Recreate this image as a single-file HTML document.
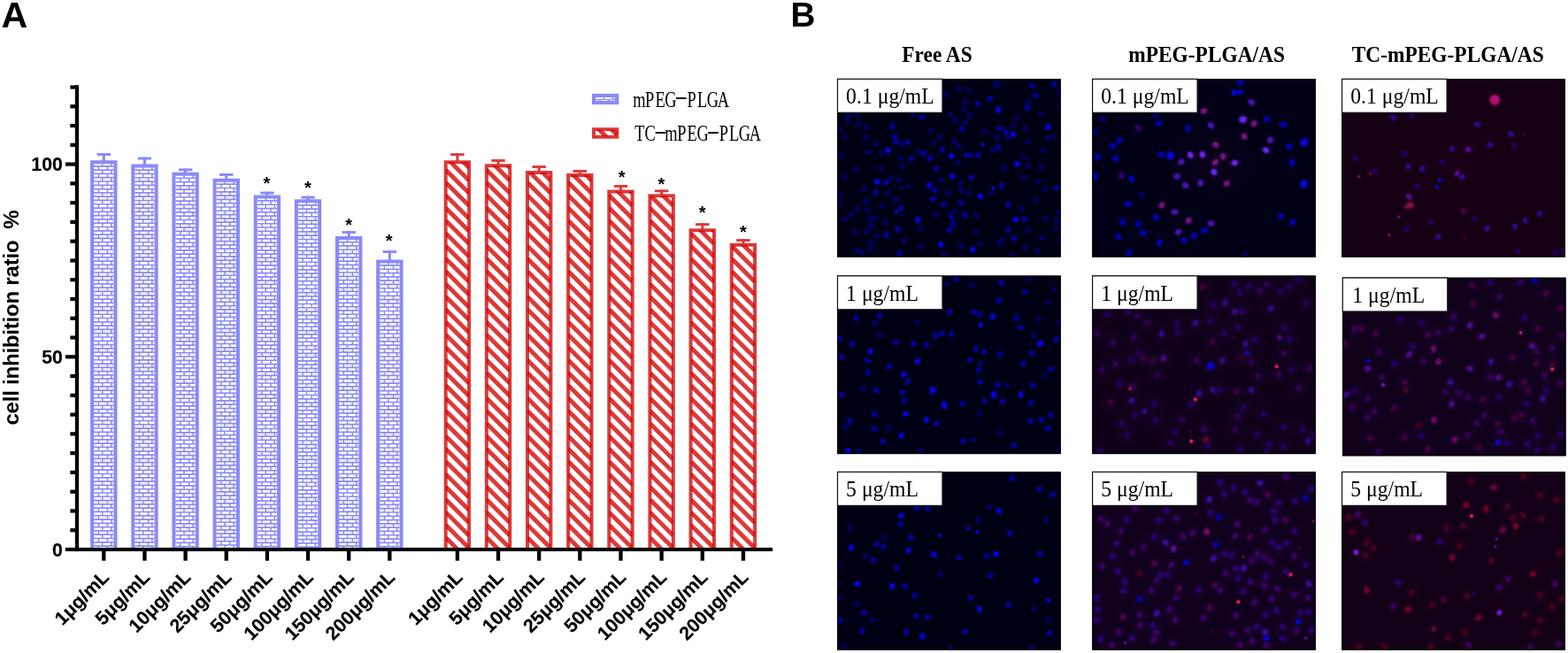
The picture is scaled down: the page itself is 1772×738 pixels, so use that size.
<!DOCTYPE html>
<html lang="en"><head><meta charset="utf-8"><title>Figure</title>
<style>
html,body{margin:0;padding:0;background:#fff;}
body{width:1772px;height:738px;overflow:hidden;position:relative;}
svg{position:absolute;left:0;top:0;display:block;}
text{font-family:"Liberation Sans",sans-serif;fill:#000;}
.b{font-weight:bold;}
.s{font-family:"Liberation Serif",serif;}
</style></head><body>
<svg width="1772" height="738" viewBox="0 0 1772 738">
<defs>
<filter id="bl" x="-50%" y="-50%" width="200%" height="200%"><feGaussianBlur stdDeviation="1.3"/></filter>
<radialGradient id="rg2"><stop offset="0" stop-color="#1c0018" stop-opacity="0.7"/><stop offset="1" stop-color="#1c0018" stop-opacity="0"/></radialGradient>
<radialGradient id="rg1"><stop offset="0" stop-color="#1a0420" stop-opacity="0.4"/><stop offset="1" stop-color="#1a0420" stop-opacity="0"/></radialGradient>
<radialGradient id="g000060"><stop offset="0" stop-color="#000060" stop-opacity="1"/><stop offset="0.34" stop-color="#000060" stop-opacity="0.95"/><stop offset="0.5" stop-color="#000060" stop-opacity="0.7"/><stop offset="0.62" stop-color="#000060" stop-opacity="0.4"/><stop offset="0.74" stop-color="#000060" stop-opacity="0.18"/><stop offset="0.87" stop-color="#000060" stop-opacity="0.07"/><stop offset="1" stop-color="#000060" stop-opacity="0"/></radialGradient><radialGradient id="g000068"><stop offset="0" stop-color="#000068" stop-opacity="1"/><stop offset="0.34" stop-color="#000068" stop-opacity="0.95"/><stop offset="0.5" stop-color="#000068" stop-opacity="0.7"/><stop offset="0.62" stop-color="#000068" stop-opacity="0.4"/><stop offset="0.74" stop-color="#000068" stop-opacity="0.18"/><stop offset="0.87" stop-color="#000068" stop-opacity="0.07"/><stop offset="1" stop-color="#000068" stop-opacity="0"/></radialGradient><radialGradient id="g00009e"><stop offset="0" stop-color="#00009e" stop-opacity="1"/><stop offset="0.34" stop-color="#00009e" stop-opacity="0.95"/><stop offset="0.5" stop-color="#00009e" stop-opacity="0.7"/><stop offset="0.62" stop-color="#00009e" stop-opacity="0.4"/><stop offset="0.74" stop-color="#00009e" stop-opacity="0.18"/><stop offset="0.87" stop-color="#00009e" stop-opacity="0.07"/><stop offset="1" stop-color="#00009e" stop-opacity="0"/></radialGradient><radialGradient id="g0000b2"><stop offset="0" stop-color="#0000b2" stop-opacity="1"/><stop offset="0.34" stop-color="#0000b2" stop-opacity="0.95"/><stop offset="0.5" stop-color="#0000b2" stop-opacity="0.7"/><stop offset="0.62" stop-color="#0000b2" stop-opacity="0.4"/><stop offset="0.74" stop-color="#0000b2" stop-opacity="0.18"/><stop offset="0.87" stop-color="#0000b2" stop-opacity="0.07"/><stop offset="1" stop-color="#0000b2" stop-opacity="0"/></radialGradient><radialGradient id="g0404de"><stop offset="0" stop-color="#0404de" stop-opacity="1"/><stop offset="0.34" stop-color="#0404de" stop-opacity="0.95"/><stop offset="0.5" stop-color="#0404de" stop-opacity="0.7"/><stop offset="0.62" stop-color="#0404de" stop-opacity="0.4"/><stop offset="0.74" stop-color="#0404de" stop-opacity="0.18"/><stop offset="0.87" stop-color="#0404de" stop-opacity="0.07"/><stop offset="1" stop-color="#0404de" stop-opacity="0"/></radialGradient><radialGradient id="g0606ec"><stop offset="0" stop-color="#0606ec" stop-opacity="1"/><stop offset="0.34" stop-color="#0606ec" stop-opacity="0.95"/><stop offset="0.5" stop-color="#0606ec" stop-opacity="0.7"/><stop offset="0.62" stop-color="#0606ec" stop-opacity="0.4"/><stop offset="0.74" stop-color="#0606ec" stop-opacity="0.18"/><stop offset="0.87" stop-color="#0606ec" stop-opacity="0.07"/><stop offset="1" stop-color="#0606ec" stop-opacity="0"/></radialGradient><radialGradient id="g2000aa"><stop offset="0" stop-color="#2000aa" stop-opacity="1"/><stop offset="0.34" stop-color="#2000aa" stop-opacity="0.95"/><stop offset="0.5" stop-color="#2000aa" stop-opacity="0.7"/><stop offset="0.62" stop-color="#2000aa" stop-opacity="0.4"/><stop offset="0.74" stop-color="#2000aa" stop-opacity="0.18"/><stop offset="0.87" stop-color="#2000aa" stop-opacity="0.07"/><stop offset="1" stop-color="#2000aa" stop-opacity="0"/></radialGradient><radialGradient id="g22005c"><stop offset="0" stop-color="#22005c" stop-opacity="1"/><stop offset="0.34" stop-color="#22005c" stop-opacity="0.95"/><stop offset="0.5" stop-color="#22005c" stop-opacity="0.7"/><stop offset="0.62" stop-color="#22005c" stop-opacity="0.4"/><stop offset="0.74" stop-color="#22005c" stop-opacity="0.18"/><stop offset="0.87" stop-color="#22005c" stop-opacity="0.07"/><stop offset="1" stop-color="#22005c" stop-opacity="0"/></radialGradient><radialGradient id="g22005e"><stop offset="0" stop-color="#22005e" stop-opacity="1"/><stop offset="0.34" stop-color="#22005e" stop-opacity="0.95"/><stop offset="0.5" stop-color="#22005e" stop-opacity="0.7"/><stop offset="0.62" stop-color="#22005e" stop-opacity="0.4"/><stop offset="0.74" stop-color="#22005e" stop-opacity="0.18"/><stop offset="0.87" stop-color="#22005e" stop-opacity="0.07"/><stop offset="1" stop-color="#22005e" stop-opacity="0"/></radialGradient><radialGradient id="g240062"><stop offset="0" stop-color="#240062" stop-opacity="1"/><stop offset="0.34" stop-color="#240062" stop-opacity="0.95"/><stop offset="0.5" stop-color="#240062" stop-opacity="0.7"/><stop offset="0.62" stop-color="#240062" stop-opacity="0.4"/><stop offset="0.74" stop-color="#240062" stop-opacity="0.18"/><stop offset="0.87" stop-color="#240062" stop-opacity="0.07"/><stop offset="1" stop-color="#240062" stop-opacity="0"/></radialGradient><radialGradient id="g2a0072"><stop offset="0" stop-color="#2a0072" stop-opacity="1"/><stop offset="0.34" stop-color="#2a0072" stop-opacity="0.95"/><stop offset="0.5" stop-color="#2a0072" stop-opacity="0.7"/><stop offset="0.62" stop-color="#2a0072" stop-opacity="0.4"/><stop offset="0.74" stop-color="#2a0072" stop-opacity="0.18"/><stop offset="0.87" stop-color="#2a0072" stop-opacity="0.07"/><stop offset="1" stop-color="#2a0072" stop-opacity="0"/></radialGradient><radialGradient id="g300050"><stop offset="0" stop-color="#300050" stop-opacity="1"/><stop offset="0.34" stop-color="#300050" stop-opacity="0.95"/><stop offset="0.5" stop-color="#300050" stop-opacity="0.7"/><stop offset="0.62" stop-color="#300050" stop-opacity="0.4"/><stop offset="0.74" stop-color="#300050" stop-opacity="0.18"/><stop offset="0.87" stop-color="#300050" stop-opacity="0.07"/><stop offset="1" stop-color="#300050" stop-opacity="0"/></radialGradient><radialGradient id="g30006c"><stop offset="0" stop-color="#30006c" stop-opacity="1"/><stop offset="0.34" stop-color="#30006c" stop-opacity="0.95"/><stop offset="0.5" stop-color="#30006c" stop-opacity="0.7"/><stop offset="0.62" stop-color="#30006c" stop-opacity="0.4"/><stop offset="0.74" stop-color="#30006c" stop-opacity="0.18"/><stop offset="0.87" stop-color="#30006c" stop-opacity="0.07"/><stop offset="1" stop-color="#30006c" stop-opacity="0"/></radialGradient><radialGradient id="g300882"><stop offset="0" stop-color="#300882" stop-opacity="1"/><stop offset="0.34" stop-color="#300882" stop-opacity="0.95"/><stop offset="0.5" stop-color="#300882" stop-opacity="0.7"/><stop offset="0.62" stop-color="#300882" stop-opacity="0.4"/><stop offset="0.74" stop-color="#300882" stop-opacity="0.18"/><stop offset="0.87" stop-color="#300882" stop-opacity="0.07"/><stop offset="1" stop-color="#300882" stop-opacity="0"/></radialGradient><radialGradient id="g30088c"><stop offset="0" stop-color="#30088c" stop-opacity="1"/><stop offset="0.34" stop-color="#30088c" stop-opacity="0.95"/><stop offset="0.5" stop-color="#30088c" stop-opacity="0.7"/><stop offset="0.62" stop-color="#30088c" stop-opacity="0.4"/><stop offset="0.74" stop-color="#30088c" stop-opacity="0.18"/><stop offset="0.87" stop-color="#30088c" stop-opacity="0.07"/><stop offset="1" stop-color="#30088c" stop-opacity="0"/></radialGradient><radialGradient id="g320054"><stop offset="0" stop-color="#320054" stop-opacity="1"/><stop offset="0.34" stop-color="#320054" stop-opacity="0.95"/><stop offset="0.5" stop-color="#320054" stop-opacity="0.7"/><stop offset="0.62" stop-color="#320054" stop-opacity="0.4"/><stop offset="0.74" stop-color="#320054" stop-opacity="0.18"/><stop offset="0.87" stop-color="#320054" stop-opacity="0.07"/><stop offset="1" stop-color="#320054" stop-opacity="0"/></radialGradient><radialGradient id="g340018"><stop offset="0" stop-color="#340018" stop-opacity="1"/><stop offset="0.34" stop-color="#340018" stop-opacity="0.95"/><stop offset="0.5" stop-color="#340018" stop-opacity="0.7"/><stop offset="0.62" stop-color="#340018" stop-opacity="0.4"/><stop offset="0.74" stop-color="#340018" stop-opacity="0.18"/><stop offset="0.87" stop-color="#340018" stop-opacity="0.07"/><stop offset="1" stop-color="#340018" stop-opacity="0"/></radialGradient><radialGradient id="g34088a"><stop offset="0" stop-color="#34088a" stop-opacity="1"/><stop offset="0.34" stop-color="#34088a" stop-opacity="0.95"/><stop offset="0.5" stop-color="#34088a" stop-opacity="0.7"/><stop offset="0.62" stop-color="#34088a" stop-opacity="0.4"/><stop offset="0.74" stop-color="#34088a" stop-opacity="0.18"/><stop offset="0.87" stop-color="#34088a" stop-opacity="0.07"/><stop offset="1" stop-color="#34088a" stop-opacity="0"/></radialGradient><radialGradient id="g380a9c"><stop offset="0" stop-color="#380a9c" stop-opacity="1"/><stop offset="0.34" stop-color="#380a9c" stop-opacity="0.95"/><stop offset="0.5" stop-color="#380a9c" stop-opacity="0.7"/><stop offset="0.62" stop-color="#380a9c" stop-opacity="0.4"/><stop offset="0.74" stop-color="#380a9c" stop-opacity="0.18"/><stop offset="0.87" stop-color="#380a9c" stop-opacity="0.07"/><stop offset="1" stop-color="#380a9c" stop-opacity="0"/></radialGradient><radialGradient id="g3a0062"><stop offset="0" stop-color="#3a0062" stop-opacity="1"/><stop offset="0.34" stop-color="#3a0062" stop-opacity="0.95"/><stop offset="0.5" stop-color="#3a0062" stop-opacity="0.7"/><stop offset="0.62" stop-color="#3a0062" stop-opacity="0.4"/><stop offset="0.74" stop-color="#3a0062" stop-opacity="0.18"/><stop offset="0.87" stop-color="#3a0062" stop-opacity="0.07"/><stop offset="1" stop-color="#3a0062" stop-opacity="0"/></radialGradient><radialGradient id="g3c0038"><stop offset="0" stop-color="#3c0038" stop-opacity="1"/><stop offset="0.34" stop-color="#3c0038" stop-opacity="0.95"/><stop offset="0.5" stop-color="#3c0038" stop-opacity="0.7"/><stop offset="0.62" stop-color="#3c0038" stop-opacity="0.4"/><stop offset="0.74" stop-color="#3c0038" stop-opacity="0.18"/><stop offset="0.87" stop-color="#3c0038" stop-opacity="0.07"/><stop offset="1" stop-color="#3c0038" stop-opacity="0"/></radialGradient><radialGradient id="g400034"><stop offset="0" stop-color="#400034" stop-opacity="1"/><stop offset="0.34" stop-color="#400034" stop-opacity="0.95"/><stop offset="0.5" stop-color="#400034" stop-opacity="0.7"/><stop offset="0.62" stop-color="#400034" stop-opacity="0.4"/><stop offset="0.74" stop-color="#400034" stop-opacity="0.18"/><stop offset="0.87" stop-color="#400034" stop-opacity="0.07"/><stop offset="1" stop-color="#400034" stop-opacity="0"/></radialGradient><radialGradient id="g40003c"><stop offset="0" stop-color="#40003c" stop-opacity="1"/><stop offset="0.34" stop-color="#40003c" stop-opacity="0.95"/><stop offset="0.5" stop-color="#40003c" stop-opacity="0.7"/><stop offset="0.62" stop-color="#40003c" stop-opacity="0.4"/><stop offset="0.74" stop-color="#40003c" stop-opacity="0.18"/><stop offset="0.87" stop-color="#40003c" stop-opacity="0.07"/><stop offset="1" stop-color="#40003c" stop-opacity="0"/></radialGradient><radialGradient id="g440022"><stop offset="0" stop-color="#440022" stop-opacity="1"/><stop offset="0.34" stop-color="#440022" stop-opacity="0.95"/><stop offset="0.5" stop-color="#440022" stop-opacity="0.7"/><stop offset="0.62" stop-color="#440022" stop-opacity="0.4"/><stop offset="0.74" stop-color="#440022" stop-opacity="0.18"/><stop offset="0.87" stop-color="#440022" stop-opacity="0.07"/><stop offset="1" stop-color="#440022" stop-opacity="0"/></radialGradient><radialGradient id="g46001c"><stop offset="0" stop-color="#46001c" stop-opacity="1"/><stop offset="0.34" stop-color="#46001c" stop-opacity="0.95"/><stop offset="0.5" stop-color="#46001c" stop-opacity="0.7"/><stop offset="0.62" stop-color="#46001c" stop-opacity="0.4"/><stop offset="0.74" stop-color="#46001c" stop-opacity="0.18"/><stop offset="0.87" stop-color="#46001c" stop-opacity="0.07"/><stop offset="1" stop-color="#46001c" stop-opacity="0"/></radialGradient><radialGradient id="g480046"><stop offset="0" stop-color="#480046" stop-opacity="1"/><stop offset="0.34" stop-color="#480046" stop-opacity="0.95"/><stop offset="0.5" stop-color="#480046" stop-opacity="0.7"/><stop offset="0.62" stop-color="#480046" stop-opacity="0.4"/><stop offset="0.74" stop-color="#480046" stop-opacity="0.18"/><stop offset="0.87" stop-color="#480046" stop-opacity="0.07"/><stop offset="1" stop-color="#480046" stop-opacity="0"/></radialGradient><radialGradient id="g48087e"><stop offset="0" stop-color="#48087e" stop-opacity="1"/><stop offset="0.34" stop-color="#48087e" stop-opacity="0.95"/><stop offset="0.5" stop-color="#48087e" stop-opacity="0.7"/><stop offset="0.62" stop-color="#48087e" stop-opacity="0.4"/><stop offset="0.74" stop-color="#48087e" stop-opacity="0.18"/><stop offset="0.87" stop-color="#48087e" stop-opacity="0.07"/><stop offset="1" stop-color="#48087e" stop-opacity="0"/></radialGradient><radialGradient id="g4c0a82"><stop offset="0" stop-color="#4c0a82" stop-opacity="1"/><stop offset="0.34" stop-color="#4c0a82" stop-opacity="0.95"/><stop offset="0.5" stop-color="#4c0a82" stop-opacity="0.7"/><stop offset="0.62" stop-color="#4c0a82" stop-opacity="0.4"/><stop offset="0.74" stop-color="#4c0a82" stop-opacity="0.18"/><stop offset="0.87" stop-color="#4c0a82" stop-opacity="0.07"/><stop offset="1" stop-color="#4c0a82" stop-opacity="0"/></radialGradient><radialGradient id="g4c10b4"><stop offset="0" stop-color="#4c10b4" stop-opacity="1"/><stop offset="0.34" stop-color="#4c10b4" stop-opacity="0.95"/><stop offset="0.5" stop-color="#4c10b4" stop-opacity="0.7"/><stop offset="0.62" stop-color="#4c10b4" stop-opacity="0.4"/><stop offset="0.74" stop-color="#4c10b4" stop-opacity="0.18"/><stop offset="0.87" stop-color="#4c10b4" stop-opacity="0.07"/><stop offset="1" stop-color="#4c10b4" stop-opacity="0"/></radialGradient><radialGradient id="g560a96"><stop offset="0" stop-color="#560a96" stop-opacity="1"/><stop offset="0.34" stop-color="#560a96" stop-opacity="0.95"/><stop offset="0.5" stop-color="#560a96" stop-opacity="0.7"/><stop offset="0.62" stop-color="#560a96" stop-opacity="0.4"/><stop offset="0.74" stop-color="#560a96" stop-opacity="0.18"/><stop offset="0.87" stop-color="#560a96" stop-opacity="0.07"/><stop offset="1" stop-color="#560a96" stop-opacity="0"/></radialGradient><radialGradient id="g5a0622"><stop offset="0" stop-color="#5a0622" stop-opacity="1"/><stop offset="0.34" stop-color="#5a0622" stop-opacity="0.95"/><stop offset="0.5" stop-color="#5a0622" stop-opacity="0.7"/><stop offset="0.62" stop-color="#5a0622" stop-opacity="0.4"/><stop offset="0.74" stop-color="#5a0622" stop-opacity="0.18"/><stop offset="0.87" stop-color="#5a0622" stop-opacity="0.07"/><stop offset="1" stop-color="#5a0622" stop-opacity="0"/></radialGradient><radialGradient id="g66004c"><stop offset="0" stop-color="#66004c" stop-opacity="1"/><stop offset="0.34" stop-color="#66004c" stop-opacity="0.95"/><stop offset="0.5" stop-color="#66004c" stop-opacity="0.7"/><stop offset="0.62" stop-color="#66004c" stop-opacity="0.4"/><stop offset="0.74" stop-color="#66004c" stop-opacity="0.18"/><stop offset="0.87" stop-color="#66004c" stop-opacity="0.07"/><stop offset="1" stop-color="#66004c" stop-opacity="0"/></radialGradient><radialGradient id="g680860"><stop offset="0" stop-color="#680860" stop-opacity="1"/><stop offset="0.34" stop-color="#680860" stop-opacity="0.95"/><stop offset="0.5" stop-color="#680860" stop-opacity="0.7"/><stop offset="0.62" stop-color="#680860" stop-opacity="0.4"/><stop offset="0.74" stop-color="#680860" stop-opacity="0.18"/><stop offset="0.87" stop-color="#680860" stop-opacity="0.07"/><stop offset="1" stop-color="#680860" stop-opacity="0"/></radialGradient><radialGradient id="g6a24ee"><stop offset="0" stop-color="#6a24ee" stop-opacity="1"/><stop offset="0.34" stop-color="#6a24ee" stop-opacity="0.95"/><stop offset="0.5" stop-color="#6a24ee" stop-opacity="0.7"/><stop offset="0.62" stop-color="#6a24ee" stop-opacity="0.4"/><stop offset="0.74" stop-color="#6a24ee" stop-opacity="0.18"/><stop offset="0.87" stop-color="#6a24ee" stop-opacity="0.07"/><stop offset="1" stop-color="#6a24ee" stop-opacity="0"/></radialGradient><radialGradient id="g72002a"><stop offset="0" stop-color="#72002a" stop-opacity="1"/><stop offset="0.34" stop-color="#72002a" stop-opacity="0.95"/><stop offset="0.5" stop-color="#72002a" stop-opacity="0.7"/><stop offset="0.62" stop-color="#72002a" stop-opacity="0.4"/><stop offset="0.74" stop-color="#72002a" stop-opacity="0.18"/><stop offset="0.87" stop-color="#72002a" stop-opacity="0.07"/><stop offset="1" stop-color="#72002a" stop-opacity="0"/></radialGradient><radialGradient id="g74086a"><stop offset="0" stop-color="#74086a" stop-opacity="1"/><stop offset="0.34" stop-color="#74086a" stop-opacity="0.95"/><stop offset="0.5" stop-color="#74086a" stop-opacity="0.7"/><stop offset="0.62" stop-color="#74086a" stop-opacity="0.4"/><stop offset="0.74" stop-color="#74086a" stop-opacity="0.18"/><stop offset="0.87" stop-color="#74086a" stop-opacity="0.07"/><stop offset="1" stop-color="#74086a" stop-opacity="0"/></radialGradient><radialGradient id="g7418e0"><stop offset="0" stop-color="#7418e0" stop-opacity="1"/><stop offset="0.34" stop-color="#7418e0" stop-opacity="0.95"/><stop offset="0.5" stop-color="#7418e0" stop-opacity="0.7"/><stop offset="0.62" stop-color="#7418e0" stop-opacity="0.4"/><stop offset="0.74" stop-color="#7418e0" stop-opacity="0.18"/><stop offset="0.87" stop-color="#7418e0" stop-opacity="0.07"/><stop offset="1" stop-color="#7418e0" stop-opacity="0"/></radialGradient><radialGradient id="g780830"><stop offset="0" stop-color="#780830" stop-opacity="1"/><stop offset="0.34" stop-color="#780830" stop-opacity="0.95"/><stop offset="0.5" stop-color="#780830" stop-opacity="0.7"/><stop offset="0.62" stop-color="#780830" stop-opacity="0.4"/><stop offset="0.74" stop-color="#780830" stop-opacity="0.18"/><stop offset="0.87" stop-color="#780830" stop-opacity="0.07"/><stop offset="1" stop-color="#780830" stop-opacity="0"/></radialGradient><radialGradient id="g78107c"><stop offset="0" stop-color="#78107c" stop-opacity="1"/><stop offset="0.34" stop-color="#78107c" stop-opacity="0.95"/><stop offset="0.5" stop-color="#78107c" stop-opacity="0.7"/><stop offset="0.62" stop-color="#78107c" stop-opacity="0.4"/><stop offset="0.74" stop-color="#78107c" stop-opacity="0.18"/><stop offset="0.87" stop-color="#78107c" stop-opacity="0.07"/><stop offset="1" stop-color="#78107c" stop-opacity="0"/></radialGradient><radialGradient id="gac1494"><stop offset="0" stop-color="#ac1494" stop-opacity="1"/><stop offset="0.34" stop-color="#ac1494" stop-opacity="0.95"/><stop offset="0.5" stop-color="#ac1494" stop-opacity="0.7"/><stop offset="0.62" stop-color="#ac1494" stop-opacity="0.4"/><stop offset="0.74" stop-color="#ac1494" stop-opacity="0.18"/><stop offset="0.87" stop-color="#ac1494" stop-opacity="0.07"/><stop offset="1" stop-color="#ac1494" stop-opacity="0"/></radialGradient><radialGradient id="gff1460"><stop offset="0" stop-color="#ff1460" stop-opacity="1"/><stop offset="0.34" stop-color="#ff1460" stop-opacity="0.95"/><stop offset="0.5" stop-color="#ff1460" stop-opacity="0.7"/><stop offset="0.62" stop-color="#ff1460" stop-opacity="0.4"/><stop offset="0.74" stop-color="#ff1460" stop-opacity="0.18"/><stop offset="0.87" stop-color="#ff1460" stop-opacity="0.07"/><stop offset="1" stop-color="#ff1460" stop-opacity="0"/></radialGradient><radialGradient id="hv"><stop offset="0" stop-color="#30105a" stop-opacity="0.16"/><stop offset="0.5" stop-color="#30105a" stop-opacity="0.07"/><stop offset="1" stop-color="#30105a" stop-opacity="0"/></radialGradient><radialGradient id="hr"><stop offset="0" stop-color="#401030" stop-opacity="0.14"/><stop offset="0.5" stop-color="#401030" stop-opacity="0.06"/><stop offset="1" stop-color="#401030" stop-opacity="0"/></radialGradient></defs>
<text class="b" x="1.6" y="30.9" font-size="41.2">A</text>
<text class="b" x="893.4" y="30.4" font-size="38.8">B</text>
<g fill="#000">
<rect x="84.83" y="96.2" width="4.25" height="526.92"/>
<rect x="73.9" y="618.95" width="799.20" height="4.1"/>
<rect x="79.35" y="597.13" width="7.60" height="4.2"/>
<rect x="79.35" y="575.36" width="7.60" height="4.2"/>
<rect x="79.35" y="553.59" width="7.60" height="4.2"/>
<rect x="79.35" y="531.82" width="7.60" height="4.2"/>
<rect x="79.35" y="510.05" width="7.60" height="4.2"/>
<rect x="79.35" y="488.28" width="7.60" height="4.2"/>
<rect x="79.35" y="466.51" width="7.60" height="4.2"/>
<rect x="79.35" y="444.74" width="7.60" height="4.2"/>
<rect x="79.35" y="422.97" width="7.60" height="4.2"/>
<rect x="73.9" y="401.20" width="13.05" height="4.2"/>
<rect x="79.35" y="379.43" width="7.60" height="4.2"/>
<rect x="79.35" y="357.66" width="7.60" height="4.2"/>
<rect x="79.35" y="335.89" width="7.60" height="4.2"/>
<rect x="79.35" y="314.12" width="7.60" height="4.2"/>
<rect x="79.35" y="292.35" width="7.60" height="4.2"/>
<rect x="79.35" y="270.58" width="7.60" height="4.2"/>
<rect x="79.35" y="248.81" width="7.60" height="4.2"/>
<rect x="79.35" y="227.04" width="7.60" height="4.2"/>
<rect x="79.35" y="205.27" width="7.60" height="4.2"/>
<rect x="73.9" y="183.50" width="13.05" height="4.2"/>
<rect x="79.35" y="161.73" width="7.60" height="4.2"/>
<rect x="79.35" y="139.96" width="7.60" height="4.2"/>
<rect x="79.35" y="118.19" width="7.60" height="4.2"/>
<rect x="79.35" y="96.42" width="7.60" height="4.2"/>
<rect x="115.15" y="621.00" width="4.3" height="12.70"/>
<rect x="161.30" y="621.00" width="4.3" height="12.70"/>
<rect x="207.45" y="621.00" width="4.3" height="12.70"/>
<rect x="253.60" y="621.00" width="4.3" height="12.70"/>
<rect x="299.75" y="621.00" width="4.3" height="12.70"/>
<rect x="345.90" y="621.00" width="4.3" height="12.70"/>
<rect x="392.05" y="621.00" width="4.3" height="12.70"/>
<rect x="438.20" y="621.00" width="4.3" height="12.70"/>
<rect x="514.75" y="621.00" width="4.3" height="12.70"/>
<rect x="560.90" y="621.00" width="4.3" height="12.70"/>
<rect x="607.05" y="621.00" width="4.3" height="12.70"/>
<rect x="653.20" y="621.00" width="4.3" height="12.70"/>
<rect x="699.35" y="621.00" width="4.3" height="12.70"/>
<rect x="745.50" y="621.00" width="4.3" height="12.70"/>
<rect x="791.65" y="621.00" width="4.3" height="12.70"/>
<rect x="837.80" y="621.00" width="4.3" height="12.70"/>
</g>
<text class="b" x="70.9" y="193.40" font-size="21.3" text-anchor="end" stroke="#000" stroke-width="0.15">100</text>
<text class="b" x="70.9" y="411.00" font-size="21.3" text-anchor="end" stroke="#000" stroke-width="0.15">50</text>
<text class="b" x="70.9" y="628.70" font-size="21.3" text-anchor="end" stroke="#000" stroke-width="0.15">0</text>
<text class="b" font-size="24" letter-spacing="-0.21" transform="translate(21.3,480.6) rotate(-90)" xml:space="preserve">cell inhibition ratio  %</text>
<g fill="#8a8af8"><path fill-rule="evenodd" d="M102.10 181.25H132.50V619.10H102.10Z M106.10 185.25V619.10H128.50V185.25Z"/><path d="M106.10 186.97H128.50V188.67H106.10ZM106.10 191.27H128.50V192.97H106.10ZM106.10 195.56H128.50V197.26H106.10ZM106.10 199.85H128.50V201.55H106.10ZM106.10 204.14H128.50V205.84H106.10ZM106.10 208.44H128.50V210.13H106.10ZM106.10 212.73H128.50V214.43H106.10ZM106.10 217.02H128.50V218.72H106.10ZM106.10 221.31H128.50V223.01H106.10ZM106.10 225.61H128.50V227.31H106.10ZM106.10 229.90H128.50V231.60H106.10ZM106.10 234.19H128.50V235.89H106.10ZM106.10 238.48H128.50V240.18H106.10ZM106.10 242.78H128.50V244.47H106.10ZM106.10 247.07H128.50V248.77H106.10ZM106.10 251.36H128.50V253.06H106.10ZM106.10 255.65H128.50V257.35H106.10ZM106.10 259.94H128.50V261.65H106.10ZM106.10 264.24H128.50V265.94H106.10ZM106.10 268.53H128.50V270.23H106.10ZM106.10 272.82H128.50V274.52H106.10ZM106.10 277.12H128.50V278.82H106.10ZM106.10 281.41H128.50V283.11H106.10ZM106.10 285.70H128.50V287.40H106.10ZM106.10 289.99H128.50V291.69H106.10ZM106.10 294.28H128.50V295.99H106.10ZM106.10 298.58H128.50V300.28H106.10ZM106.10 302.87H128.50V304.57H106.10ZM106.10 307.16H128.50V308.86H106.10ZM106.10 311.45H128.50V313.16H106.10ZM106.10 315.75H128.50V317.45H106.10ZM106.10 320.04H128.50V321.74H106.10ZM106.10 324.33H128.50V326.03H106.10ZM106.10 328.62H128.50V330.33H106.10ZM106.10 332.92H128.50V334.62H106.10ZM106.10 337.21H128.50V338.91H106.10ZM106.10 341.50H128.50V343.20H106.10ZM106.10 345.79H128.50V347.50H106.10ZM106.10 350.09H128.50V351.79H106.10ZM106.10 354.38H128.50V356.08H106.10ZM106.10 358.67H128.50V360.37H106.10ZM106.10 362.97H128.50V364.67H106.10ZM106.10 367.26H128.50V368.96H106.10ZM106.10 371.55H128.50V373.25H106.10ZM106.10 375.84H128.50V377.54H106.10ZM106.10 380.13H128.50V381.84H106.10ZM106.10 384.43H128.50V386.13H106.10ZM106.10 388.72H128.50V390.42H106.10ZM106.10 393.01H128.50V394.71H106.10ZM106.10 397.31H128.50V399.01H106.10ZM106.10 401.60H128.50V403.30H106.10ZM106.10 405.89H128.50V407.59H106.10ZM106.10 410.18H128.50V411.88H106.10ZM106.10 414.48H128.50V416.18H106.10ZM106.10 418.77H128.50V420.47H106.10ZM106.10 423.06H128.50V424.76H106.10ZM106.10 427.35H128.50V429.05H106.10ZM106.10 431.64H128.50V433.35H106.10ZM106.10 435.94H128.50V437.64H106.10ZM106.10 440.23H128.50V441.93H106.10ZM106.10 444.52H128.50V446.22H106.10ZM106.10 448.82H128.50V450.52H106.10ZM106.10 453.11H128.50V454.81H106.10ZM106.10 457.40H128.50V459.10H106.10ZM106.10 461.69H128.50V463.39H106.10ZM106.10 465.99H128.50V467.69H106.10ZM106.10 470.28H128.50V471.98H106.10ZM106.10 474.57H128.50V476.27H106.10ZM106.10 478.86H128.50V480.56H106.10ZM106.10 483.15H128.50V484.86H106.10ZM106.10 487.45H128.50V489.15H106.10ZM106.10 491.74H128.50V493.44H106.10ZM106.10 496.03H128.50V497.73H106.10ZM106.10 500.33H128.50V502.03H106.10ZM106.10 504.62H128.50V506.32H106.10ZM106.10 508.91H128.50V510.61H106.10ZM106.10 513.20H128.50V514.90H106.10ZM106.10 517.50H128.50V519.20H106.10ZM106.10 521.79H128.50V523.49H106.10ZM106.10 526.08H128.50V527.78H106.10ZM106.10 530.37H128.50V532.07H106.10ZM106.10 534.66H128.50V536.37H106.10ZM106.10 538.96H128.50V540.66H106.10ZM106.10 543.25H128.50V544.95H106.10ZM106.10 547.54H128.50V549.24H106.10ZM106.10 551.84H128.50V553.54H106.10ZM106.10 556.13H128.50V557.83H106.10ZM106.10 560.42H128.50V562.12H106.10ZM106.10 564.71H128.50V566.41H106.10ZM106.10 569.00H128.50V570.71H106.10ZM106.10 573.30H128.50V575.00H106.10ZM106.10 577.59H128.50V579.29H106.10ZM106.10 581.88H128.50V583.58H106.10ZM106.10 586.18H128.50V587.88H106.10ZM106.10 590.47H128.50V592.17H106.10ZM106.10 594.76H128.50V596.46H106.10ZM106.10 599.05H128.50V600.75H106.10ZM106.10 603.35H128.50V605.05H106.10ZM106.10 607.64H128.50V609.34H106.10ZM106.10 611.93H128.50V613.63H106.10ZM106.10 616.22H128.50V617.92H106.10ZM106.10 183.53H106.40V187.82H106.10ZM114.95 183.53H116.45V187.82H114.95ZM125.00 183.53H126.50V187.82H125.00ZM110.65 187.82H112.15V192.11H110.65ZM120.70 187.82H122.20V192.11H120.70ZM106.10 192.12H106.40V196.41H106.10ZM114.95 192.12H116.45V196.41H114.95ZM125.00 192.12H126.50V196.41H125.00ZM110.65 196.41H112.15V200.70H110.65ZM120.70 196.41H122.20V200.70H120.70ZM106.10 200.70H106.40V204.99H106.10ZM114.95 200.70H116.45V204.99H114.95ZM125.00 200.70H126.50V204.99H125.00ZM110.65 204.99H112.15V209.28H110.65ZM120.70 204.99H122.20V209.28H120.70ZM106.10 209.28H106.40V213.58H106.10ZM114.95 209.28H116.45V213.58H114.95ZM125.00 209.28H126.50V213.58H125.00ZM110.65 213.58H112.15V217.87H110.65ZM120.70 213.58H122.20V217.87H120.70ZM106.10 217.87H106.40V222.16H106.10ZM114.95 217.87H116.45V222.16H114.95ZM125.00 217.87H126.50V222.16H125.00ZM110.65 222.16H112.15V226.46H110.65ZM120.70 222.16H122.20V226.46H120.70ZM106.10 226.46H106.40V230.75H106.10ZM114.95 226.46H116.45V230.75H114.95ZM125.00 226.46H126.50V230.75H125.00ZM110.65 230.75H112.15V235.04H110.65ZM120.70 230.75H122.20V235.04H120.70ZM106.10 235.04H106.40V239.33H106.10ZM114.95 235.04H116.45V239.33H114.95ZM125.00 235.04H126.50V239.33H125.00ZM110.65 239.33H112.15V243.62H110.65ZM120.70 239.33H122.20V243.62H120.70ZM106.10 243.62H106.40V247.92H106.10ZM114.95 243.62H116.45V247.92H114.95ZM125.00 243.62H126.50V247.92H125.00ZM110.65 247.92H112.15V252.21H110.65ZM120.70 247.92H122.20V252.21H120.70ZM106.10 252.21H106.40V256.50H106.10ZM114.95 252.21H116.45V256.50H114.95ZM125.00 252.21H126.50V256.50H125.00ZM110.65 256.50H112.15V260.80H110.65ZM120.70 256.50H122.20V260.80H120.70ZM106.10 260.80H106.40V265.09H106.10ZM114.95 260.80H116.45V265.09H114.95ZM125.00 260.80H126.50V265.09H125.00ZM110.65 265.09H112.15V269.38H110.65ZM120.70 265.09H122.20V269.38H120.70ZM106.10 269.38H106.40V273.67H106.10ZM114.95 269.38H116.45V273.67H114.95ZM125.00 269.38H126.50V273.67H125.00ZM110.65 273.67H112.15V277.97H110.65ZM120.70 273.67H122.20V277.97H120.70ZM106.10 277.97H106.40V282.26H106.10ZM114.95 277.97H116.45V282.26H114.95ZM125.00 277.97H126.50V282.26H125.00ZM110.65 282.26H112.15V286.55H110.65ZM120.70 282.26H122.20V286.55H120.70ZM106.10 286.55H106.40V290.84H106.10ZM114.95 286.55H116.45V290.84H114.95ZM125.00 286.55H126.50V290.84H125.00ZM110.65 290.84H112.15V295.14H110.65ZM120.70 290.84H122.20V295.14H120.70ZM106.10 295.13H106.40V299.43H106.10ZM114.95 295.13H116.45V299.43H114.95ZM125.00 295.13H126.50V299.43H125.00ZM110.65 299.43H112.15V303.72H110.65ZM120.70 299.43H122.20V303.72H120.70ZM106.10 303.72H106.40V308.01H106.10ZM114.95 303.72H116.45V308.01H114.95ZM125.00 303.72H126.50V308.01H125.00ZM110.65 308.01H112.15V312.31H110.65ZM120.70 308.01H122.20V312.31H120.70ZM106.10 312.31H106.40V316.60H106.10ZM114.95 312.31H116.45V316.60H114.95ZM125.00 312.31H126.50V316.60H125.00ZM110.65 316.60H112.15V320.89H110.65ZM120.70 316.60H122.20V320.89H120.70ZM106.10 320.89H106.40V325.18H106.10ZM114.95 320.89H116.45V325.18H114.95ZM125.00 320.89H126.50V325.18H125.00ZM110.65 325.18H112.15V329.48H110.65ZM120.70 325.18H122.20V329.48H120.70ZM106.10 329.48H106.40V333.77H106.10ZM114.95 329.48H116.45V333.77H114.95ZM125.00 329.48H126.50V333.77H125.00ZM110.65 333.77H112.15V338.06H110.65ZM120.70 333.77H122.20V338.06H120.70ZM106.10 338.06H106.40V342.35H106.10ZM114.95 338.06H116.45V342.35H114.95ZM125.00 338.06H126.50V342.35H125.00ZM110.65 342.35H112.15V346.65H110.65ZM120.70 342.35H122.20V346.65H120.70ZM106.10 346.64H106.40V350.94H106.10ZM114.95 346.64H116.45V350.94H114.95ZM125.00 346.64H126.50V350.94H125.00ZM110.65 350.94H112.15V355.23H110.65ZM120.70 350.94H122.20V355.23H120.70ZM106.10 355.23H106.40V359.52H106.10ZM114.95 355.23H116.45V359.52H114.95ZM125.00 355.23H126.50V359.52H125.00ZM110.65 359.52H112.15V363.82H110.65ZM120.70 359.52H122.20V363.82H120.70ZM106.10 363.82H106.40V368.11H106.10ZM114.95 363.82H116.45V368.11H114.95ZM125.00 363.82H126.50V368.11H125.00ZM110.65 368.11H112.15V372.40H110.65ZM120.70 368.11H122.20V372.40H120.70ZM106.10 372.40H106.40V376.69H106.10ZM114.95 372.40H116.45V376.69H114.95ZM125.00 372.40H126.50V376.69H125.00ZM110.65 376.69H112.15V380.99H110.65ZM120.70 376.69H122.20V380.99H120.70ZM106.10 380.99H106.40V385.28H106.10ZM114.95 380.99H116.45V385.28H114.95ZM125.00 380.99H126.50V385.28H125.00ZM110.65 385.28H112.15V389.57H110.65ZM120.70 385.28H122.20V389.57H120.70ZM106.10 389.57H106.40V393.86H106.10ZM114.95 389.57H116.45V393.86H114.95ZM125.00 389.57H126.50V393.86H125.00ZM110.65 393.86H112.15V398.16H110.65ZM120.70 393.86H122.20V398.16H120.70ZM106.10 398.16H106.40V402.45H106.10ZM114.95 398.16H116.45V402.45H114.95ZM125.00 398.16H126.50V402.45H125.00ZM110.65 402.45H112.15V406.74H110.65ZM120.70 402.45H122.20V406.74H120.70ZM106.10 406.74H106.40V411.03H106.10ZM114.95 406.74H116.45V411.03H114.95ZM125.00 406.74H126.50V411.03H125.00ZM110.65 411.03H112.15V415.33H110.65ZM120.70 411.03H122.20V415.33H120.70ZM106.10 415.33H106.40V419.62H106.10ZM114.95 415.33H116.45V419.62H114.95ZM125.00 415.33H126.50V419.62H125.00ZM110.65 419.62H112.15V423.91H110.65ZM120.70 419.62H122.20V423.91H120.70ZM106.10 423.91H106.40V428.20H106.10ZM114.95 423.91H116.45V428.20H114.95ZM125.00 423.91H126.50V428.20H125.00ZM110.65 428.20H112.15V432.50H110.65ZM120.70 428.20H122.20V432.50H120.70ZM106.10 432.50H106.40V436.79H106.10ZM114.95 432.50H116.45V436.79H114.95ZM125.00 432.50H126.50V436.79H125.00ZM110.65 436.79H112.15V441.08H110.65ZM120.70 436.79H122.20V441.08H120.70ZM106.10 441.08H106.40V445.37H106.10ZM114.95 441.08H116.45V445.37H114.95ZM125.00 441.08H126.50V445.37H125.00ZM110.65 445.37H112.15V449.67H110.65ZM120.70 445.37H122.20V449.67H120.70ZM106.10 449.67H106.40V453.96H106.10ZM114.95 449.67H116.45V453.96H114.95ZM125.00 449.67H126.50V453.96H125.00ZM110.65 453.96H112.15V458.25H110.65ZM120.70 453.96H122.20V458.25H120.70ZM106.10 458.25H106.40V462.54H106.10ZM114.95 458.25H116.45V462.54H114.95ZM125.00 458.25H126.50V462.54H125.00ZM110.65 462.54H112.15V466.84H110.65ZM120.70 462.54H122.20V466.84H120.70ZM106.10 466.84H106.40V471.13H106.10ZM114.95 466.84H116.45V471.13H114.95ZM125.00 466.84H126.50V471.13H125.00ZM110.65 471.13H112.15V475.42H110.65ZM120.70 471.13H122.20V475.42H120.70ZM106.10 475.42H106.40V479.71H106.10ZM114.95 475.42H116.45V479.71H114.95ZM125.00 475.42H126.50V479.71H125.00ZM110.65 479.71H112.15V484.00H110.65ZM120.70 479.71H122.20V484.00H120.70ZM106.10 484.00H106.40V488.30H106.10ZM114.95 484.00H116.45V488.30H114.95ZM125.00 484.00H126.50V488.30H125.00ZM110.65 488.30H112.15V492.59H110.65ZM120.70 488.30H122.20V492.59H120.70ZM106.10 492.59H106.40V496.88H106.10ZM114.95 492.59H116.45V496.88H114.95ZM125.00 492.59H126.50V496.88H125.00ZM110.65 496.88H112.15V501.18H110.65ZM120.70 496.88H122.20V501.18H120.70ZM106.10 501.18H106.40V505.47H106.10ZM114.95 501.18H116.45V505.47H114.95ZM125.00 501.18H126.50V505.47H125.00ZM110.65 505.47H112.15V509.76H110.65ZM120.70 505.47H122.20V509.76H120.70ZM106.10 509.76H106.40V514.05H106.10ZM114.95 509.76H116.45V514.05H114.95ZM125.00 509.76H126.50V514.05H125.00ZM110.65 514.05H112.15V518.35H110.65ZM120.70 514.05H122.20V518.35H120.70ZM106.10 518.35H106.40V522.64H106.10ZM114.95 518.35H116.45V522.64H114.95ZM125.00 518.35H126.50V522.64H125.00ZM110.65 522.64H112.15V526.93H110.65ZM120.70 522.64H122.20V526.93H120.70ZM106.10 526.93H106.40V531.22H106.10ZM114.95 526.93H116.45V531.22H114.95ZM125.00 526.93H126.50V531.22H125.00ZM110.65 531.22H112.15V535.52H110.65ZM120.70 531.22H122.20V535.52H120.70ZM106.10 535.51H106.40V539.81H106.10ZM114.95 535.51H116.45V539.81H114.95ZM125.00 535.51H126.50V539.81H125.00ZM110.65 539.81H112.15V544.10H110.65ZM120.70 539.81H122.20V544.10H120.70ZM106.10 544.10H106.40V548.39H106.10ZM114.95 544.10H116.45V548.39H114.95ZM125.00 544.10H126.50V548.39H125.00ZM110.65 548.39H112.15V552.69H110.65ZM120.70 548.39H122.20V552.69H120.70ZM106.10 552.69H106.40V556.98H106.10ZM114.95 552.69H116.45V556.98H114.95ZM125.00 552.69H126.50V556.98H125.00ZM110.65 556.98H112.15V561.27H110.65ZM120.70 556.98H122.20V561.27H120.70ZM106.10 561.27H106.40V565.56H106.10ZM114.95 561.27H116.45V565.56H114.95ZM125.00 561.27H126.50V565.56H125.00ZM110.65 565.56H112.15V569.86H110.65ZM120.70 565.56H122.20V569.86H120.70ZM106.10 569.86H106.40V574.15H106.10ZM114.95 569.86H116.45V574.15H114.95ZM125.00 569.86H126.50V574.15H125.00ZM110.65 574.15H112.15V578.44H110.65ZM120.70 574.15H122.20V578.44H120.70ZM106.10 578.44H106.40V582.73H106.10ZM114.95 578.44H116.45V582.73H114.95ZM125.00 578.44H126.50V582.73H125.00ZM110.65 582.73H112.15V587.03H110.65ZM120.70 582.73H122.20V587.03H120.70ZM106.10 587.03H106.40V591.32H106.10ZM114.95 587.03H116.45V591.32H114.95ZM125.00 587.03H126.50V591.32H125.00ZM110.65 591.32H112.15V595.61H110.65ZM120.70 591.32H122.20V595.61H120.70ZM106.10 595.61H106.40V599.90H106.10ZM114.95 595.61H116.45V599.90H114.95ZM125.00 595.61H126.50V599.90H125.00ZM110.65 599.90H112.15V604.20H110.65ZM120.70 599.90H122.20V604.20H120.70ZM106.10 604.20H106.40V608.49H106.10ZM114.95 604.20H116.45V608.49H114.95ZM125.00 604.20H126.50V608.49H125.00ZM110.65 608.49H112.15V612.78H110.65ZM120.70 608.49H122.20V612.78H120.70ZM106.10 612.78H106.40V617.07H106.10ZM114.95 612.78H116.45V617.07H114.95ZM125.00 612.78H126.50V617.07H125.00ZM110.65 617.07H112.15V619.10H110.65ZM120.70 617.07H122.20V619.10H120.70Z"/></g>
<g fill="#8a8af8"><rect x="109.60" y="173.10" width="15.4" height="2.9"/><rect x="115.75" y="173.10" width="3.1" height="9.15"/></g>
<g fill="#8a8af8"><path fill-rule="evenodd" d="M148.25 185.60H178.65V619.10H148.25Z M152.25 189.60V619.10H174.65V189.60Z"/><path d="M152.25 191.32H174.65V193.02H152.25ZM152.25 195.62H174.65V197.31H152.25ZM152.25 199.91H174.65V201.61H152.25ZM152.25 204.20H174.65V205.90H152.25ZM152.25 208.49H174.65V210.19H152.25ZM152.25 212.78H174.65V214.48H152.25ZM152.25 217.08H174.65V218.78H152.25ZM152.25 221.37H174.65V223.07H152.25ZM152.25 225.66H174.65V227.36H152.25ZM152.25 229.96H174.65V231.66H152.25ZM152.25 234.25H174.65V235.95H152.25ZM152.25 238.54H174.65V240.24H152.25ZM152.25 242.83H174.65V244.53H152.25ZM152.25 247.12H174.65V248.82H152.25ZM152.25 251.42H174.65V253.12H152.25ZM152.25 255.71H174.65V257.41H152.25ZM152.25 260.00H174.65V261.70H152.25ZM152.25 264.29H174.65V266.00H152.25ZM152.25 268.59H174.65V270.29H152.25ZM152.25 272.88H174.65V274.58H152.25ZM152.25 277.17H174.65V278.87H152.25ZM152.25 281.46H174.65V283.17H152.25ZM152.25 285.76H174.65V287.46H152.25ZM152.25 290.05H174.65V291.75H152.25ZM152.25 294.34H174.65V296.04H152.25ZM152.25 298.63H174.65V300.34H152.25ZM152.25 302.93H174.65V304.63H152.25ZM152.25 307.22H174.65V308.92H152.25ZM152.25 311.51H174.65V313.21H152.25ZM152.25 315.80H174.65V317.50H152.25ZM152.25 320.10H174.65V321.80H152.25ZM152.25 324.39H174.65V326.09H152.25ZM152.25 328.68H174.65V330.38H152.25ZM152.25 332.98H174.65V334.68H152.25ZM152.25 337.27H174.65V338.97H152.25ZM152.25 341.56H174.65V343.26H152.25ZM152.25 345.85H174.65V347.55H152.25ZM152.25 350.14H174.65V351.85H152.25ZM152.25 354.44H174.65V356.14H152.25ZM152.25 358.73H174.65V360.43H152.25ZM152.25 363.02H174.65V364.72H152.25ZM152.25 367.31H174.65V369.02H152.25ZM152.25 371.61H174.65V373.31H152.25ZM152.25 375.90H174.65V377.60H152.25ZM152.25 380.19H174.65V381.89H152.25ZM152.25 384.49H174.65V386.19H152.25ZM152.25 388.78H174.65V390.48H152.25ZM152.25 393.07H174.65V394.77H152.25ZM152.25 397.36H174.65V399.06H152.25ZM152.25 401.65H174.65V403.36H152.25ZM152.25 405.95H174.65V407.65H152.25ZM152.25 410.24H174.65V411.94H152.25ZM152.25 414.53H174.65V416.23H152.25ZM152.25 418.82H174.65V420.53H152.25ZM152.25 423.12H174.65V424.82H152.25ZM152.25 427.41H174.65V429.11H152.25ZM152.25 431.70H174.65V433.40H152.25ZM152.25 436.00H174.65V437.70H152.25ZM152.25 440.29H174.65V441.99H152.25ZM152.25 444.58H174.65V446.28H152.25ZM152.25 448.87H174.65V450.57H152.25ZM152.25 453.17H174.65V454.87H152.25ZM152.25 457.46H174.65V459.16H152.25ZM152.25 461.75H174.65V463.45H152.25ZM152.25 466.04H174.65V467.74H152.25ZM152.25 470.33H174.65V472.04H152.25ZM152.25 474.63H174.65V476.33H152.25ZM152.25 478.92H174.65V480.62H152.25ZM152.25 483.21H174.65V484.91H152.25ZM152.25 487.50H174.65V489.21H152.25ZM152.25 491.80H174.65V493.50H152.25ZM152.25 496.09H174.65V497.79H152.25ZM152.25 500.38H174.65V502.08H152.25ZM152.25 504.68H174.65V506.38H152.25ZM152.25 508.97H174.65V510.67H152.25ZM152.25 513.26H174.65V514.96H152.25ZM152.25 517.55H174.65V519.25H152.25ZM152.25 521.85H174.65V523.55H152.25ZM152.25 526.14H174.65V527.84H152.25ZM152.25 530.43H174.65V532.13H152.25ZM152.25 534.72H174.65V536.42H152.25ZM152.25 539.01H174.65V540.72H152.25ZM152.25 543.31H174.65V545.01H152.25ZM152.25 547.60H174.65V549.30H152.25ZM152.25 551.89H174.65V553.59H152.25ZM152.25 556.19H174.65V557.89H152.25ZM152.25 560.48H174.65V562.18H152.25ZM152.25 564.77H174.65V566.47H152.25ZM152.25 569.06H174.65V570.76H152.25ZM152.25 573.36H174.65V575.06H152.25ZM152.25 577.65H174.65V579.35H152.25ZM152.25 581.94H174.65V583.64H152.25ZM152.25 586.23H174.65V587.93H152.25ZM152.25 590.52H174.65V592.23H152.25ZM152.25 594.82H174.65V596.52H152.25ZM152.25 599.11H174.65V600.81H152.25ZM152.25 603.40H174.65V605.10H152.25ZM152.25 607.70H174.65V609.40H152.25ZM152.25 611.99H174.65V613.69H152.25ZM152.25 616.28H174.65V617.98H152.25ZM152.25 187.88H152.55V192.17H152.25ZM161.10 187.88H162.60V192.17H161.10ZM171.15 187.88H172.65V192.17H171.15ZM156.80 192.17H158.30V196.46H156.80ZM166.85 192.17H168.35V196.46H166.85ZM152.25 196.47H152.55V200.76H152.25ZM161.10 196.47H162.60V200.76H161.10ZM171.15 196.47H172.65V200.76H171.15ZM156.80 200.76H158.30V205.05H156.80ZM166.85 200.76H168.35V205.05H166.85ZM152.25 205.05H152.55V209.34H152.25ZM161.10 205.05H162.60V209.34H161.10ZM171.15 205.05H172.65V209.34H171.15ZM156.80 209.34H158.30V213.63H156.80ZM166.85 209.34H168.35V213.63H166.85ZM152.25 213.63H152.55V217.93H152.25ZM161.10 213.63H162.60V217.93H161.10ZM171.15 213.63H172.65V217.93H171.15ZM156.80 217.93H158.30V222.22H156.80ZM166.85 217.93H168.35V222.22H166.85ZM152.25 222.22H152.55V226.51H152.25ZM161.10 222.22H162.60V226.51H161.10ZM171.15 222.22H172.65V226.51H171.15ZM156.80 226.51H158.30V230.80H156.80ZM166.85 226.51H168.35V230.80H166.85ZM152.25 230.81H152.55V235.10H152.25ZM161.10 230.81H162.60V235.10H161.10ZM171.15 230.81H172.65V235.10H171.15ZM156.80 235.10H158.30V239.39H156.80ZM166.85 235.10H168.35V239.39H166.85ZM152.25 239.39H152.55V243.68H152.25ZM161.10 239.39H162.60V243.68H161.10ZM171.15 239.39H172.65V243.68H171.15ZM156.80 243.68H158.30V247.97H156.80ZM166.85 243.68H168.35V247.97H166.85ZM152.25 247.97H152.55V252.27H152.25ZM161.10 247.97H162.60V252.27H161.10ZM171.15 247.97H172.65V252.27H171.15ZM156.80 252.27H158.30V256.56H156.80ZM166.85 252.27H168.35V256.56H166.85ZM152.25 256.56H152.55V260.85H152.25ZM161.10 256.56H162.60V260.85H161.10ZM171.15 256.56H172.65V260.85H171.15ZM156.80 260.85H158.30V265.15H156.80ZM166.85 260.85H168.35V265.15H166.85ZM152.25 265.14H152.55V269.44H152.25ZM161.10 265.14H162.60V269.44H161.10ZM171.15 265.14H172.65V269.44H171.15ZM156.80 269.44H158.30V273.73H156.80ZM166.85 269.44H168.35V273.73H166.85ZM152.25 273.73H152.55V278.02H152.25ZM161.10 273.73H162.60V278.02H161.10ZM171.15 273.73H172.65V278.02H171.15ZM156.80 278.02H158.30V282.32H156.80ZM166.85 278.02H168.35V282.32H166.85ZM152.25 282.31H152.55V286.61H152.25ZM161.10 282.31H162.60V286.61H161.10ZM171.15 282.31H172.65V286.61H171.15ZM156.80 286.61H158.30V290.90H156.80ZM166.85 286.61H168.35V290.90H166.85ZM152.25 290.90H152.55V295.19H152.25ZM161.10 290.90H162.60V295.19H161.10ZM171.15 290.90H172.65V295.19H171.15ZM156.80 295.19H158.30V299.49H156.80ZM166.85 295.19H168.35V299.49H166.85ZM152.25 299.49H152.55V303.78H152.25ZM161.10 299.49H162.60V303.78H161.10ZM171.15 299.49H172.65V303.78H171.15ZM156.80 303.78H158.30V308.07H156.80ZM166.85 303.78H168.35V308.07H166.85ZM152.25 308.07H152.55V312.36H152.25ZM161.10 308.07H162.60V312.36H161.10ZM171.15 308.07H172.65V312.36H171.15ZM156.80 312.36H158.30V316.66H156.80ZM166.85 312.36H168.35V316.66H166.85ZM152.25 316.65H152.55V320.95H152.25ZM161.10 316.65H162.60V320.95H161.10ZM171.15 316.65H172.65V320.95H171.15ZM156.80 320.95H158.30V325.24H156.80ZM166.85 320.95H168.35V325.24H166.85ZM152.25 325.24H152.55V329.53H152.25ZM161.10 325.24H162.60V329.53H161.10ZM171.15 325.24H172.65V329.53H171.15ZM156.80 329.53H158.30V333.83H156.80ZM166.85 329.53H168.35V333.83H166.85ZM152.25 333.83H152.55V338.12H152.25ZM161.10 333.83H162.60V338.12H161.10ZM171.15 333.83H172.65V338.12H171.15ZM156.80 338.12H158.30V342.41H156.80ZM166.85 338.12H168.35V342.41H166.85ZM152.25 342.41H152.55V346.70H152.25ZM161.10 342.41H162.60V346.70H161.10ZM171.15 342.41H172.65V346.70H171.15ZM156.80 346.70H158.30V351.00H156.80ZM166.85 346.70H168.35V351.00H166.85ZM152.25 351.00H152.55V355.29H152.25ZM161.10 351.00H162.60V355.29H161.10ZM171.15 351.00H172.65V355.29H171.15ZM156.80 355.29H158.30V359.58H156.80ZM166.85 355.29H168.35V359.58H166.85ZM152.25 359.58H152.55V363.87H152.25ZM161.10 359.58H162.60V363.87H161.10ZM171.15 359.58H172.65V363.87H171.15ZM156.80 363.87H158.30V368.17H156.80ZM166.85 363.87H168.35V368.17H166.85ZM152.25 368.17H152.55V372.46H152.25ZM161.10 368.17H162.60V372.46H161.10ZM171.15 368.17H172.65V372.46H171.15ZM156.80 372.46H158.30V376.75H156.80ZM166.85 372.46H168.35V376.75H166.85ZM152.25 376.75H152.55V381.04H152.25ZM161.10 376.75H162.60V381.04H161.10ZM171.15 376.75H172.65V381.04H171.15ZM156.80 381.04H158.30V385.34H156.80ZM166.85 381.04H168.35V385.34H166.85ZM152.25 385.34H152.55V389.63H152.25ZM161.10 385.34H162.60V389.63H161.10ZM171.15 385.34H172.65V389.63H171.15ZM156.80 389.63H158.30V393.92H156.80ZM166.85 389.63H168.35V393.92H166.85ZM152.25 393.92H152.55V398.21H152.25ZM161.10 393.92H162.60V398.21H161.10ZM171.15 393.92H172.65V398.21H171.15ZM156.80 398.21H158.30V402.50H156.80ZM166.85 398.21H168.35V402.50H166.85ZM152.25 402.50H152.55V406.80H152.25ZM161.10 402.50H162.60V406.80H161.10ZM171.15 402.50H172.65V406.80H171.15ZM156.80 406.80H158.30V411.09H156.80ZM166.85 406.80H168.35V411.09H166.85ZM152.25 411.09H152.55V415.38H152.25ZM161.10 411.09H162.60V415.38H161.10ZM171.15 411.09H172.65V415.38H171.15ZM156.80 415.38H158.30V419.68H156.80ZM166.85 415.38H168.35V419.68H166.85ZM152.25 419.68H152.55V423.97H152.25ZM161.10 419.68H162.60V423.97H161.10ZM171.15 419.68H172.65V423.97H171.15ZM156.80 423.97H158.30V428.26H156.80ZM166.85 423.97H168.35V428.26H166.85ZM152.25 428.26H152.55V432.55H152.25ZM161.10 428.26H162.60V432.55H161.10ZM171.15 428.26H172.65V432.55H171.15ZM156.80 432.55H158.30V436.85H156.80ZM166.85 432.55H168.35V436.85H166.85ZM152.25 436.85H152.55V441.14H152.25ZM161.10 436.85H162.60V441.14H161.10ZM171.15 436.85H172.65V441.14H171.15ZM156.80 441.14H158.30V445.43H156.80ZM166.85 441.14H168.35V445.43H166.85ZM152.25 445.43H152.55V449.72H152.25ZM161.10 445.43H162.60V449.72H161.10ZM171.15 445.43H172.65V449.72H171.15ZM156.80 449.72H158.30V454.02H156.80ZM166.85 449.72H168.35V454.02H166.85ZM152.25 454.02H152.55V458.31H152.25ZM161.10 454.02H162.60V458.31H161.10ZM171.15 454.02H172.65V458.31H171.15ZM156.80 458.31H158.30V462.60H156.80ZM166.85 458.31H168.35V462.60H166.85ZM152.25 462.60H152.55V466.89H152.25ZM161.10 462.60H162.60V466.89H161.10ZM171.15 462.60H172.65V466.89H171.15ZM156.80 466.89H158.30V471.19H156.80ZM166.85 466.89H168.35V471.19H166.85ZM152.25 471.19H152.55V475.48H152.25ZM161.10 471.19H162.60V475.48H161.10ZM171.15 471.19H172.65V475.48H171.15ZM156.80 475.48H158.30V479.77H156.80ZM166.85 475.48H168.35V479.77H166.85ZM152.25 479.77H152.55V484.06H152.25ZM161.10 479.77H162.60V484.06H161.10ZM171.15 479.77H172.65V484.06H171.15ZM156.80 484.06H158.30V488.36H156.80ZM166.85 484.06H168.35V488.36H166.85ZM152.25 488.36H152.55V492.65H152.25ZM161.10 488.36H162.60V492.65H161.10ZM171.15 488.36H172.65V492.65H171.15ZM156.80 492.65H158.30V496.94H156.80ZM166.85 492.65H168.35V496.94H166.85ZM152.25 496.94H152.55V501.23H152.25ZM161.10 496.94H162.60V501.23H161.10ZM171.15 496.94H172.65V501.23H171.15ZM156.80 501.23H158.30V505.53H156.80ZM166.85 501.23H168.35V505.53H166.85ZM152.25 505.53H152.55V509.82H152.25ZM161.10 505.53H162.60V509.82H161.10ZM171.15 505.53H172.65V509.82H171.15ZM156.80 509.82H158.30V514.11H156.80ZM166.85 509.82H168.35V514.11H166.85ZM152.25 514.11H152.55V518.40H152.25ZM161.10 514.11H162.60V518.40H161.10ZM171.15 514.11H172.65V518.40H171.15ZM156.80 518.40H158.30V522.70H156.80ZM166.85 518.40H168.35V522.70H166.85ZM152.25 522.70H152.55V526.99H152.25ZM161.10 522.70H162.60V526.99H161.10ZM171.15 522.70H172.65V526.99H171.15ZM156.80 526.99H158.30V531.28H156.80ZM166.85 526.99H168.35V531.28H166.85ZM152.25 531.28H152.55V535.57H152.25ZM161.10 531.28H162.60V535.57H161.10ZM171.15 531.28H172.65V535.57H171.15ZM156.80 535.57H158.30V539.87H156.80ZM166.85 535.57H168.35V539.87H166.85ZM152.25 539.87H152.55V544.16H152.25ZM161.10 539.87H162.60V544.16H161.10ZM171.15 539.87H172.65V544.16H171.15ZM156.80 544.16H158.30V548.45H156.80ZM166.85 544.16H168.35V548.45H166.85ZM152.25 548.45H152.55V552.74H152.25ZM161.10 548.45H162.60V552.74H161.10ZM171.15 548.45H172.65V552.74H171.15ZM156.80 552.74H158.30V557.04H156.80ZM166.85 552.74H168.35V557.04H166.85ZM152.25 557.04H152.55V561.33H152.25ZM161.10 557.04H162.60V561.33H161.10ZM171.15 557.04H172.65V561.33H171.15ZM156.80 561.33H158.30V565.62H156.80ZM166.85 561.33H168.35V565.62H166.85ZM152.25 565.62H152.55V569.91H152.25ZM161.10 565.62H162.60V569.91H161.10ZM171.15 565.62H172.65V569.91H171.15ZM156.80 569.91H158.30V574.21H156.80ZM166.85 569.91H168.35V574.21H166.85ZM152.25 574.21H152.55V578.50H152.25ZM161.10 574.21H162.60V578.50H161.10ZM171.15 574.21H172.65V578.50H171.15ZM156.80 578.50H158.30V582.79H156.80ZM166.85 578.50H168.35V582.79H166.85ZM152.25 582.79H152.55V587.08H152.25ZM161.10 582.79H162.60V587.08H161.10ZM171.15 582.79H172.65V587.08H171.15ZM156.80 587.08H158.30V591.38H156.80ZM166.85 587.08H168.35V591.38H166.85ZM152.25 591.38H152.55V595.67H152.25ZM161.10 591.38H162.60V595.67H161.10ZM171.15 591.38H172.65V595.67H171.15ZM156.80 595.67H158.30V599.96H156.80ZM166.85 595.67H168.35V599.96H166.85ZM152.25 599.96H152.55V604.25H152.25ZM161.10 599.96H162.60V604.25H161.10ZM171.15 599.96H172.65V604.25H171.15ZM156.80 604.25H158.30V608.55H156.80ZM166.85 604.25H168.35V608.55H166.85ZM152.25 608.55H152.55V612.84H152.25ZM161.10 608.55H162.60V612.84H161.10ZM171.15 608.55H172.65V612.84H171.15ZM156.80 612.84H158.30V617.13H156.80ZM166.85 612.84H168.35V617.13H166.85ZM152.25 617.13H152.55V619.10H152.25ZM161.10 617.13H162.60V619.10H161.10ZM171.15 617.13H172.65V619.10H171.15Z"/></g>
<g fill="#8a8af8"><rect x="155.75" y="177.60" width="15.4" height="2.9"/><rect x="161.90" y="177.60" width="3.1" height="9.00"/></g>
<g fill="#8a8af8"><path fill-rule="evenodd" d="M194.40 194.70H224.80V619.10H194.40Z M198.40 198.70V619.10H220.80V198.70Z"/><path d="M198.40 200.42H220.80V202.12H198.40ZM198.40 204.72H220.80V206.41H198.40ZM198.40 209.01H220.80V210.71H198.40ZM198.40 213.30H220.80V215.00H198.40ZM198.40 217.59H220.80V219.29H198.40ZM198.40 221.88H220.80V223.58H198.40ZM198.40 226.18H220.80V227.88H198.40ZM198.40 230.47H220.80V232.17H198.40ZM198.40 234.76H220.80V236.46H198.40ZM198.40 239.06H220.80V240.75H198.40ZM198.40 243.35H220.80V245.05H198.40ZM198.40 247.64H220.80V249.34H198.40ZM198.40 251.93H220.80V253.63H198.40ZM198.40 256.22H220.80V257.93H198.40ZM198.40 260.52H220.80V262.22H198.40ZM198.40 264.81H220.80V266.51H198.40ZM198.40 269.10H220.80V270.80H198.40ZM198.40 273.39H220.80V275.10H198.40ZM198.40 277.69H220.80V279.39H198.40ZM198.40 281.98H220.80V283.68H198.40ZM198.40 286.27H220.80V287.97H198.40ZM198.40 290.56H220.80V292.26H198.40ZM198.40 294.86H220.80V296.56H198.40ZM198.40 299.15H220.80V300.85H198.40ZM198.40 303.44H220.80V305.14H198.40ZM198.40 307.74H220.80V309.44H198.40ZM198.40 312.03H220.80V313.73H198.40ZM198.40 316.32H220.80V318.02H198.40ZM198.40 320.61H220.80V322.31H198.40ZM198.40 324.90H220.80V326.61H198.40ZM198.40 329.20H220.80V330.90H198.40ZM198.40 333.49H220.80V335.19H198.40ZM198.40 337.78H220.80V339.48H198.40ZM198.40 342.07H220.80V343.78H198.40ZM198.40 346.37H220.80V348.07H198.40ZM198.40 350.66H220.80V352.36H198.40ZM198.40 354.95H220.80V356.65H198.40ZM198.40 359.25H220.80V360.95H198.40ZM198.40 363.54H220.80V365.24H198.40ZM198.40 367.83H220.80V369.53H198.40ZM198.40 372.12H220.80V373.82H198.40ZM198.40 376.41H220.80V378.12H198.40ZM198.40 380.71H220.80V382.41H198.40ZM198.40 385.00H220.80V386.70H198.40ZM198.40 389.29H220.80V390.99H198.40ZM198.40 393.58H220.80V395.29H198.40ZM198.40 397.88H220.80V399.58H198.40ZM198.40 402.17H220.80V403.87H198.40ZM198.40 406.46H220.80V408.16H198.40ZM198.40 410.75H220.80V412.46H198.40ZM198.40 415.05H220.80V416.75H198.40ZM198.40 419.34H220.80V421.04H198.40ZM198.40 423.63H220.80V425.33H198.40ZM198.40 427.92H220.80V429.62H198.40ZM198.40 432.22H220.80V433.92H198.40ZM198.40 436.51H220.80V438.21H198.40ZM198.40 440.80H220.80V442.50H198.40ZM198.40 445.10H220.80V446.80H198.40ZM198.40 449.39H220.80V451.09H198.40ZM198.40 453.68H220.80V455.38H198.40ZM198.40 457.97H220.80V459.67H198.40ZM198.40 462.26H220.80V463.97H198.40ZM198.40 466.56H220.80V468.26H198.40ZM198.40 470.85H220.80V472.55H198.40ZM198.40 475.14H220.80V476.84H198.40ZM198.40 479.43H220.80V481.13H198.40ZM198.40 483.73H220.80V485.43H198.40ZM198.40 488.02H220.80V489.72H198.40ZM198.40 492.31H220.80V494.01H198.40ZM198.40 496.61H220.80V498.31H198.40ZM198.40 500.90H220.80V502.60H198.40ZM198.40 505.19H220.80V506.89H198.40ZM198.40 509.48H220.80V511.18H198.40ZM198.40 513.77H220.80V515.48H198.40ZM198.40 518.07H220.80V519.77H198.40ZM198.40 522.36H220.80V524.06H198.40ZM198.40 526.65H220.80V528.35H198.40ZM198.40 530.95H220.80V532.65H198.40ZM198.40 535.24H220.80V536.94H198.40ZM198.40 539.53H220.80V541.23H198.40ZM198.40 543.82H220.80V545.52H198.40ZM198.40 548.12H220.80V549.82H198.40ZM198.40 552.41H220.80V554.11H198.40ZM198.40 556.70H220.80V558.40H198.40ZM198.40 560.99H220.80V562.69H198.40ZM198.40 565.28H220.80V566.99H198.40ZM198.40 569.58H220.80V571.28H198.40ZM198.40 573.87H220.80V575.57H198.40ZM198.40 578.16H220.80V579.86H198.40ZM198.40 582.46H220.80V584.16H198.40ZM198.40 586.75H220.80V588.45H198.40ZM198.40 591.04H220.80V592.74H198.40ZM198.40 595.33H220.80V597.03H198.40ZM198.40 599.62H220.80V601.33H198.40ZM198.40 603.92H220.80V605.62H198.40ZM198.40 608.21H220.80V609.91H198.40ZM198.40 612.50H220.80V614.20H198.40ZM198.40 616.79H220.80V618.50H198.40ZM198.40 196.98H198.70V201.27H198.40ZM207.25 196.98H208.75V201.27H207.25ZM217.30 196.98H218.80V201.27H217.30ZM202.95 201.27H204.45V205.56H202.95ZM213.00 201.27H214.50V205.56H213.00ZM198.40 205.56H198.70V209.86H198.40ZM207.25 205.56H208.75V209.86H207.25ZM217.30 205.56H218.80V209.86H217.30ZM202.95 209.86H204.45V214.15H202.95ZM213.00 209.86H214.50V214.15H213.00ZM198.40 214.15H198.70V218.44H198.40ZM207.25 214.15H208.75V218.44H207.25ZM217.30 214.15H218.80V218.44H217.30ZM202.95 218.44H204.45V222.73H202.95ZM213.00 218.44H214.50V222.73H213.00ZM198.40 222.73H198.70V227.03H198.40ZM207.25 222.73H208.75V227.03H207.25ZM217.30 222.73H218.80V227.03H217.30ZM202.95 227.03H204.45V231.32H202.95ZM213.00 227.03H214.50V231.32H213.00ZM198.40 231.32H198.70V235.61H198.40ZM207.25 231.32H208.75V235.61H207.25ZM217.30 231.32H218.80V235.61H217.30ZM202.95 235.61H204.45V239.91H202.95ZM213.00 235.61H214.50V239.91H213.00ZM198.40 239.91H198.70V244.20H198.40ZM207.25 239.91H208.75V244.20H207.25ZM217.30 239.91H218.80V244.20H217.30ZM202.95 244.20H204.45V248.49H202.95ZM213.00 244.20H214.50V248.49H213.00ZM198.40 248.49H198.70V252.78H198.40ZM207.25 248.49H208.75V252.78H207.25ZM217.30 248.49H218.80V252.78H217.30ZM202.95 252.78H204.45V257.07H202.95ZM213.00 252.78H214.50V257.07H213.00ZM198.40 257.07H198.70V261.37H198.40ZM207.25 257.07H208.75V261.37H207.25ZM217.30 257.07H218.80V261.37H217.30ZM202.95 261.37H204.45V265.66H202.95ZM213.00 261.37H214.50V265.66H213.00ZM198.40 265.66H198.70V269.95H198.40ZM207.25 265.66H208.75V269.95H207.25ZM217.30 265.66H218.80V269.95H217.30ZM202.95 269.95H204.45V274.25H202.95ZM213.00 269.95H214.50V274.25H213.00ZM198.40 274.25H198.70V278.54H198.40ZM207.25 274.25H208.75V278.54H207.25ZM217.30 274.25H218.80V278.54H217.30ZM202.95 278.54H204.45V282.83H202.95ZM213.00 278.54H214.50V282.83H213.00ZM198.40 282.83H198.70V287.12H198.40ZM207.25 282.83H208.75V287.12H207.25ZM217.30 282.83H218.80V287.12H217.30ZM202.95 287.12H204.45V291.42H202.95ZM213.00 287.12H214.50V291.42H213.00ZM198.40 291.41H198.70V295.71H198.40ZM207.25 291.41H208.75V295.71H207.25ZM217.30 291.41H218.80V295.71H217.30ZM202.95 295.71H204.45V300.00H202.95ZM213.00 295.71H214.50V300.00H213.00ZM198.40 300.00H198.70V304.29H198.40ZM207.25 300.00H208.75V304.29H207.25ZM217.30 300.00H218.80V304.29H217.30ZM202.95 304.29H204.45V308.59H202.95ZM213.00 304.29H214.50V308.59H213.00ZM198.40 308.59H198.70V312.88H198.40ZM207.25 308.59H208.75V312.88H207.25ZM217.30 308.59H218.80V312.88H217.30ZM202.95 312.88H204.45V317.17H202.95ZM213.00 312.88H214.50V317.17H213.00ZM198.40 317.17H198.70V321.46H198.40ZM207.25 317.17H208.75V321.46H207.25ZM217.30 317.17H218.80V321.46H217.30ZM202.95 321.46H204.45V325.75H202.95ZM213.00 321.46H214.50V325.75H213.00ZM198.40 325.75H198.70V330.05H198.40ZM207.25 325.75H208.75V330.05H207.25ZM217.30 325.75H218.80V330.05H217.30ZM202.95 330.05H204.45V334.34H202.95ZM213.00 330.05H214.50V334.34H213.00ZM198.40 334.34H198.70V338.63H198.40ZM207.25 334.34H208.75V338.63H207.25ZM217.30 334.34H218.80V338.63H217.30ZM202.95 338.63H204.45V342.93H202.95ZM213.00 338.63H214.50V342.93H213.00ZM198.40 342.93H198.70V347.22H198.40ZM207.25 342.93H208.75V347.22H207.25ZM217.30 342.93H218.80V347.22H217.30ZM202.95 347.22H204.45V351.51H202.95ZM213.00 347.22H214.50V351.51H213.00ZM198.40 351.51H198.70V355.80H198.40ZM207.25 351.51H208.75V355.80H207.25ZM217.30 351.51H218.80V355.80H217.30ZM202.95 355.80H204.45V360.10H202.95ZM213.00 355.80H214.50V360.10H213.00ZM198.40 360.10H198.70V364.39H198.40ZM207.25 360.10H208.75V364.39H207.25ZM217.30 360.10H218.80V364.39H217.30ZM202.95 364.39H204.45V368.68H202.95ZM213.00 364.39H214.50V368.68H213.00ZM198.40 368.68H198.70V372.97H198.40ZM207.25 368.68H208.75V372.97H207.25ZM217.30 368.68H218.80V372.97H217.30ZM202.95 372.97H204.45V377.26H202.95ZM213.00 372.97H214.50V377.26H213.00ZM198.40 377.26H198.70V381.56H198.40ZM207.25 377.26H208.75V381.56H207.25ZM217.30 377.26H218.80V381.56H217.30ZM202.95 381.56H204.45V385.85H202.95ZM213.00 381.56H214.50V385.85H213.00ZM198.40 385.85H198.70V390.14H198.40ZM207.25 385.85H208.75V390.14H207.25ZM217.30 385.85H218.80V390.14H217.30ZM202.95 390.14H204.45V394.44H202.95ZM213.00 390.14H214.50V394.44H213.00ZM198.40 394.44H198.70V398.73H198.40ZM207.25 394.44H208.75V398.73H207.25ZM217.30 394.44H218.80V398.73H217.30ZM202.95 398.73H204.45V403.02H202.95ZM213.00 398.73H214.50V403.02H213.00ZM198.40 403.02H198.70V407.31H198.40ZM207.25 403.02H208.75V407.31H207.25ZM217.30 403.02H218.80V407.31H217.30ZM202.95 407.31H204.45V411.61H202.95ZM213.00 407.31H214.50V411.61H213.00ZM198.40 411.61H198.70V415.90H198.40ZM207.25 411.61H208.75V415.90H207.25ZM217.30 411.61H218.80V415.90H217.30ZM202.95 415.90H204.45V420.19H202.95ZM213.00 415.90H214.50V420.19H213.00ZM198.40 420.19H198.70V424.48H198.40ZM207.25 420.19H208.75V424.48H207.25ZM217.30 420.19H218.80V424.48H217.30ZM202.95 424.48H204.45V428.78H202.95ZM213.00 424.48H214.50V428.78H213.00ZM198.40 428.77H198.70V433.07H198.40ZM207.25 428.77H208.75V433.07H207.25ZM217.30 428.77H218.80V433.07H217.30ZM202.95 433.07H204.45V437.36H202.95ZM213.00 433.07H214.50V437.36H213.00ZM198.40 437.36H198.70V441.65H198.40ZM207.25 437.36H208.75V441.65H207.25ZM217.30 437.36H218.80V441.65H217.30ZM202.95 441.65H204.45V445.95H202.95ZM213.00 441.65H214.50V445.95H213.00ZM198.40 445.95H198.70V450.24H198.40ZM207.25 445.95H208.75V450.24H207.25ZM217.30 445.95H218.80V450.24H217.30ZM202.95 450.24H204.45V454.53H202.95ZM213.00 450.24H214.50V454.53H213.00ZM198.40 454.53H198.70V458.82H198.40ZM207.25 454.53H208.75V458.82H207.25ZM217.30 454.53H218.80V458.82H217.30ZM202.95 458.82H204.45V463.12H202.95ZM213.00 458.82H214.50V463.12H213.00ZM198.40 463.12H198.70V467.41H198.40ZM207.25 463.12H208.75V467.41H207.25ZM217.30 463.12H218.80V467.41H217.30ZM202.95 467.41H204.45V471.70H202.95ZM213.00 467.41H214.50V471.70H213.00ZM198.40 471.70H198.70V475.99H198.40ZM207.25 471.70H208.75V475.99H207.25ZM217.30 471.70H218.80V475.99H217.30ZM202.95 475.99H204.45V480.29H202.95ZM213.00 475.99H214.50V480.29H213.00ZM198.40 480.28H198.70V484.58H198.40ZM207.25 480.28H208.75V484.58H207.25ZM217.30 480.28H218.80V484.58H217.30ZM202.95 484.58H204.45V488.87H202.95ZM213.00 484.58H214.50V488.87H213.00ZM198.40 488.87H198.70V493.16H198.40ZM207.25 488.87H208.75V493.16H207.25ZM217.30 488.87H218.80V493.16H217.30ZM202.95 493.16H204.45V497.46H202.95ZM213.00 493.16H214.50V497.46H213.00ZM198.40 497.46H198.70V501.75H198.40ZM207.25 497.46H208.75V501.75H207.25ZM217.30 497.46H218.80V501.75H217.30ZM202.95 501.75H204.45V506.04H202.95ZM213.00 501.75H214.50V506.04H213.00ZM198.40 506.04H198.70V510.33H198.40ZM207.25 506.04H208.75V510.33H207.25ZM217.30 506.04H218.80V510.33H217.30ZM202.95 510.33H204.45V514.62H202.95ZM213.00 510.33H214.50V514.62H213.00ZM198.40 514.62H198.70V518.92H198.40ZM207.25 514.62H208.75V518.92H207.25ZM217.30 514.62H218.80V518.92H217.30ZM202.95 518.92H204.45V523.21H202.95ZM213.00 518.92H214.50V523.21H213.00ZM198.40 523.21H198.70V527.50H198.40ZM207.25 523.21H208.75V527.50H207.25ZM217.30 523.21H218.80V527.50H217.30ZM202.95 527.50H204.45V531.80H202.95ZM213.00 527.50H214.50V531.80H213.00ZM198.40 531.80H198.70V536.09H198.40ZM207.25 531.80H208.75V536.09H207.25ZM217.30 531.80H218.80V536.09H217.30ZM202.95 536.09H204.45V540.38H202.95ZM213.00 536.09H214.50V540.38H213.00ZM198.40 540.38H198.70V544.67H198.40ZM207.25 540.38H208.75V544.67H207.25ZM217.30 540.38H218.80V544.67H217.30ZM202.95 544.67H204.45V548.97H202.95ZM213.00 544.67H214.50V548.97H213.00ZM198.40 548.97H198.70V553.26H198.40ZM207.25 548.97H208.75V553.26H207.25ZM217.30 548.97H218.80V553.26H217.30ZM202.95 553.26H204.45V557.55H202.95ZM213.00 553.26H214.50V557.55H213.00ZM198.40 557.55H198.70V561.84H198.40ZM207.25 557.55H208.75V561.84H207.25ZM217.30 557.55H218.80V561.84H217.30ZM202.95 561.84H204.45V566.13H202.95ZM213.00 561.84H214.50V566.13H213.00ZM198.40 566.13H198.70V570.43H198.40ZM207.25 566.13H208.75V570.43H207.25ZM217.30 566.13H218.80V570.43H217.30ZM202.95 570.43H204.45V574.72H202.95ZM213.00 570.43H214.50V574.72H213.00ZM198.40 574.72H198.70V579.01H198.40ZM207.25 574.72H208.75V579.01H207.25ZM217.30 574.72H218.80V579.01H217.30ZM202.95 579.01H204.45V583.31H202.95ZM213.00 579.01H214.50V583.31H213.00ZM198.40 583.31H198.70V587.60H198.40ZM207.25 583.31H208.75V587.60H207.25ZM217.30 583.31H218.80V587.60H217.30ZM202.95 587.60H204.45V591.89H202.95ZM213.00 587.60H214.50V591.89H213.00ZM198.40 591.89H198.70V596.18H198.40ZM207.25 591.89H208.75V596.18H207.25ZM217.30 591.89H218.80V596.18H217.30ZM202.95 596.18H204.45V600.48H202.95ZM213.00 596.18H214.50V600.48H213.00ZM198.40 600.48H198.70V604.77H198.40ZM207.25 600.48H208.75V604.77H207.25ZM217.30 600.48H218.80V604.77H217.30ZM202.95 604.77H204.45V609.06H202.95ZM213.00 604.77H214.50V609.06H213.00ZM198.40 609.06H198.70V613.35H198.40ZM207.25 609.06H208.75V613.35H207.25ZM217.30 609.06H218.80V613.35H217.30ZM202.95 613.35H204.45V617.65H202.95ZM213.00 613.35H214.50V617.65H213.00ZM198.40 617.64H198.70V619.10H198.40ZM207.25 617.64H208.75V619.10H207.25ZM217.30 617.64H218.80V619.10H217.30Z"/></g>
<g fill="#8a8af8"><rect x="201.90" y="190.40" width="15.4" height="2.9"/><rect x="208.05" y="190.40" width="3.1" height="5.30"/></g>
<g fill="#8a8af8"><path fill-rule="evenodd" d="M240.55 201.65H270.95V619.10H240.55Z M244.55 205.65V619.10H266.95V205.65Z"/><path d="M244.55 207.37H266.95V209.07H244.55ZM244.55 211.67H266.95V213.37H244.55ZM244.55 215.96H266.95V217.66H244.55ZM244.55 220.25H266.95V221.95H244.55ZM244.55 224.54H266.95V226.24H244.55ZM244.55 228.84H266.95V230.53H244.55ZM244.55 233.13H266.95V234.83H244.55ZM244.55 237.42H266.95V239.12H244.55ZM244.55 241.71H266.95V243.41H244.55ZM244.55 246.01H266.95V247.71H244.55ZM244.55 250.30H266.95V252.00H244.55ZM244.55 254.59H266.95V256.29H244.55ZM244.55 258.88H266.95V260.58H244.55ZM244.55 263.18H266.95V264.88H244.55ZM244.55 267.47H266.95V269.17H244.55ZM244.55 271.76H266.95V273.46H244.55ZM244.55 276.05H266.95V277.75H244.55ZM244.55 280.35H266.95V282.05H244.55ZM244.55 284.64H266.95V286.34H244.55ZM244.55 288.93H266.95V290.63H244.55ZM244.55 293.22H266.95V294.92H244.55ZM244.55 297.51H266.95V299.22H244.55ZM244.55 301.81H266.95V303.51H244.55ZM244.55 306.10H266.95V307.80H244.55ZM244.55 310.39H266.95V312.09H244.55ZM244.55 314.69H266.95V316.39H244.55ZM244.55 318.98H266.95V320.68H244.55ZM244.55 323.27H266.95V324.97H244.55ZM244.55 327.56H266.95V329.26H244.55ZM244.55 331.86H266.95V333.56H244.55ZM244.55 336.15H266.95V337.85H244.55ZM244.55 340.44H266.95V342.14H244.55ZM244.55 344.73H266.95V346.43H244.55ZM244.55 349.02H266.95V350.73H244.55ZM244.55 353.32H266.95V355.02H244.55ZM244.55 357.61H266.95V359.31H244.55ZM244.55 361.90H266.95V363.60H244.55ZM244.55 366.19H266.95V367.90H244.55ZM244.55 370.49H266.95V372.19H244.55ZM244.55 374.78H266.95V376.48H244.55ZM244.55 379.07H266.95V380.77H244.55ZM244.55 383.37H266.95V385.07H244.55ZM244.55 387.66H266.95V389.36H244.55ZM244.55 391.95H266.95V393.65H244.55ZM244.55 396.24H266.95V397.94H244.55ZM244.55 400.53H266.95V402.24H244.55ZM244.55 404.83H266.95V406.53H244.55ZM244.55 409.12H266.95V410.82H244.55ZM244.55 413.41H266.95V415.11H244.55ZM244.55 417.71H266.95V419.41H244.55ZM244.55 422.00H266.95V423.70H244.55ZM244.55 426.29H266.95V427.99H244.55ZM244.55 430.58H266.95V432.28H244.55ZM244.55 434.88H266.95V436.58H244.55ZM244.55 439.17H266.95V440.87H244.55ZM244.55 443.46H266.95V445.16H244.55ZM244.55 447.75H266.95V449.45H244.55ZM244.55 452.05H266.95V453.75H244.55ZM244.55 456.34H266.95V458.04H244.55ZM244.55 460.63H266.95V462.33H244.55ZM244.55 464.92H266.95V466.62H244.55ZM244.55 469.22H266.95V470.92H244.55ZM244.55 473.51H266.95V475.21H244.55ZM244.55 477.80H266.95V479.50H244.55ZM244.55 482.09H266.95V483.79H244.55ZM244.55 486.38H266.95V488.09H244.55ZM244.55 490.68H266.95V492.38H244.55ZM244.55 494.97H266.95V496.67H244.55ZM244.55 499.26H266.95V500.96H244.55ZM244.55 503.56H266.95V505.26H244.55ZM244.55 507.85H266.95V509.55H244.55ZM244.55 512.14H266.95V513.84H244.55ZM244.55 516.43H266.95V518.13H244.55ZM244.55 520.73H266.95V522.43H244.55ZM244.55 525.02H266.95V526.72H244.55ZM244.55 529.31H266.95V531.01H244.55ZM244.55 533.60H266.95V535.30H244.55ZM244.55 537.90H266.95V539.60H244.55ZM244.55 542.19H266.95V543.89H244.55ZM244.55 546.48H266.95V548.18H244.55ZM244.55 550.77H266.95V552.47H244.55ZM244.55 555.06H266.95V556.76H244.55ZM244.55 559.36H266.95V561.06H244.55ZM244.55 563.65H266.95V565.35H244.55ZM244.55 567.94H266.95V569.64H244.55ZM244.55 572.24H266.95V573.94H244.55ZM244.55 576.53H266.95V578.23H244.55ZM244.55 580.82H266.95V582.52H244.55ZM244.55 585.11H266.95V586.81H244.55ZM244.55 589.41H266.95V591.11H244.55ZM244.55 593.70H266.95V595.40H244.55ZM244.55 597.99H266.95V599.69H244.55ZM244.55 602.28H266.95V603.98H244.55ZM244.55 606.58H266.95V608.28H244.55ZM244.55 610.87H266.95V612.57H244.55ZM244.55 615.16H266.95V616.86H244.55ZM244.55 203.93H244.85V208.22H244.55ZM253.40 203.93H254.90V208.22H253.40ZM263.45 203.93H264.95V208.22H263.45ZM249.10 208.22H250.60V212.51H249.10ZM259.15 208.22H260.65V212.51H259.15ZM244.55 212.52H244.85V216.81H244.55ZM253.40 212.52H254.90V216.81H253.40ZM263.45 212.52H264.95V216.81H263.45ZM249.10 216.81H250.60V221.10H249.10ZM259.15 216.81H260.65V221.10H259.15ZM244.55 221.10H244.85V225.39H244.55ZM253.40 221.10H254.90V225.39H253.40ZM263.45 221.10H264.95V225.39H263.45ZM249.10 225.39H250.60V229.69H249.10ZM259.15 225.39H260.65V229.69H259.15ZM244.55 229.69H244.85V233.98H244.55ZM253.40 229.69H254.90V233.98H253.40ZM263.45 229.69H264.95V233.98H263.45ZM249.10 233.98H250.60V238.27H249.10ZM259.15 233.98H260.65V238.27H259.15ZM244.55 238.27H244.85V242.56H244.55ZM253.40 238.27H254.90V242.56H253.40ZM263.45 238.27H264.95V242.56H263.45ZM249.10 242.56H250.60V246.85H249.10ZM259.15 242.56H260.65V246.85H259.15ZM244.55 246.86H244.85V251.15H244.55ZM253.40 246.86H254.90V251.15H253.40ZM263.45 246.86H264.95V251.15H263.45ZM249.10 251.15H250.60V255.44H249.10ZM259.15 251.15H260.65V255.44H259.15ZM244.55 255.44H244.85V259.73H244.55ZM253.40 255.44H254.90V259.73H253.40ZM263.45 255.44H264.95V259.73H263.45ZM249.10 259.73H250.60V264.03H249.10ZM259.15 259.73H260.65V264.03H259.15ZM244.55 264.03H244.85V268.32H244.55ZM253.40 264.03H254.90V268.32H253.40ZM263.45 264.03H264.95V268.32H263.45ZM249.10 268.32H250.60V272.61H249.10ZM259.15 268.32H260.65V272.61H259.15ZM244.55 272.61H244.85V276.90H244.55ZM253.40 272.61H254.90V276.90H253.40ZM263.45 272.61H264.95V276.90H263.45ZM249.10 276.90H250.60V281.20H249.10ZM259.15 276.90H260.65V281.20H259.15ZM244.55 281.20H244.85V285.49H244.55ZM253.40 281.20H254.90V285.49H253.40ZM263.45 281.20H264.95V285.49H263.45ZM249.10 285.49H250.60V289.78H249.10ZM259.15 285.49H260.65V289.78H259.15ZM244.55 289.78H244.85V294.07H244.55ZM253.40 289.78H254.90V294.07H253.40ZM263.45 289.78H264.95V294.07H263.45ZM249.10 294.07H250.60V298.37H249.10ZM259.15 294.07H260.65V298.37H259.15ZM244.55 298.37H244.85V302.66H244.55ZM253.40 298.37H254.90V302.66H253.40ZM263.45 298.37H264.95V302.66H263.45ZM249.10 302.66H250.60V306.95H249.10ZM259.15 302.66H260.65V306.95H259.15ZM244.55 306.95H244.85V311.24H244.55ZM253.40 306.95H254.90V311.24H253.40ZM263.45 306.95H264.95V311.24H263.45ZM249.10 311.24H250.60V315.54H249.10ZM259.15 311.24H260.65V315.54H259.15ZM244.55 315.54H244.85V319.83H244.55ZM253.40 315.54H254.90V319.83H253.40ZM263.45 315.54H264.95V319.83H263.45ZM249.10 319.83H250.60V324.12H249.10ZM259.15 319.83H260.65V324.12H259.15ZM244.55 324.12H244.85V328.41H244.55ZM253.40 324.12H254.90V328.41H253.40ZM263.45 324.12H264.95V328.41H263.45ZM249.10 328.41H250.60V332.71H249.10ZM259.15 328.41H260.65V332.71H259.15ZM244.55 332.71H244.85V337.00H244.55ZM253.40 332.71H254.90V337.00H253.40ZM263.45 332.71H264.95V337.00H263.45ZM249.10 337.00H250.60V341.29H249.10ZM259.15 337.00H260.65V341.29H259.15ZM244.55 341.29H244.85V345.58H244.55ZM253.40 341.29H254.90V345.58H253.40ZM263.45 341.29H264.95V345.58H263.45ZM249.10 345.58H250.60V349.88H249.10ZM259.15 345.58H260.65V349.88H259.15ZM244.55 349.88H244.85V354.17H244.55ZM253.40 349.88H254.90V354.17H253.40ZM263.45 349.88H264.95V354.17H263.45ZM249.10 354.17H250.60V358.46H249.10ZM259.15 354.17H260.65V358.46H259.15ZM244.55 358.46H244.85V362.75H244.55ZM253.40 358.46H254.90V362.75H253.40ZM263.45 358.46H264.95V362.75H263.45ZM249.10 362.75H250.60V367.05H249.10ZM259.15 362.75H260.65V367.05H259.15ZM244.55 367.05H244.85V371.34H244.55ZM253.40 367.05H254.90V371.34H253.40ZM263.45 367.05H264.95V371.34H263.45ZM249.10 371.34H250.60V375.63H249.10ZM259.15 371.34H260.65V375.63H259.15ZM244.55 375.63H244.85V379.92H244.55ZM253.40 375.63H254.90V379.92H253.40ZM263.45 375.63H264.95V379.92H263.45ZM249.10 379.92H250.60V384.22H249.10ZM259.15 379.92H260.65V384.22H259.15ZM244.55 384.22H244.85V388.51H244.55ZM253.40 384.22H254.90V388.51H253.40ZM263.45 384.22H264.95V388.51H263.45ZM249.10 388.51H250.60V392.80H249.10ZM259.15 388.51H260.65V392.80H259.15ZM244.55 392.80H244.85V397.09H244.55ZM253.40 392.80H254.90V397.09H253.40ZM263.45 392.80H264.95V397.09H263.45ZM249.10 397.09H250.60V401.39H249.10ZM259.15 397.09H260.65V401.39H259.15ZM244.55 401.38H244.85V405.68H244.55ZM253.40 401.38H254.90V405.68H253.40ZM263.45 401.38H264.95V405.68H263.45ZM249.10 405.68H250.60V409.97H249.10ZM259.15 405.68H260.65V409.97H259.15ZM244.55 409.97H244.85V414.26H244.55ZM253.40 409.97H254.90V414.26H253.40ZM263.45 409.97H264.95V414.26H263.45ZM249.10 414.26H250.60V418.56H249.10ZM259.15 414.26H260.65V418.56H259.15ZM244.55 418.56H244.85V422.85H244.55ZM253.40 418.56H254.90V422.85H253.40ZM263.45 418.56H264.95V422.85H263.45ZM249.10 422.85H250.60V427.14H249.10ZM259.15 422.85H260.65V427.14H259.15ZM244.55 427.14H244.85V431.43H244.55ZM253.40 427.14H254.90V431.43H253.40ZM263.45 427.14H264.95V431.43H263.45ZM249.10 431.43H250.60V435.73H249.10ZM259.15 431.43H260.65V435.73H259.15ZM244.55 435.73H244.85V440.02H244.55ZM253.40 435.73H254.90V440.02H253.40ZM263.45 435.73H264.95V440.02H263.45ZM249.10 440.02H250.60V444.31H249.10ZM259.15 440.02H260.65V444.31H259.15ZM244.55 444.31H244.85V448.60H244.55ZM253.40 444.31H254.90V448.60H253.40ZM263.45 444.31H264.95V448.60H263.45ZM249.10 448.60H250.60V452.90H249.10ZM259.15 448.60H260.65V452.90H259.15ZM244.55 452.90H244.85V457.19H244.55ZM253.40 452.90H254.90V457.19H253.40ZM263.45 452.90H264.95V457.19H263.45ZM249.10 457.19H250.60V461.48H249.10ZM259.15 457.19H260.65V461.48H259.15ZM244.55 461.48H244.85V465.77H244.55ZM253.40 461.48H254.90V465.77H253.40ZM263.45 461.48H264.95V465.77H263.45ZM249.10 465.77H250.60V470.07H249.10ZM259.15 465.77H260.65V470.07H259.15ZM244.55 470.07H244.85V474.36H244.55ZM253.40 470.07H254.90V474.36H253.40ZM263.45 470.07H264.95V474.36H263.45ZM249.10 474.36H250.60V478.65H249.10ZM259.15 474.36H260.65V478.65H259.15ZM244.55 478.65H244.85V482.94H244.55ZM253.40 478.65H254.90V482.94H253.40ZM263.45 478.65H264.95V482.94H263.45ZM249.10 482.94H250.60V487.24H249.10ZM259.15 482.94H260.65V487.24H259.15ZM244.55 487.24H244.85V491.53H244.55ZM253.40 487.24H254.90V491.53H253.40ZM263.45 487.24H264.95V491.53H263.45ZM249.10 491.53H250.60V495.82H249.10ZM259.15 491.53H260.65V495.82H259.15ZM244.55 495.82H244.85V500.11H244.55ZM253.40 495.82H254.90V500.11H253.40ZM263.45 495.82H264.95V500.11H263.45ZM249.10 500.11H250.60V504.41H249.10ZM259.15 500.11H260.65V504.41H259.15ZM244.55 504.41H244.85V508.70H244.55ZM253.40 504.41H254.90V508.70H253.40ZM263.45 504.41H264.95V508.70H263.45ZM249.10 508.70H250.60V512.99H249.10ZM259.15 508.70H260.65V512.99H259.15ZM244.55 512.99H244.85V517.28H244.55ZM253.40 512.99H254.90V517.28H253.40ZM263.45 512.99H264.95V517.28H263.45ZM249.10 517.28H250.60V521.58H249.10ZM259.15 517.28H260.65V521.58H259.15ZM244.55 521.58H244.85V525.87H244.55ZM253.40 521.58H254.90V525.87H253.40ZM263.45 521.58H264.95V525.87H263.45ZM249.10 525.87H250.60V530.16H249.10ZM259.15 525.87H260.65V530.16H259.15ZM244.55 530.16H244.85V534.45H244.55ZM253.40 530.16H254.90V534.45H253.40ZM263.45 530.16H264.95V534.45H263.45ZM249.10 534.45H250.60V538.75H249.10ZM259.15 534.45H260.65V538.75H259.15ZM244.55 538.75H244.85V543.04H244.55ZM253.40 538.75H254.90V543.04H253.40ZM263.45 538.75H264.95V543.04H263.45ZM249.10 543.04H250.60V547.33H249.10ZM259.15 543.04H260.65V547.33H259.15ZM244.55 547.33H244.85V551.62H244.55ZM253.40 547.33H254.90V551.62H253.40ZM263.45 547.33H264.95V551.62H263.45ZM249.10 551.62H250.60V555.92H249.10ZM259.15 551.62H260.65V555.92H259.15ZM244.55 555.91H244.85V560.21H244.55ZM253.40 555.91H254.90V560.21H253.40ZM263.45 555.91H264.95V560.21H263.45ZM249.10 560.21H250.60V564.50H249.10ZM259.15 560.21H260.65V564.50H259.15ZM244.55 564.50H244.85V568.79H244.55ZM253.40 564.50H254.90V568.79H253.40ZM263.45 564.50H264.95V568.79H263.45ZM249.10 568.79H250.60V573.09H249.10ZM259.15 568.79H260.65V573.09H259.15ZM244.55 573.09H244.85V577.38H244.55ZM253.40 573.09H254.90V577.38H253.40ZM263.45 573.09H264.95V577.38H263.45ZM249.10 577.38H250.60V581.67H249.10ZM259.15 577.38H260.65V581.67H259.15ZM244.55 581.67H244.85V585.96H244.55ZM253.40 581.67H254.90V585.96H253.40ZM263.45 581.67H264.95V585.96H263.45ZM249.10 585.96H250.60V590.26H249.10ZM259.15 585.96H260.65V590.26H259.15ZM244.55 590.26H244.85V594.55H244.55ZM253.40 590.26H254.90V594.55H253.40ZM263.45 590.26H264.95V594.55H263.45ZM249.10 594.55H250.60V598.84H249.10ZM259.15 594.55H260.65V598.84H259.15ZM244.55 598.84H244.85V603.13H244.55ZM253.40 598.84H254.90V603.13H253.40ZM263.45 598.84H264.95V603.13H263.45ZM249.10 603.13H250.60V607.43H249.10ZM259.15 603.13H260.65V607.43H259.15ZM244.55 607.43H244.85V611.72H244.55ZM253.40 607.43H254.90V611.72H253.40ZM263.45 607.43H264.95V611.72H263.45ZM249.10 611.72H250.60V616.01H249.10ZM259.15 611.72H260.65V616.01H259.15ZM244.55 616.01H244.85V619.10H244.55ZM253.40 616.01H254.90V619.10H253.40ZM263.45 616.01H264.95V619.10H263.45Z"/></g>
<g fill="#8a8af8"><rect x="248.05" y="196.00" width="15.4" height="2.9"/><rect x="254.20" y="196.00" width="3.1" height="6.65"/></g>
<g fill="#8a8af8"><path fill-rule="evenodd" d="M286.70 220.40H317.10V619.10H286.70Z M290.70 224.40V619.10H313.10V224.40Z"/><path d="M290.70 226.12H313.10V227.82H290.70ZM290.70 230.42H313.10V232.12H290.70ZM290.70 234.71H313.10V236.41H290.70ZM290.70 239.00H313.10V240.70H290.70ZM290.70 243.29H313.10V244.99H290.70ZM290.70 247.59H313.10V249.28H290.70ZM290.70 251.88H313.10V253.58H290.70ZM290.70 256.17H313.10V257.87H290.70ZM290.70 260.46H313.10V262.16H290.70ZM290.70 264.75H313.10V266.46H290.70ZM290.70 269.05H313.10V270.75H290.70ZM290.70 273.34H313.10V275.04H290.70ZM290.70 277.63H313.10V279.33H290.70ZM290.70 281.93H313.10V283.63H290.70ZM290.70 286.22H313.10V287.92H290.70ZM290.70 290.51H313.10V292.21H290.70ZM290.70 294.80H313.10V296.50H290.70ZM290.70 299.10H313.10V300.80H290.70ZM290.70 303.39H313.10V305.09H290.70ZM290.70 307.68H313.10V309.38H290.70ZM290.70 311.97H313.10V313.67H290.70ZM290.70 316.26H313.10V317.97H290.70ZM290.70 320.56H313.10V322.26H290.70ZM290.70 324.85H313.10V326.55H290.70ZM290.70 329.14H313.10V330.84H290.70ZM290.70 333.44H313.10V335.14H290.70ZM290.70 337.73H313.10V339.43H290.70ZM290.70 342.02H313.10V343.72H290.70ZM290.70 346.31H313.10V348.01H290.70ZM290.70 350.61H313.10V352.31H290.70ZM290.70 354.90H313.10V356.60H290.70ZM290.70 359.19H313.10V360.89H290.70ZM290.70 363.48H313.10V365.18H290.70ZM290.70 367.77H313.10V369.48H290.70ZM290.70 372.07H313.10V373.77H290.70ZM290.70 376.36H313.10V378.06H290.70ZM290.70 380.65H313.10V382.35H290.70ZM290.70 384.94H313.10V386.65H290.70ZM290.70 389.24H313.10V390.94H290.70ZM290.70 393.53H313.10V395.23H290.70ZM290.70 397.82H313.10V399.52H290.70ZM290.70 402.12H313.10V403.82H290.70ZM290.70 406.41H313.10V408.11H290.70ZM290.70 410.70H313.10V412.40H290.70ZM290.70 414.99H313.10V416.69H290.70ZM290.70 419.28H313.10V420.99H290.70ZM290.70 423.58H313.10V425.28H290.70ZM290.70 427.87H313.10V429.57H290.70ZM290.70 432.16H313.10V433.86H290.70ZM290.70 436.46H313.10V438.16H290.70ZM290.70 440.75H313.10V442.45H290.70ZM290.70 445.04H313.10V446.74H290.70ZM290.70 449.33H313.10V451.03H290.70ZM290.70 453.62H313.10V455.33H290.70ZM290.70 457.92H313.10V459.62H290.70ZM290.70 462.21H313.10V463.91H290.70ZM290.70 466.50H313.10V468.20H290.70ZM290.70 470.80H313.10V472.50H290.70ZM290.70 475.09H313.10V476.79H290.70ZM290.70 479.38H313.10V481.08H290.70ZM290.70 483.67H313.10V485.37H290.70ZM290.70 487.97H313.10V489.67H290.70ZM290.70 492.26H313.10V493.96H290.70ZM290.70 496.55H313.10V498.25H290.70ZM290.70 500.84H313.10V502.54H290.70ZM290.70 505.13H313.10V506.84H290.70ZM290.70 509.43H313.10V511.13H290.70ZM290.70 513.72H313.10V515.42H290.70ZM290.70 518.01H313.10V519.71H290.70ZM290.70 522.30H313.10V524.00H290.70ZM290.70 526.60H313.10V528.30H290.70ZM290.70 530.89H313.10V532.59H290.70ZM290.70 535.18H313.10V536.88H290.70ZM290.70 539.48H313.10V541.18H290.70ZM290.70 543.77H313.10V545.47H290.70ZM290.70 548.06H313.10V549.76H290.70ZM290.70 552.35H313.10V554.05H290.70ZM290.70 556.65H313.10V558.35H290.70ZM290.70 560.94H313.10V562.64H290.70ZM290.70 565.23H313.10V566.93H290.70ZM290.70 569.52H313.10V571.22H290.70ZM290.70 573.81H313.10V575.51H290.70ZM290.70 578.11H313.10V579.81H290.70ZM290.70 582.40H313.10V584.10H290.70ZM290.70 586.69H313.10V588.39H290.70ZM290.70 590.99H313.10V592.69H290.70ZM290.70 595.28H313.10V596.98H290.70ZM290.70 599.57H313.10V601.27H290.70ZM290.70 603.86H313.10V605.56H290.70ZM290.70 608.16H313.10V609.86H290.70ZM290.70 612.45H313.10V614.15H290.70ZM290.70 616.74H313.10V618.44H290.70ZM290.70 222.68H291.00V226.97H290.70ZM299.55 222.68H301.05V226.97H299.55ZM309.60 222.68H311.10V226.97H309.60ZM295.25 226.97H296.75V231.26H295.25ZM305.30 226.97H306.80V231.26H305.30ZM290.70 231.27H291.00V235.56H290.70ZM299.55 231.27H301.05V235.56H299.55ZM309.60 231.27H311.10V235.56H309.60ZM295.25 235.56H296.75V239.85H295.25ZM305.30 235.56H306.80V239.85H305.30ZM290.70 239.85H291.00V244.14H290.70ZM299.55 239.85H301.05V244.14H299.55ZM309.60 239.85H311.10V244.14H309.60ZM295.25 244.14H296.75V248.44H295.25ZM305.30 244.14H306.80V248.44H305.30ZM290.70 248.44H291.00V252.73H290.70ZM299.55 248.44H301.05V252.73H299.55ZM309.60 248.44H311.10V252.73H309.60ZM295.25 252.73H296.75V257.02H295.25ZM305.30 252.73H306.80V257.02H305.30ZM290.70 257.02H291.00V261.31H290.70ZM299.55 257.02H301.05V261.31H299.55ZM309.60 257.02H311.10V261.31H309.60ZM295.25 261.31H296.75V265.61H295.25ZM305.30 261.31H306.80V265.61H305.30ZM290.70 265.61H291.00V269.90H290.70ZM299.55 265.61H301.05V269.90H299.55ZM309.60 265.61H311.10V269.90H309.60ZM295.25 269.90H296.75V274.19H295.25ZM305.30 269.90H306.80V274.19H305.30ZM290.70 274.19H291.00V278.48H290.70ZM299.55 274.19H301.05V278.48H299.55ZM309.60 274.19H311.10V278.48H309.60ZM295.25 278.48H296.75V282.78H295.25ZM305.30 278.48H306.80V282.78H305.30ZM290.70 282.78H291.00V287.07H290.70ZM299.55 282.78H301.05V287.07H299.55ZM309.60 282.78H311.10V287.07H309.60ZM295.25 287.07H296.75V291.36H295.25ZM305.30 287.07H306.80V291.36H305.30ZM290.70 291.36H291.00V295.65H290.70ZM299.55 291.36H301.05V295.65H299.55ZM309.60 291.36H311.10V295.65H309.60ZM295.25 295.65H296.75V299.95H295.25ZM305.30 295.65H306.80V299.95H305.30ZM290.70 299.95H291.00V304.24H290.70ZM299.55 299.95H301.05V304.24H299.55ZM309.60 299.95H311.10V304.24H309.60ZM295.25 304.24H296.75V308.53H295.25ZM305.30 304.24H306.80V308.53H305.30ZM290.70 308.53H291.00V312.82H290.70ZM299.55 308.53H301.05V312.82H299.55ZM309.60 308.53H311.10V312.82H309.60ZM295.25 312.82H296.75V317.12H295.25ZM305.30 312.82H306.80V317.12H305.30ZM290.70 317.12H291.00V321.41H290.70ZM299.55 317.12H301.05V321.41H299.55ZM309.60 317.12H311.10V321.41H309.60ZM295.25 321.41H296.75V325.70H295.25ZM305.30 321.41H306.80V325.70H305.30ZM290.70 325.70H291.00V329.99H290.70ZM299.55 325.70H301.05V329.99H299.55ZM309.60 325.70H311.10V329.99H309.60ZM295.25 329.99H296.75V334.29H295.25ZM305.30 329.99H306.80V334.29H305.30ZM290.70 334.29H291.00V338.58H290.70ZM299.55 334.29H301.05V338.58H299.55ZM309.60 334.29H311.10V338.58H309.60ZM295.25 338.58H296.75V342.87H295.25ZM305.30 338.58H306.80V342.87H305.30ZM290.70 342.87H291.00V347.16H290.70ZM299.55 342.87H301.05V347.16H299.55ZM309.60 342.87H311.10V347.16H309.60ZM295.25 347.16H296.75V351.46H295.25ZM305.30 347.16H306.80V351.46H305.30ZM290.70 351.46H291.00V355.75H290.70ZM299.55 351.46H301.05V355.75H299.55ZM309.60 351.46H311.10V355.75H309.60ZM295.25 355.75H296.75V360.04H295.25ZM305.30 355.75H306.80V360.04H305.30ZM290.70 360.04H291.00V364.33H290.70ZM299.55 360.04H301.05V364.33H299.55ZM309.60 360.04H311.10V364.33H309.60ZM295.25 364.33H296.75V368.62H295.25ZM305.30 364.33H306.80V368.62H305.30ZM290.70 368.62H291.00V372.92H290.70ZM299.55 368.62H301.05V372.92H299.55ZM309.60 368.62H311.10V372.92H309.60ZM295.25 372.92H296.75V377.21H295.25ZM305.30 372.92H306.80V377.21H305.30ZM290.70 377.21H291.00V381.50H290.70ZM299.55 377.21H301.05V381.50H299.55ZM309.60 377.21H311.10V381.50H309.60ZM295.25 381.50H296.75V385.80H295.25ZM305.30 381.50H306.80V385.80H305.30ZM290.70 385.80H291.00V390.09H290.70ZM299.55 385.80H301.05V390.09H299.55ZM309.60 385.80H311.10V390.09H309.60ZM295.25 390.09H296.75V394.38H295.25ZM305.30 390.09H306.80V394.38H305.30ZM290.70 394.38H291.00V398.67H290.70ZM299.55 394.38H301.05V398.67H299.55ZM309.60 394.38H311.10V398.67H309.60ZM295.25 398.67H296.75V402.97H295.25ZM305.30 398.67H306.80V402.97H305.30ZM290.70 402.97H291.00V407.26H290.70ZM299.55 402.97H301.05V407.26H299.55ZM309.60 402.97H311.10V407.26H309.60ZM295.25 407.26H296.75V411.55H295.25ZM305.30 407.26H306.80V411.55H305.30ZM290.70 411.55H291.00V415.84H290.70ZM299.55 411.55H301.05V415.84H299.55ZM309.60 411.55H311.10V415.84H309.60ZM295.25 415.84H296.75V420.14H295.25ZM305.30 415.84H306.80V420.14H305.30ZM290.70 420.13H291.00V424.43H290.70ZM299.55 420.13H301.05V424.43H299.55ZM309.60 420.13H311.10V424.43H309.60ZM295.25 424.43H296.75V428.72H295.25ZM305.30 424.43H306.80V428.72H305.30ZM290.70 428.72H291.00V433.01H290.70ZM299.55 428.72H301.05V433.01H299.55ZM309.60 428.72H311.10V433.01H309.60ZM295.25 433.01H296.75V437.31H295.25ZM305.30 433.01H306.80V437.31H305.30ZM290.70 437.31H291.00V441.60H290.70ZM299.55 437.31H301.05V441.60H299.55ZM309.60 437.31H311.10V441.60H309.60ZM295.25 441.60H296.75V445.89H295.25ZM305.30 441.60H306.80V445.89H305.30ZM290.70 445.89H291.00V450.18H290.70ZM299.55 445.89H301.05V450.18H299.55ZM309.60 445.89H311.10V450.18H309.60ZM295.25 450.18H296.75V454.48H295.25ZM305.30 450.18H306.80V454.48H305.30ZM290.70 454.48H291.00V458.77H290.70ZM299.55 454.48H301.05V458.77H299.55ZM309.60 454.48H311.10V458.77H309.60ZM295.25 458.77H296.75V463.06H295.25ZM305.30 458.77H306.80V463.06H305.30ZM290.70 463.06H291.00V467.35H290.70ZM299.55 463.06H301.05V467.35H299.55ZM309.60 463.06H311.10V467.35H309.60ZM295.25 467.35H296.75V471.65H295.25ZM305.30 467.35H306.80V471.65H305.30ZM290.70 471.65H291.00V475.94H290.70ZM299.55 471.65H301.05V475.94H299.55ZM309.60 471.65H311.10V475.94H309.60ZM295.25 475.94H296.75V480.23H295.25ZM305.30 475.94H306.80V480.23H305.30ZM290.70 480.23H291.00V484.52H290.70ZM299.55 480.23H301.05V484.52H299.55ZM309.60 480.23H311.10V484.52H309.60ZM295.25 484.52H296.75V488.82H295.25ZM305.30 484.52H306.80V488.82H305.30ZM290.70 488.82H291.00V493.11H290.70ZM299.55 488.82H301.05V493.11H299.55ZM309.60 488.82H311.10V493.11H309.60ZM295.25 493.11H296.75V497.40H295.25ZM305.30 493.11H306.80V497.40H305.30ZM290.70 497.40H291.00V501.69H290.70ZM299.55 497.40H301.05V501.69H299.55ZM309.60 497.40H311.10V501.69H309.60ZM295.25 501.69H296.75V505.99H295.25ZM305.30 501.69H306.80V505.99H305.30ZM290.70 505.99H291.00V510.28H290.70ZM299.55 505.99H301.05V510.28H299.55ZM309.60 505.99H311.10V510.28H309.60ZM295.25 510.28H296.75V514.57H295.25ZM305.30 510.28H306.80V514.57H305.30ZM290.70 514.57H291.00V518.86H290.70ZM299.55 514.57H301.05V518.86H299.55ZM309.60 514.57H311.10V518.86H309.60ZM295.25 518.86H296.75V523.15H295.25ZM305.30 518.86H306.80V523.15H305.30ZM290.70 523.15H291.00V527.45H290.70ZM299.55 523.15H301.05V527.45H299.55ZM309.60 523.15H311.10V527.45H309.60ZM295.25 527.45H296.75V531.74H295.25ZM305.30 527.45H306.80V531.74H305.30ZM290.70 531.74H291.00V536.03H290.70ZM299.55 531.74H301.05V536.03H299.55ZM309.60 531.74H311.10V536.03H309.60ZM295.25 536.03H296.75V540.33H295.25ZM305.30 536.03H306.80V540.33H305.30ZM290.70 540.33H291.00V544.62H290.70ZM299.55 540.33H301.05V544.62H299.55ZM309.60 540.33H311.10V544.62H309.60ZM295.25 544.62H296.75V548.91H295.25ZM305.30 544.62H306.80V548.91H305.30ZM290.70 548.91H291.00V553.20H290.70ZM299.55 548.91H301.05V553.20H299.55ZM309.60 548.91H311.10V553.20H309.60ZM295.25 553.20H296.75V557.50H295.25ZM305.30 553.20H306.80V557.50H305.30ZM290.70 557.50H291.00V561.79H290.70ZM299.55 557.50H301.05V561.79H299.55ZM309.60 557.50H311.10V561.79H309.60ZM295.25 561.79H296.75V566.08H295.25ZM305.30 561.79H306.80V566.08H305.30ZM290.70 566.08H291.00V570.37H290.70ZM299.55 566.08H301.05V570.37H299.55ZM309.60 566.08H311.10V570.37H309.60ZM295.25 570.37H296.75V574.67H295.25ZM305.30 570.37H306.80V574.67H305.30ZM290.70 574.66H291.00V578.96H290.70ZM299.55 574.66H301.05V578.96H299.55ZM309.60 574.66H311.10V578.96H309.60ZM295.25 578.96H296.75V583.25H295.25ZM305.30 578.96H306.80V583.25H305.30ZM290.70 583.25H291.00V587.54H290.70ZM299.55 583.25H301.05V587.54H299.55ZM309.60 583.25H311.10V587.54H309.60ZM295.25 587.54H296.75V591.84H295.25ZM305.30 587.54H306.80V591.84H305.30ZM290.70 591.84H291.00V596.13H290.70ZM299.55 591.84H301.05V596.13H299.55ZM309.60 591.84H311.10V596.13H309.60ZM295.25 596.13H296.75V600.42H295.25ZM305.30 596.13H306.80V600.42H305.30ZM290.70 600.42H291.00V604.71H290.70ZM299.55 600.42H301.05V604.71H299.55ZM309.60 600.42H311.10V604.71H309.60ZM295.25 604.71H296.75V609.01H295.25ZM305.30 604.71H306.80V609.01H305.30ZM290.70 609.01H291.00V613.30H290.70ZM299.55 609.01H301.05V613.30H299.55ZM309.60 609.01H311.10V613.30H309.60ZM295.25 613.30H296.75V617.59H295.25ZM305.30 613.30H306.80V617.59H305.30ZM290.70 617.59H291.00V619.10H290.70ZM299.55 617.59H301.05V619.10H299.55ZM309.60 617.59H311.10V619.10H309.60Z"/></g>
<g fill="#8a8af8"><rect x="294.20" y="216.60" width="15.4" height="2.9"/><rect x="300.35" y="216.60" width="3.1" height="4.80"/></g>
<g fill="#8a8af8"><path fill-rule="evenodd" d="M332.85 225.30H363.25V619.10H332.85Z M336.85 229.30V619.10H359.25V229.30Z"/><path d="M336.85 231.02H359.25V232.72H336.85ZM336.85 235.32H359.25V237.02H336.85ZM336.85 239.61H359.25V241.31H336.85ZM336.85 243.90H359.25V245.60H336.85ZM336.85 248.19H359.25V249.89H336.85ZM336.85 252.49H359.25V254.19H336.85ZM336.85 256.78H359.25V258.48H336.85ZM336.85 261.07H359.25V262.77H336.85ZM336.85 265.36H359.25V267.06H336.85ZM336.85 269.65H359.25V271.36H336.85ZM336.85 273.95H359.25V275.65H336.85ZM336.85 278.24H359.25V279.94H336.85ZM336.85 282.53H359.25V284.23H336.85ZM336.85 286.82H359.25V288.53H336.85ZM336.85 291.12H359.25V292.82H336.85ZM336.85 295.41H359.25V297.11H336.85ZM336.85 299.70H359.25V301.40H336.85ZM336.85 304.00H359.25V305.70H336.85ZM336.85 308.29H359.25V309.99H336.85ZM336.85 312.58H359.25V314.28H336.85ZM336.85 316.87H359.25V318.57H336.85ZM336.85 321.16H359.25V322.87H336.85ZM336.85 325.46H359.25V327.16H336.85ZM336.85 329.75H359.25V331.45H336.85ZM336.85 334.04H359.25V335.74H336.85ZM336.85 338.34H359.25V340.04H336.85ZM336.85 342.63H359.25V344.33H336.85ZM336.85 346.92H359.25V348.62H336.85ZM336.85 351.21H359.25V352.91H336.85ZM336.85 355.50H359.25V357.21H336.85ZM336.85 359.80H359.25V361.50H336.85ZM336.85 364.09H359.25V365.79H336.85ZM336.85 368.38H359.25V370.08H336.85ZM336.85 372.68H359.25V374.38H336.85ZM336.85 376.97H359.25V378.67H336.85ZM336.85 381.26H359.25V382.96H336.85ZM336.85 385.55H359.25V387.25H336.85ZM336.85 389.85H359.25V391.55H336.85ZM336.85 394.14H359.25V395.84H336.85ZM336.85 398.43H359.25V400.13H336.85ZM336.85 402.72H359.25V404.42H336.85ZM336.85 407.01H359.25V408.72H336.85ZM336.85 411.31H359.25V413.01H336.85ZM336.85 415.60H359.25V417.30H336.85ZM336.85 419.89H359.25V421.59H336.85ZM336.85 424.19H359.25V425.89H336.85ZM336.85 428.48H359.25V430.18H336.85ZM336.85 432.77H359.25V434.47H336.85ZM336.85 437.06H359.25V438.76H336.85ZM336.85 441.36H359.25V443.06H336.85ZM336.85 445.65H359.25V447.35H336.85ZM336.85 449.94H359.25V451.64H336.85ZM336.85 454.23H359.25V455.93H336.85ZM336.85 458.52H359.25V460.23H336.85ZM336.85 462.82H359.25V464.52H336.85ZM336.85 467.11H359.25V468.81H336.85ZM336.85 471.40H359.25V473.10H336.85ZM336.85 475.70H359.25V477.40H336.85ZM336.85 479.99H359.25V481.69H336.85ZM336.85 484.28H359.25V485.98H336.85ZM336.85 488.57H359.25V490.27H336.85ZM336.85 492.87H359.25V494.57H336.85ZM336.85 497.16H359.25V498.86H336.85ZM336.85 501.45H359.25V503.15H336.85ZM336.85 505.74H359.25V507.44H336.85ZM336.85 510.03H359.25V511.74H336.85ZM336.85 514.33H359.25V516.03H336.85ZM336.85 518.62H359.25V520.32H336.85ZM336.85 522.91H359.25V524.61H336.85ZM336.85 527.21H359.25V528.91H336.85ZM336.85 531.50H359.25V533.20H336.85ZM336.85 535.79H359.25V537.49H336.85ZM336.85 540.08H359.25V541.78H336.85ZM336.85 544.38H359.25V546.08H336.85ZM336.85 548.67H359.25V550.37H336.85ZM336.85 552.96H359.25V554.66H336.85ZM336.85 557.25H359.25V558.95H336.85ZM336.85 561.55H359.25V563.25H336.85ZM336.85 565.84H359.25V567.54H336.85ZM336.85 570.13H359.25V571.83H336.85ZM336.85 574.42H359.25V576.12H336.85ZM336.85 578.72H359.25V580.42H336.85ZM336.85 583.01H359.25V584.71H336.85ZM336.85 587.30H359.25V589.00H336.85ZM336.85 591.59H359.25V593.29H336.85ZM336.85 595.88H359.25V597.59H336.85ZM336.85 600.18H359.25V601.88H336.85ZM336.85 604.47H359.25V606.17H336.85ZM336.85 608.76H359.25V610.46H336.85ZM336.85 613.06H359.25V614.76H336.85ZM336.85 617.35H359.25V619.05H336.85ZM336.85 227.58H337.15V231.87H336.85ZM345.70 227.58H347.20V231.87H345.70ZM355.75 227.58H357.25V231.87H355.75ZM341.40 231.87H342.90V236.16H341.40ZM351.45 231.87H352.95V236.16H351.45ZM336.85 236.17H337.15V240.46H336.85ZM345.70 236.17H347.20V240.46H345.70ZM355.75 236.17H357.25V240.46H355.75ZM341.40 240.46H342.90V244.75H341.40ZM351.45 240.46H352.95V244.75H351.45ZM336.85 244.75H337.15V249.04H336.85ZM345.70 244.75H347.20V249.04H345.70ZM355.75 244.75H357.25V249.04H355.75ZM341.40 249.04H342.90V253.34H341.40ZM351.45 249.04H352.95V253.34H351.45ZM336.85 253.34H337.15V257.63H336.85ZM345.70 253.34H347.20V257.63H345.70ZM355.75 253.34H357.25V257.63H355.75ZM341.40 257.63H342.90V261.92H341.40ZM351.45 257.63H352.95V261.92H351.45ZM336.85 261.92H337.15V266.21H336.85ZM345.70 261.92H347.20V266.21H345.70ZM355.75 261.92H357.25V266.21H355.75ZM341.40 266.21H342.90V270.51H341.40ZM351.45 266.21H352.95V270.51H351.45ZM336.85 270.50H337.15V274.80H336.85ZM345.70 270.50H347.20V274.80H345.70ZM355.75 270.50H357.25V274.80H355.75ZM341.40 274.80H342.90V279.09H341.40ZM351.45 274.80H352.95V279.09H351.45ZM336.85 279.09H337.15V283.38H336.85ZM345.70 279.09H347.20V283.38H345.70ZM355.75 279.09H357.25V283.38H355.75ZM341.40 283.38H342.90V287.68H341.40ZM351.45 283.38H352.95V287.68H351.45ZM336.85 287.68H337.15V291.97H336.85ZM345.70 287.68H347.20V291.97H345.70ZM355.75 287.68H357.25V291.97H355.75ZM341.40 291.97H342.90V296.26H341.40ZM351.45 291.97H352.95V296.26H351.45ZM336.85 296.26H337.15V300.55H336.85ZM345.70 296.26H347.20V300.55H345.70ZM355.75 296.26H357.25V300.55H355.75ZM341.40 300.55H342.90V304.85H341.40ZM351.45 300.55H352.95V304.85H351.45ZM336.85 304.85H337.15V309.14H336.85ZM345.70 304.85H347.20V309.14H345.70ZM355.75 304.85H357.25V309.14H355.75ZM341.40 309.14H342.90V313.43H341.40ZM351.45 309.14H352.95V313.43H351.45ZM336.85 313.43H337.15V317.72H336.85ZM345.70 313.43H347.20V317.72H345.70ZM355.75 313.43H357.25V317.72H355.75ZM341.40 317.72H342.90V322.02H341.40ZM351.45 317.72H352.95V322.02H351.45ZM336.85 322.01H337.15V326.31H336.85ZM345.70 322.01H347.20V326.31H345.70ZM355.75 322.01H357.25V326.31H355.75ZM341.40 326.31H342.90V330.60H341.40ZM351.45 326.31H352.95V330.60H351.45ZM336.85 330.60H337.15V334.89H336.85ZM345.70 330.60H347.20V334.89H345.70ZM355.75 330.60H357.25V334.89H355.75ZM341.40 334.89H342.90V339.19H341.40ZM351.45 334.89H352.95V339.19H351.45ZM336.85 339.19H337.15V343.48H336.85ZM345.70 339.19H347.20V343.48H345.70ZM355.75 339.19H357.25V343.48H355.75ZM341.40 343.48H342.90V347.77H341.40ZM351.45 343.48H352.95V347.77H351.45ZM336.85 347.77H337.15V352.06H336.85ZM345.70 347.77H347.20V352.06H345.70ZM355.75 347.77H357.25V352.06H355.75ZM341.40 352.06H342.90V356.36H341.40ZM351.45 352.06H352.95V356.36H351.45ZM336.85 356.36H337.15V360.65H336.85ZM345.70 356.36H347.20V360.65H345.70ZM355.75 356.36H357.25V360.65H355.75ZM341.40 360.65H342.90V364.94H341.40ZM351.45 360.65H352.95V364.94H351.45ZM336.85 364.94H337.15V369.23H336.85ZM345.70 364.94H347.20V369.23H345.70ZM355.75 364.94H357.25V369.23H355.75ZM341.40 369.23H342.90V373.53H341.40ZM351.45 369.23H352.95V373.53H351.45ZM336.85 373.53H337.15V377.82H336.85ZM345.70 373.53H347.20V377.82H345.70ZM355.75 373.53H357.25V377.82H355.75ZM341.40 377.82H342.90V382.11H341.40ZM351.45 377.82H352.95V382.11H351.45ZM336.85 382.11H337.15V386.40H336.85ZM345.70 382.11H347.20V386.40H345.70ZM355.75 382.11H357.25V386.40H355.75ZM341.40 386.40H342.90V390.70H341.40ZM351.45 386.40H352.95V390.70H351.45ZM336.85 390.70H337.15V394.99H336.85ZM345.70 390.70H347.20V394.99H345.70ZM355.75 390.70H357.25V394.99H355.75ZM341.40 394.99H342.90V399.28H341.40ZM351.45 394.99H352.95V399.28H351.45ZM336.85 399.28H337.15V403.57H336.85ZM345.70 399.28H347.20V403.57H345.70ZM355.75 399.28H357.25V403.57H355.75ZM341.40 403.57H342.90V407.87H341.40ZM351.45 403.57H352.95V407.87H351.45ZM336.85 407.87H337.15V412.16H336.85ZM345.70 407.87H347.20V412.16H345.70ZM355.75 407.87H357.25V412.16H355.75ZM341.40 412.16H342.90V416.45H341.40ZM351.45 412.16H352.95V416.45H351.45ZM336.85 416.45H337.15V420.74H336.85ZM345.70 416.45H347.20V420.74H345.70ZM355.75 416.45H357.25V420.74H355.75ZM341.40 420.74H342.90V425.04H341.40ZM351.45 420.74H352.95V425.04H351.45ZM336.85 425.04H337.15V429.33H336.85ZM345.70 425.04H347.20V429.33H345.70ZM355.75 425.04H357.25V429.33H355.75ZM341.40 429.33H342.90V433.62H341.40ZM351.45 429.33H352.95V433.62H351.45ZM336.85 433.62H337.15V437.91H336.85ZM345.70 433.62H347.20V437.91H345.70ZM355.75 433.62H357.25V437.91H355.75ZM341.40 437.91H342.90V442.21H341.40ZM351.45 437.91H352.95V442.21H351.45ZM336.85 442.21H337.15V446.50H336.85ZM345.70 442.21H347.20V446.50H345.70ZM355.75 442.21H357.25V446.50H355.75ZM341.40 446.50H342.90V450.79H341.40ZM351.45 446.50H352.95V450.79H351.45ZM336.85 450.79H337.15V455.08H336.85ZM345.70 450.79H347.20V455.08H345.70ZM355.75 450.79H357.25V455.08H355.75ZM341.40 455.08H342.90V459.38H341.40ZM351.45 455.08H352.95V459.38H351.45ZM336.85 459.38H337.15V463.67H336.85ZM345.70 459.38H347.20V463.67H345.70ZM355.75 459.38H357.25V463.67H355.75ZM341.40 463.67H342.90V467.96H341.40ZM351.45 463.67H352.95V467.96H351.45ZM336.85 467.96H337.15V472.25H336.85ZM345.70 467.96H347.20V472.25H345.70ZM355.75 467.96H357.25V472.25H355.75ZM341.40 472.25H342.90V476.55H341.40ZM351.45 472.25H352.95V476.55H351.45ZM336.85 476.55H337.15V480.84H336.85ZM345.70 476.55H347.20V480.84H345.70ZM355.75 476.55H357.25V480.84H355.75ZM341.40 480.84H342.90V485.13H341.40ZM351.45 480.84H352.95V485.13H351.45ZM336.85 485.13H337.15V489.42H336.85ZM345.70 485.13H347.20V489.42H345.70ZM355.75 485.13H357.25V489.42H355.75ZM341.40 489.42H342.90V493.72H341.40ZM351.45 489.42H352.95V493.72H351.45ZM336.85 493.72H337.15V498.01H336.85ZM345.70 493.72H347.20V498.01H345.70ZM355.75 493.72H357.25V498.01H355.75ZM341.40 498.01H342.90V502.30H341.40ZM351.45 498.01H352.95V502.30H351.45ZM336.85 502.30H337.15V506.59H336.85ZM345.70 502.30H347.20V506.59H345.70ZM355.75 502.30H357.25V506.59H355.75ZM341.40 506.59H342.90V510.89H341.40ZM351.45 506.59H352.95V510.89H351.45ZM336.85 510.88H337.15V515.18H336.85ZM345.70 510.88H347.20V515.18H345.70ZM355.75 510.88H357.25V515.18H355.75ZM341.40 515.18H342.90V519.47H341.40ZM351.45 515.18H352.95V519.47H351.45ZM336.85 519.47H337.15V523.76H336.85ZM345.70 519.47H347.20V523.76H345.70ZM355.75 519.47H357.25V523.76H355.75ZM341.40 523.76H342.90V528.06H341.40ZM351.45 523.76H352.95V528.06H351.45ZM336.85 528.06H337.15V532.35H336.85ZM345.70 528.06H347.20V532.35H345.70ZM355.75 528.06H357.25V532.35H355.75ZM341.40 532.35H342.90V536.64H341.40ZM351.45 532.35H352.95V536.64H351.45ZM336.85 536.64H337.15V540.93H336.85ZM345.70 536.64H347.20V540.93H345.70ZM355.75 536.64H357.25V540.93H355.75ZM341.40 540.93H342.90V545.23H341.40ZM351.45 540.93H352.95V545.23H351.45ZM336.85 545.23H337.15V549.52H336.85ZM345.70 545.23H347.20V549.52H345.70ZM355.75 545.23H357.25V549.52H355.75ZM341.40 549.52H342.90V553.81H341.40ZM351.45 549.52H352.95V553.81H351.45ZM336.85 553.81H337.15V558.10H336.85ZM345.70 553.81H347.20V558.10H345.70ZM355.75 553.81H357.25V558.10H355.75ZM341.40 558.10H342.90V562.40H341.40ZM351.45 558.10H352.95V562.40H351.45ZM336.85 562.40H337.15V566.69H336.85ZM345.70 562.40H347.20V566.69H345.70ZM355.75 562.40H357.25V566.69H355.75ZM341.40 566.69H342.90V570.98H341.40ZM351.45 566.69H352.95V570.98H351.45ZM336.85 570.98H337.15V575.27H336.85ZM345.70 570.98H347.20V575.27H345.70ZM355.75 570.98H357.25V575.27H355.75ZM341.40 575.27H342.90V579.57H341.40ZM351.45 575.27H352.95V579.57H351.45ZM336.85 579.57H337.15V583.86H336.85ZM345.70 579.57H347.20V583.86H345.70ZM355.75 579.57H357.25V583.86H355.75ZM341.40 583.86H342.90V588.15H341.40ZM351.45 583.86H352.95V588.15H351.45ZM336.85 588.15H337.15V592.44H336.85ZM345.70 588.15H347.20V592.44H345.70ZM355.75 588.15H357.25V592.44H355.75ZM341.40 592.44H342.90V596.74H341.40ZM351.45 592.44H352.95V596.74H351.45ZM336.85 596.74H337.15V601.03H336.85ZM345.70 596.74H347.20V601.03H345.70ZM355.75 596.74H357.25V601.03H355.75ZM341.40 601.03H342.90V605.32H341.40ZM351.45 601.03H352.95V605.32H351.45ZM336.85 605.32H337.15V609.61H336.85ZM345.70 605.32H347.20V609.61H345.70ZM355.75 605.32H357.25V609.61H355.75ZM341.40 609.61H342.90V613.91H341.40ZM351.45 609.61H352.95V613.91H351.45ZM336.85 613.91H337.15V618.20H336.85ZM345.70 613.91H347.20V618.20H345.70ZM355.75 613.91H357.25V618.20H355.75ZM341.40 618.20H342.90V619.10H341.40ZM351.45 618.20H352.95V619.10H351.45Z"/></g>
<g fill="#8a8af8"><rect x="340.35" y="221.60" width="15.4" height="2.9"/><rect x="346.50" y="221.60" width="3.1" height="4.70"/></g>
<g fill="#8a8af8"><path fill-rule="evenodd" d="M379.00 267.10H409.40V619.10H379.00Z M383.00 271.10V619.10H405.40V271.10Z"/><path d="M383.00 272.82H405.40V274.52H383.00ZM383.00 277.11H405.40V278.81H383.00ZM383.00 281.41H405.40V283.11H383.00ZM383.00 285.70H405.40V287.40H383.00ZM383.00 289.99H405.40V291.69H383.00ZM383.00 294.28H405.40V295.99H383.00ZM383.00 298.58H405.40V300.28H383.00ZM383.00 302.87H405.40V304.57H383.00ZM383.00 307.16H405.40V308.86H383.00ZM383.00 311.45H405.40V313.16H383.00ZM383.00 315.75H405.40V317.45H383.00ZM383.00 320.04H405.40V321.74H383.00ZM383.00 324.33H405.40V326.03H383.00ZM383.00 328.62H405.40V330.33H383.00ZM383.00 332.92H405.40V334.62H383.00ZM383.00 337.21H405.40V338.91H383.00ZM383.00 341.50H405.40V343.20H383.00ZM383.00 345.79H405.40V347.50H383.00ZM383.00 350.09H405.40V351.79H383.00ZM383.00 354.38H405.40V356.08H383.00ZM383.00 358.67H405.40V360.37H383.00ZM383.00 362.96H405.40V364.67H383.00ZM383.00 367.26H405.40V368.96H383.00ZM383.00 371.55H405.40V373.25H383.00ZM383.00 375.84H405.40V377.54H383.00ZM383.00 380.13H405.40V381.84H383.00ZM383.00 384.43H405.40V386.13H383.00ZM383.00 388.72H405.40V390.42H383.00ZM383.00 393.01H405.40V394.71H383.00ZM383.00 397.30H405.40V399.00H383.00ZM383.00 401.60H405.40V403.30H383.00ZM383.00 405.89H405.40V407.59H383.00ZM383.00 410.18H405.40V411.88H383.00ZM383.00 414.48H405.40V416.18H383.00ZM383.00 418.77H405.40V420.47H383.00ZM383.00 423.06H405.40V424.76H383.00ZM383.00 427.35H405.40V429.05H383.00ZM383.00 431.64H405.40V433.35H383.00ZM383.00 435.94H405.40V437.64H383.00ZM383.00 440.23H405.40V441.93H383.00ZM383.00 444.52H405.40V446.22H383.00ZM383.00 448.81H405.40V450.52H383.00ZM383.00 453.11H405.40V454.81H383.00ZM383.00 457.40H405.40V459.10H383.00ZM383.00 461.69H405.40V463.39H383.00ZM383.00 465.99H405.40V467.69H383.00ZM383.00 470.28H405.40V471.98H383.00ZM383.00 474.57H405.40V476.27H383.00ZM383.00 478.86H405.40V480.56H383.00ZM383.00 483.15H405.40V484.86H383.00ZM383.00 487.45H405.40V489.15H383.00ZM383.00 491.74H405.40V493.44H383.00ZM383.00 496.03H405.40V497.73H383.00ZM383.00 500.32H405.40V502.03H383.00ZM383.00 504.62H405.40V506.32H383.00ZM383.00 508.91H405.40V510.61H383.00ZM383.00 513.20H405.40V514.90H383.00ZM383.00 517.50H405.40V519.20H383.00ZM383.00 521.79H405.40V523.49H383.00ZM383.00 526.08H405.40V527.78H383.00ZM383.00 530.37H405.40V532.07H383.00ZM383.00 534.67H405.40V536.37H383.00ZM383.00 538.96H405.40V540.66H383.00ZM383.00 543.25H405.40V544.95H383.00ZM383.00 547.54H405.40V549.24H383.00ZM383.00 551.83H405.40V553.53H383.00ZM383.00 556.13H405.40V557.83H383.00ZM383.00 560.42H405.40V562.12H383.00ZM383.00 564.71H405.40V566.41H383.00ZM383.00 569.00H405.40V570.71H383.00ZM383.00 573.30H405.40V575.00H383.00ZM383.00 577.59H405.40V579.29H383.00ZM383.00 581.88H405.40V583.58H383.00ZM383.00 586.18H405.40V587.88H383.00ZM383.00 590.47H405.40V592.17H383.00ZM383.00 594.76H405.40V596.46H383.00ZM383.00 599.05H405.40V600.75H383.00ZM383.00 603.35H405.40V605.05H383.00ZM383.00 607.64H405.40V609.34H383.00ZM383.00 611.93H405.40V613.63H383.00ZM383.00 616.22H405.40V617.92H383.00ZM383.00 269.38H383.30V273.67H383.00ZM391.85 269.38H393.35V273.67H391.85ZM401.90 269.38H403.40V273.67H401.90ZM387.55 273.67H389.05V277.97H387.55ZM397.60 273.67H399.10V277.97H397.60ZM383.00 277.96H383.30V282.26H383.00ZM391.85 277.96H393.35V282.26H391.85ZM401.90 277.96H403.40V282.26H401.90ZM387.55 282.26H389.05V286.55H387.55ZM397.60 282.26H399.10V286.55H397.60ZM383.00 286.55H383.30V290.84H383.00ZM391.85 286.55H393.35V290.84H391.85ZM401.90 286.55H403.40V290.84H401.90ZM387.55 290.84H389.05V295.13H387.55ZM397.60 290.84H399.10V295.13H397.60ZM383.00 295.13H383.30V299.43H383.00ZM391.85 295.13H393.35V299.43H391.85ZM401.90 295.13H403.40V299.43H401.90ZM387.55 299.43H389.05V303.72H387.55ZM397.60 299.43H399.10V303.72H397.60ZM383.00 303.72H383.30V308.01H383.00ZM391.85 303.72H393.35V308.01H391.85ZM401.90 303.72H403.40V308.01H401.90ZM387.55 308.01H389.05V312.31H387.55ZM397.60 308.01H399.10V312.31H397.60ZM383.00 312.31H383.30V316.60H383.00ZM391.85 312.31H393.35V316.60H391.85ZM401.90 312.31H403.40V316.60H401.90ZM387.55 316.60H389.05V320.89H387.55ZM397.60 316.60H399.10V320.89H397.60ZM383.00 320.89H383.30V325.18H383.00ZM391.85 320.89H393.35V325.18H391.85ZM401.90 320.89H403.40V325.18H401.90ZM387.55 325.18H389.05V329.48H387.55ZM397.60 325.18H399.10V329.48H397.60ZM383.00 329.48H383.30V333.77H383.00ZM391.85 329.48H393.35V333.77H391.85ZM401.90 329.48H403.40V333.77H401.90ZM387.55 333.77H389.05V338.06H387.55ZM397.60 333.77H399.10V338.06H397.60ZM383.00 338.06H383.30V342.35H383.00ZM391.85 338.06H393.35V342.35H391.85ZM401.90 338.06H403.40V342.35H401.90ZM387.55 342.35H389.05V346.65H387.55ZM397.60 342.35H399.10V346.65H397.60ZM383.00 346.64H383.30V350.94H383.00ZM391.85 346.64H393.35V350.94H391.85ZM401.90 346.64H403.40V350.94H401.90ZM387.55 350.94H389.05V355.23H387.55ZM397.60 350.94H399.10V355.23H397.60ZM383.00 355.23H383.30V359.52H383.00ZM391.85 355.23H393.35V359.52H391.85ZM401.90 355.23H403.40V359.52H401.90ZM387.55 359.52H389.05V363.82H387.55ZM397.60 359.52H399.10V363.82H397.60ZM383.00 363.81H383.30V368.11H383.00ZM391.85 363.81H393.35V368.11H391.85ZM401.90 363.81H403.40V368.11H401.90ZM387.55 368.11H389.05V372.40H387.55ZM397.60 368.11H399.10V372.40H397.60ZM383.00 372.40H383.30V376.69H383.00ZM391.85 372.40H393.35V376.69H391.85ZM401.90 372.40H403.40V376.69H401.90ZM387.55 376.69H389.05V380.99H387.55ZM397.60 376.69H399.10V380.99H397.60ZM383.00 380.99H383.30V385.28H383.00ZM391.85 380.99H393.35V385.28H391.85ZM401.90 380.99H403.40V385.28H401.90ZM387.55 385.28H389.05V389.57H387.55ZM397.60 385.28H399.10V389.57H397.60ZM383.00 389.57H383.30V393.86H383.00ZM391.85 389.57H393.35V393.86H391.85ZM401.90 389.57H403.40V393.86H401.90ZM387.55 393.86H389.05V398.16H387.55ZM397.60 393.86H399.10V398.16H397.60ZM383.00 398.15H383.30V402.45H383.00ZM391.85 398.15H393.35V402.45H391.85ZM401.90 398.15H403.40V402.45H401.90ZM387.55 402.45H389.05V406.74H387.55ZM397.60 402.45H399.10V406.74H397.60ZM383.00 406.74H383.30V411.03H383.00ZM391.85 406.74H393.35V411.03H391.85ZM401.90 406.74H403.40V411.03H401.90ZM387.55 411.03H389.05V415.33H387.55ZM397.60 411.03H399.10V415.33H397.60ZM383.00 415.33H383.30V419.62H383.00ZM391.85 415.33H393.35V419.62H391.85ZM401.90 415.33H403.40V419.62H401.90ZM387.55 419.62H389.05V423.91H387.55ZM397.60 419.62H399.10V423.91H397.60ZM383.00 423.91H383.30V428.20H383.00ZM391.85 423.91H393.35V428.20H391.85ZM401.90 423.91H403.40V428.20H401.90ZM387.55 428.20H389.05V432.50H387.55ZM397.60 428.20H399.10V432.50H397.60ZM383.00 432.50H383.30V436.79H383.00ZM391.85 432.50H393.35V436.79H391.85ZM401.90 432.50H403.40V436.79H401.90ZM387.55 436.79H389.05V441.08H387.55ZM397.60 436.79H399.10V441.08H397.60ZM383.00 441.08H383.30V445.37H383.00ZM391.85 441.08H393.35V445.37H391.85ZM401.90 441.08H403.40V445.37H401.90ZM387.55 445.37H389.05V449.67H387.55ZM397.60 445.37H399.10V449.67H397.60ZM383.00 449.67H383.30V453.96H383.00ZM391.85 449.67H393.35V453.96H391.85ZM401.90 449.67H403.40V453.96H401.90ZM387.55 453.96H389.05V458.25H387.55ZM397.60 453.96H399.10V458.25H397.60ZM383.00 458.25H383.30V462.54H383.00ZM391.85 458.25H393.35V462.54H391.85ZM401.90 458.25H403.40V462.54H401.90ZM387.55 462.54H389.05V466.84H387.55ZM397.60 462.54H399.10V466.84H397.60ZM383.00 466.84H383.30V471.13H383.00ZM391.85 466.84H393.35V471.13H391.85ZM401.90 466.84H403.40V471.13H401.90ZM387.55 471.13H389.05V475.42H387.55ZM397.60 471.13H399.10V475.42H397.60ZM383.00 475.42H383.30V479.71H383.00ZM391.85 475.42H393.35V479.71H391.85ZM401.90 475.42H403.40V479.71H401.90ZM387.55 479.71H389.05V484.00H387.55ZM397.60 479.71H399.10V484.00H397.60ZM383.00 484.00H383.30V488.30H383.00ZM391.85 484.00H393.35V488.30H391.85ZM401.90 484.00H403.40V488.30H401.90ZM387.55 488.30H389.05V492.59H387.55ZM397.60 488.30H399.10V492.59H397.60ZM383.00 492.59H383.30V496.88H383.00ZM391.85 492.59H393.35V496.88H391.85ZM401.90 492.59H403.40V496.88H401.90ZM387.55 496.88H389.05V501.18H387.55ZM397.60 496.88H399.10V501.18H397.60ZM383.00 501.18H383.30V505.47H383.00ZM391.85 501.18H393.35V505.47H391.85ZM401.90 501.18H403.40V505.47H401.90ZM387.55 505.47H389.05V509.76H387.55ZM397.60 505.47H399.10V509.76H397.60ZM383.00 509.76H383.30V514.05H383.00ZM391.85 509.76H393.35V514.05H391.85ZM401.90 509.76H403.40V514.05H401.90ZM387.55 514.05H389.05V518.35H387.55ZM397.60 514.05H399.10V518.35H397.60ZM383.00 518.35H383.30V522.64H383.00ZM391.85 518.35H393.35V522.64H391.85ZM401.90 518.35H403.40V522.64H401.90ZM387.55 522.64H389.05V526.93H387.55ZM397.60 522.64H399.10V526.93H397.60ZM383.00 526.93H383.30V531.22H383.00ZM391.85 526.93H393.35V531.22H391.85ZM401.90 526.93H403.40V531.22H401.90ZM387.55 531.22H389.05V535.52H387.55ZM397.60 531.22H399.10V535.52H397.60ZM383.00 535.52H383.30V539.81H383.00ZM391.85 535.52H393.35V539.81H391.85ZM401.90 535.52H403.40V539.81H401.90ZM387.55 539.81H389.05V544.10H387.55ZM397.60 539.81H399.10V544.10H397.60ZM383.00 544.10H383.30V548.39H383.00ZM391.85 544.10H393.35V548.39H391.85ZM401.90 544.10H403.40V548.39H401.90ZM387.55 548.39H389.05V552.69H387.55ZM397.60 548.39H399.10V552.69H397.60ZM383.00 552.68H383.30V556.98H383.00ZM391.85 552.68H393.35V556.98H391.85ZM401.90 552.68H403.40V556.98H401.90ZM387.55 556.98H389.05V561.27H387.55ZM397.60 556.98H399.10V561.27H397.60ZM383.00 561.27H383.30V565.56H383.00ZM391.85 561.27H393.35V565.56H391.85ZM401.90 561.27H403.40V565.56H401.90ZM387.55 565.56H389.05V569.86H387.55ZM397.60 565.56H399.10V569.86H397.60ZM383.00 569.86H383.30V574.15H383.00ZM391.85 569.86H393.35V574.15H391.85ZM401.90 569.86H403.40V574.15H401.90ZM387.55 574.15H389.05V578.44H387.55ZM397.60 574.15H399.10V578.44H397.60ZM383.00 578.44H383.30V582.73H383.00ZM391.85 578.44H393.35V582.73H391.85ZM401.90 578.44H403.40V582.73H401.90ZM387.55 582.73H389.05V587.03H387.55ZM397.60 582.73H399.10V587.03H397.60ZM383.00 587.03H383.30V591.32H383.00ZM391.85 587.03H393.35V591.32H391.85ZM401.90 587.03H403.40V591.32H401.90ZM387.55 591.32H389.05V595.61H387.55ZM397.60 591.32H399.10V595.61H397.60ZM383.00 595.61H383.30V599.90H383.00ZM391.85 595.61H393.35V599.90H391.85ZM401.90 595.61H403.40V599.90H401.90ZM387.55 599.90H389.05V604.20H387.55ZM397.60 599.90H399.10V604.20H397.60ZM383.00 604.20H383.30V608.49H383.00ZM391.85 604.20H393.35V608.49H391.85ZM401.90 604.20H403.40V608.49H401.90ZM387.55 608.49H389.05V612.78H387.55ZM397.60 608.49H399.10V612.78H397.60ZM383.00 612.78H383.30V617.07H383.00ZM391.85 612.78H393.35V617.07H391.85ZM401.90 612.78H403.40V617.07H401.90ZM387.55 617.07H389.05V619.10H387.55ZM397.60 617.07H399.10V619.10H397.60Z"/></g>
<g fill="#8a8af8"><rect x="386.50" y="261.10" width="15.4" height="2.9"/><rect x="392.65" y="261.10" width="3.1" height="7.00"/></g>
<g fill="#8a8af8"><path fill-rule="evenodd" d="M425.15 293.40H455.55V619.10H425.15Z M429.15 297.40V619.10H451.55V297.40Z"/><path d="M429.15 299.12H451.55V300.82H429.15ZM429.15 303.41H451.55V305.11H429.15ZM429.15 307.71H451.55V309.41H429.15ZM429.15 312.00H451.55V313.70H429.15ZM429.15 316.29H451.55V317.99H429.15ZM429.15 320.58H451.55V322.28H429.15ZM429.15 324.88H451.55V326.58H429.15ZM429.15 329.17H451.55V330.87H429.15ZM429.15 333.46H451.55V335.16H429.15ZM429.15 337.75H451.55V339.45H429.15ZM429.15 342.05H451.55V343.75H429.15ZM429.15 346.34H451.55V348.04H429.15ZM429.15 350.63H451.55V352.33H429.15ZM429.15 354.92H451.55V356.62H429.15ZM429.15 359.22H451.55V360.92H429.15ZM429.15 363.51H451.55V365.21H429.15ZM429.15 367.80H451.55V369.50H429.15ZM429.15 372.09H451.55V373.79H429.15ZM429.15 376.39H451.55V378.09H429.15ZM429.15 380.68H451.55V382.38H429.15ZM429.15 384.97H451.55V386.67H429.15ZM429.15 389.26H451.55V390.96H429.15ZM429.15 393.56H451.55V395.26H429.15ZM429.15 397.85H451.55V399.55H429.15ZM429.15 402.14H451.55V403.84H429.15ZM429.15 406.43H451.55V408.13H429.15ZM429.15 410.73H451.55V412.43H429.15ZM429.15 415.02H451.55V416.72H429.15ZM429.15 419.31H451.55V421.01H429.15ZM429.15 423.60H451.55V425.30H429.15ZM429.15 427.90H451.55V429.60H429.15ZM429.15 432.19H451.55V433.89H429.15ZM429.15 436.48H451.55V438.18H429.15ZM429.15 440.77H451.55V442.48H429.15ZM429.15 445.07H451.55V446.77H429.15ZM429.15 449.36H451.55V451.06H429.15ZM429.15 453.65H451.55V455.35H429.15ZM429.15 457.94H451.55V459.64H429.15ZM429.15 462.24H451.55V463.94H429.15ZM429.15 466.53H451.55V468.23H429.15ZM429.15 470.82H451.55V472.52H429.15ZM429.15 475.11H451.55V476.81H429.15ZM429.15 479.41H451.55V481.11H429.15ZM429.15 483.70H451.55V485.40H429.15ZM429.15 487.99H451.55V489.69H429.15ZM429.15 492.28H451.55V493.99H429.15ZM429.15 496.58H451.55V498.28H429.15ZM429.15 500.87H451.55V502.57H429.15ZM429.15 505.16H451.55V506.86H429.15ZM429.15 509.45H451.55V511.15H429.15ZM429.15 513.75H451.55V515.45H429.15ZM429.15 518.04H451.55V519.74H429.15ZM429.15 522.33H451.55V524.03H429.15ZM429.15 526.62H451.55V528.32H429.15ZM429.15 530.92H451.55V532.62H429.15ZM429.15 535.21H451.55V536.91H429.15ZM429.15 539.50H451.55V541.20H429.15ZM429.15 543.79H451.55V545.50H429.15ZM429.15 548.09H451.55V549.79H429.15ZM429.15 552.38H451.55V554.08H429.15ZM429.15 556.67H451.55V558.37H429.15ZM429.15 560.97H451.55V562.67H429.15ZM429.15 565.26H451.55V566.96H429.15ZM429.15 569.55H451.55V571.25H429.15ZM429.15 573.84H451.55V575.54H429.15ZM429.15 578.13H451.55V579.83H429.15ZM429.15 582.43H451.55V584.13H429.15ZM429.15 586.72H451.55V588.42H429.15ZM429.15 591.01H451.55V592.71H429.15ZM429.15 595.30H451.55V597.00H429.15ZM429.15 599.60H451.55V601.30H429.15ZM429.15 603.89H451.55V605.59H429.15ZM429.15 608.18H451.55V609.88H429.15ZM429.15 612.48H451.55V614.18H429.15ZM429.15 616.77H451.55V618.47H429.15ZM429.15 295.68H429.45V299.97H429.15ZM438.00 295.68H439.50V299.97H438.00ZM448.05 295.68H449.55V299.97H448.05ZM433.70 299.97H435.20V304.26H433.70ZM443.75 299.97H445.25V304.26H443.75ZM429.15 304.26H429.45V308.56H429.15ZM438.00 304.26H439.50V308.56H438.00ZM448.05 304.26H449.55V308.56H448.05ZM433.70 308.56H435.20V312.85H433.70ZM443.75 308.56H445.25V312.85H443.75ZM429.15 312.85H429.45V317.14H429.15ZM438.00 312.85H439.50V317.14H438.00ZM448.05 312.85H449.55V317.14H448.05ZM433.70 317.14H435.20V321.43H433.70ZM443.75 317.14H445.25V321.43H443.75ZM429.15 321.43H429.45V325.73H429.15ZM438.00 321.43H439.50V325.73H438.00ZM448.05 321.43H449.55V325.73H448.05ZM433.70 325.73H435.20V330.02H433.70ZM443.75 325.73H445.25V330.02H443.75ZM429.15 330.02H429.45V334.31H429.15ZM438.00 330.02H439.50V334.31H438.00ZM448.05 330.02H449.55V334.31H448.05ZM433.70 334.31H435.20V338.60H433.70ZM443.75 334.31H445.25V338.60H443.75ZM429.15 338.60H429.45V342.90H429.15ZM438.00 338.60H439.50V342.90H438.00ZM448.05 338.60H449.55V342.90H448.05ZM433.70 342.90H435.20V347.19H433.70ZM443.75 342.90H445.25V347.19H443.75ZM429.15 347.19H429.45V351.48H429.15ZM438.00 347.19H439.50V351.48H438.00ZM448.05 347.19H449.55V351.48H448.05ZM433.70 351.48H435.20V355.77H433.70ZM443.75 351.48H445.25V355.77H443.75ZM429.15 355.77H429.45V360.07H429.15ZM438.00 355.77H439.50V360.07H438.00ZM448.05 355.77H449.55V360.07H448.05ZM433.70 360.07H435.20V364.36H433.70ZM443.75 360.07H445.25V364.36H443.75ZM429.15 364.36H429.45V368.65H429.15ZM438.00 364.36H439.50V368.65H438.00ZM448.05 364.36H449.55V368.65H448.05ZM433.70 368.65H435.20V372.94H433.70ZM443.75 368.65H445.25V372.94H443.75ZM429.15 372.94H429.45V377.24H429.15ZM438.00 372.94H439.50V377.24H438.00ZM448.05 372.94H449.55V377.24H448.05ZM433.70 377.24H435.20V381.53H433.70ZM443.75 377.24H445.25V381.53H443.75ZM429.15 381.53H429.45V385.82H429.15ZM438.00 381.53H439.50V385.82H438.00ZM448.05 381.53H449.55V385.82H448.05ZM433.70 385.82H435.20V390.12H433.70ZM443.75 385.82H445.25V390.12H443.75ZM429.15 390.11H429.45V394.41H429.15ZM438.00 390.11H439.50V394.41H438.00ZM448.05 390.11H449.55V394.41H448.05ZM433.70 394.41H435.20V398.70H433.70ZM443.75 394.41H445.25V398.70H443.75ZM429.15 398.70H429.45V402.99H429.15ZM438.00 398.70H439.50V402.99H438.00ZM448.05 398.70H449.55V402.99H448.05ZM433.70 402.99H435.20V407.28H433.70ZM443.75 402.99H445.25V407.28H443.75ZM429.15 407.28H429.45V411.58H429.15ZM438.00 407.28H439.50V411.58H438.00ZM448.05 407.28H449.55V411.58H448.05ZM433.70 411.58H435.20V415.87H433.70ZM443.75 411.58H445.25V415.87H443.75ZM429.15 415.87H429.45V420.16H429.15ZM438.00 415.87H439.50V420.16H438.00ZM448.05 415.87H449.55V420.16H448.05ZM433.70 420.16H435.20V424.45H433.70ZM443.75 420.16H445.25V424.45H443.75ZM429.15 424.45H429.45V428.75H429.15ZM438.00 424.45H439.50V428.75H438.00ZM448.05 424.45H449.55V428.75H448.05ZM433.70 428.75H435.20V433.04H433.70ZM443.75 428.75H445.25V433.04H443.75ZM429.15 433.04H429.45V437.33H429.15ZM438.00 433.04H439.50V437.33H438.00ZM448.05 433.04H449.55V437.33H448.05ZM433.70 437.33H435.20V441.62H433.70ZM443.75 437.33H445.25V441.62H443.75ZM429.15 441.62H429.45V445.92H429.15ZM438.00 441.62H439.50V445.92H438.00ZM448.05 441.62H449.55V445.92H448.05ZM433.70 445.92H435.20V450.21H433.70ZM443.75 445.92H445.25V450.21H443.75ZM429.15 450.21H429.45V454.50H429.15ZM438.00 450.21H439.50V454.50H438.00ZM448.05 450.21H449.55V454.50H448.05ZM433.70 454.50H435.20V458.79H433.70ZM443.75 454.50H445.25V458.79H443.75ZM429.15 458.79H429.45V463.09H429.15ZM438.00 458.79H439.50V463.09H438.00ZM448.05 458.79H449.55V463.09H448.05ZM433.70 463.09H435.20V467.38H433.70ZM443.75 463.09H445.25V467.38H443.75ZM429.15 467.38H429.45V471.67H429.15ZM438.00 467.38H439.50V471.67H438.00ZM448.05 467.38H449.55V471.67H448.05ZM433.70 471.67H435.20V475.96H433.70ZM443.75 471.67H445.25V475.96H443.75ZM429.15 475.96H429.45V480.26H429.15ZM438.00 475.96H439.50V480.26H438.00ZM448.05 475.96H449.55V480.26H448.05ZM433.70 480.26H435.20V484.55H433.70ZM443.75 480.26H445.25V484.55H443.75ZM429.15 484.55H429.45V488.84H429.15ZM438.00 484.55H439.50V488.84H438.00ZM448.05 484.55H449.55V488.84H448.05ZM433.70 488.84H435.20V493.13H433.70ZM443.75 488.84H445.25V493.13H443.75ZM429.15 493.13H429.45V497.43H429.15ZM438.00 493.13H439.50V497.43H438.00ZM448.05 493.13H449.55V497.43H448.05ZM433.70 497.43H435.20V501.72H433.70ZM443.75 497.43H445.25V501.72H443.75ZM429.15 501.72H429.45V506.01H429.15ZM438.00 501.72H439.50V506.01H438.00ZM448.05 501.72H449.55V506.01H448.05ZM433.70 506.01H435.20V510.30H433.70ZM443.75 506.01H445.25V510.30H443.75ZM429.15 510.30H429.45V514.60H429.15ZM438.00 510.30H439.50V514.60H438.00ZM448.05 510.30H449.55V514.60H448.05ZM433.70 514.60H435.20V518.89H433.70ZM443.75 514.60H445.25V518.89H443.75ZM429.15 518.89H429.45V523.18H429.15ZM438.00 518.89H439.50V523.18H438.00ZM448.05 518.89H449.55V523.18H448.05ZM433.70 523.18H435.20V527.48H433.70ZM443.75 523.18H445.25V527.48H443.75ZM429.15 527.47H429.45V531.77H429.15ZM438.00 527.47H439.50V531.77H438.00ZM448.05 527.47H449.55V531.77H448.05ZM433.70 531.77H435.20V536.06H433.70ZM443.75 531.77H445.25V536.06H443.75ZM429.15 536.06H429.45V540.35H429.15ZM438.00 536.06H439.50V540.35H438.00ZM448.05 536.06H449.55V540.35H448.05ZM433.70 540.35H435.20V544.64H433.70ZM443.75 540.35H445.25V544.64H443.75ZM429.15 544.64H429.45V548.94H429.15ZM438.00 544.64H439.50V548.94H438.00ZM448.05 544.64H449.55V548.94H448.05ZM433.70 548.94H435.20V553.23H433.70ZM443.75 548.94H445.25V553.23H443.75ZM429.15 553.23H429.45V557.52H429.15ZM438.00 553.23H439.50V557.52H438.00ZM448.05 553.23H449.55V557.52H448.05ZM433.70 557.52H435.20V561.82H433.70ZM443.75 557.52H445.25V561.82H443.75ZM429.15 561.82H429.45V566.11H429.15ZM438.00 561.82H439.50V566.11H438.00ZM448.05 561.82H449.55V566.11H448.05ZM433.70 566.11H435.20V570.40H433.70ZM443.75 566.11H445.25V570.40H443.75ZM429.15 570.40H429.45V574.69H429.15ZM438.00 570.40H439.50V574.69H438.00ZM448.05 570.40H449.55V574.69H448.05ZM433.70 574.69H435.20V578.99H433.70ZM443.75 574.69H445.25V578.99H443.75ZM429.15 578.98H429.45V583.28H429.15ZM438.00 578.98H439.50V583.28H438.00ZM448.05 578.98H449.55V583.28H448.05ZM433.70 583.28H435.20V587.57H433.70ZM443.75 583.28H445.25V587.57H443.75ZM429.15 587.57H429.45V591.86H429.15ZM438.00 587.57H439.50V591.86H438.00ZM448.05 587.57H449.55V591.86H448.05ZM433.70 591.86H435.20V596.15H433.70ZM443.75 591.86H445.25V596.15H443.75ZM429.15 596.15H429.45V600.45H429.15ZM438.00 596.15H439.50V600.45H438.00ZM448.05 596.15H449.55V600.45H448.05ZM433.70 600.45H435.20V604.74H433.70ZM443.75 600.45H445.25V604.74H443.75ZM429.15 604.74H429.45V609.03H429.15ZM438.00 604.74H439.50V609.03H438.00ZM448.05 604.74H449.55V609.03H448.05ZM433.70 609.03H435.20V613.33H433.70ZM443.75 609.03H445.25V613.33H443.75ZM429.15 613.33H429.45V617.62H429.15ZM438.00 613.33H439.50V617.62H438.00ZM448.05 613.33H449.55V617.62H448.05ZM433.70 617.62H435.20V619.10H433.70ZM443.75 617.62H445.25V619.10H443.75Z"/></g>
<g fill="#8a8af8"><rect x="432.65" y="283.10" width="15.4" height="2.9"/><rect x="438.80" y="283.10" width="3.1" height="11.30"/></g>
<clipPath id="hc0"><rect x="503.80" y="183.30" width="26.20" height="435.80"/></clipPath><path fill="rgba(210,0,0,0.773)" d="M501.70 619.10V181.30H532.10V619.10H528.10V185.30H505.70V619.10Z"/><path clip-path="url(#hc0)" stroke="rgba(210,0,0,0.773)" stroke-width="4.9" stroke-linecap="round" fill="none" d="M505.00 164.55L528.80 188.35M505.00 178.88L528.80 202.68M505.00 193.21L528.80 217.01M505.00 207.54L528.80 231.34M505.00 221.87L528.80 245.67M505.00 236.20L528.80 260.00M505.00 250.53L528.80 274.33M505.00 264.86L528.80 288.66M505.00 279.19L528.80 302.99M505.00 293.52L528.80 317.32M505.00 307.85L528.80 331.65M505.00 322.18L528.80 345.98M505.00 336.51L528.80 360.31M505.00 350.84L528.80 374.64M505.00 365.17L528.80 388.97M505.00 379.50L528.80 403.30M505.00 393.83L528.80 417.63M505.00 408.16L528.80 431.96M505.00 422.49L528.80 446.29M505.00 436.82L528.80 460.62M505.00 451.15L528.80 474.95M505.00 465.48L528.80 489.28M505.00 479.81L528.80 503.61M505.00 494.14L528.80 517.94M505.00 508.47L528.80 532.27M505.00 522.80L528.80 546.60M505.00 537.13L528.80 560.93M505.00 551.46L528.80 575.26M505.00 565.79L528.80 589.59M505.00 580.12L528.80 603.92M505.00 594.45L528.80 618.25M505.00 608.78L528.80 632.58M505.00 623.11L528.80 646.91"/>
<g fill="#dc3a3a"><rect x="509.20" y="173.20" width="15.4" height="2.9"/><rect x="515.35" y="173.20" width="3.1" height="9.10"/></g>
<clipPath id="hc1"><rect x="549.95" y="187.15" width="26.20" height="431.95"/></clipPath><path fill="rgba(210,0,0,0.773)" d="M547.85 619.10V185.15H578.25V619.10H574.25V189.15H551.85V619.10Z"/><path clip-path="url(#hc1)" stroke="rgba(210,0,0,0.773)" stroke-width="4.9" stroke-linecap="round" fill="none" d="M551.15 164.55L574.95 188.35M551.15 178.88L574.95 202.68M551.15 193.21L574.95 217.01M551.15 207.54L574.95 231.34M551.15 221.87L574.95 245.67M551.15 236.20L574.95 260.00M551.15 250.53L574.95 274.33M551.15 264.86L574.95 288.66M551.15 279.19L574.95 302.99M551.15 293.52L574.95 317.32M551.15 307.85L574.95 331.65M551.15 322.18L574.95 345.98M551.15 336.51L574.95 360.31M551.15 350.84L574.95 374.64M551.15 365.17L574.95 388.97M551.15 379.50L574.95 403.30M551.15 393.83L574.95 417.63M551.15 408.16L574.95 431.96M551.15 422.49L574.95 446.29M551.15 436.82L574.95 460.62M551.15 451.15L574.95 474.95M551.15 465.48L574.95 489.28M551.15 479.81L574.95 503.61M551.15 494.14L574.95 517.94M551.15 508.47L574.95 532.27M551.15 522.80L574.95 546.60M551.15 537.13L574.95 560.93M551.15 551.46L574.95 575.26M551.15 565.79L574.95 589.59M551.15 580.12L574.95 603.92M551.15 594.45L574.95 618.25M551.15 608.78L574.95 632.58M551.15 623.11L574.95 646.91"/>
<g fill="#dc3a3a"><rect x="555.35" y="180.05" width="15.4" height="2.9"/><rect x="561.50" y="180.05" width="3.1" height="6.10"/></g>
<clipPath id="hc2"><rect x="596.10" y="195.05" width="26.20" height="424.05"/></clipPath><path fill="rgba(210,0,0,0.773)" d="M594.00 619.10V193.05H624.40V619.10H620.40V197.05H598.00V619.10Z"/><path clip-path="url(#hc2)" stroke="rgba(210,0,0,0.773)" stroke-width="4.9" stroke-linecap="round" fill="none" d="M597.30 164.55L621.10 188.35M597.30 178.88L621.10 202.68M597.30 193.21L621.10 217.01M597.30 207.54L621.10 231.34M597.30 221.87L621.10 245.67M597.30 236.20L621.10 260.00M597.30 250.53L621.10 274.33M597.30 264.86L621.10 288.66M597.30 279.19L621.10 302.99M597.30 293.52L621.10 317.32M597.30 307.85L621.10 331.65M597.30 322.18L621.10 345.98M597.30 336.51L621.10 360.31M597.30 350.84L621.10 374.64M597.30 365.17L621.10 388.97M597.30 379.50L621.10 403.30M597.30 393.83L621.10 417.63M597.30 408.16L621.10 431.96M597.30 422.49L621.10 446.29M597.30 436.82L621.10 460.62M597.30 451.15L621.10 474.95M597.30 465.48L621.10 489.28M597.30 479.81L621.10 503.61M597.30 494.14L621.10 517.94M597.30 508.47L621.10 532.27M597.30 522.80L621.10 546.60M597.30 537.13L621.10 560.93M597.30 551.46L621.10 575.26M597.30 565.79L621.10 589.59M597.30 580.12L621.10 603.92M597.30 594.45L621.10 618.25M597.30 608.78L621.10 632.58M597.30 623.11L621.10 646.91"/>
<g fill="#dc3a3a"><rect x="601.50" y="187.10" width="15.4" height="2.9"/><rect x="607.65" y="187.10" width="3.1" height="6.95"/></g>
<clipPath id="hc3"><rect x="642.25" y="198.10" width="26.20" height="421.00"/></clipPath><path fill="rgba(210,0,0,0.773)" d="M640.15 619.10V196.10H670.55V619.10H666.55V200.10H644.15V619.10Z"/><path clip-path="url(#hc3)" stroke="rgba(210,0,0,0.773)" stroke-width="4.9" stroke-linecap="round" fill="none" d="M643.45 178.88L667.25 202.68M643.45 193.21L667.25 217.01M643.45 207.54L667.25 231.34M643.45 221.87L667.25 245.67M643.45 236.20L667.25 260.00M643.45 250.53L667.25 274.33M643.45 264.86L667.25 288.66M643.45 279.19L667.25 302.99M643.45 293.52L667.25 317.32M643.45 307.85L667.25 331.65M643.45 322.18L667.25 345.98M643.45 336.51L667.25 360.31M643.45 350.84L667.25 374.64M643.45 365.17L667.25 388.97M643.45 379.50L667.25 403.30M643.45 393.83L667.25 417.63M643.45 408.16L667.25 431.96M643.45 422.49L667.25 446.29M643.45 436.82L667.25 460.62M643.45 451.15L667.25 474.95M643.45 465.48L667.25 489.28M643.45 479.81L667.25 503.61M643.45 494.14L667.25 517.94M643.45 508.47L667.25 532.27M643.45 522.80L667.25 546.60M643.45 537.13L667.25 560.93M643.45 551.46L667.25 575.26M643.45 565.79L667.25 589.59M643.45 580.12L667.25 603.92M643.45 594.45L667.25 618.25M643.45 608.78L667.25 632.58M643.45 623.11L667.25 646.91"/>
<g fill="#dc3a3a"><rect x="647.65" y="192.00" width="15.4" height="2.9"/><rect x="653.80" y="192.00" width="3.1" height="5.10"/></g>
<clipPath id="hc4"><rect x="688.40" y="216.40" width="26.20" height="402.70"/></clipPath><path fill="rgba(210,0,0,0.773)" d="M686.30 619.10V214.40H716.70V619.10H712.70V218.40H690.30V619.10Z"/><path clip-path="url(#hc4)" stroke="rgba(210,0,0,0.773)" stroke-width="4.9" stroke-linecap="round" fill="none" d="M689.60 193.21L713.40 217.01M689.60 207.54L713.40 231.34M689.60 221.87L713.40 245.67M689.60 236.20L713.40 260.00M689.60 250.53L713.40 274.33M689.60 264.86L713.40 288.66M689.60 279.19L713.40 302.99M689.60 293.52L713.40 317.32M689.60 307.85L713.40 331.65M689.60 322.18L713.40 345.98M689.60 336.51L713.40 360.31M689.60 350.84L713.40 374.64M689.60 365.17L713.40 388.97M689.60 379.50L713.40 403.30M689.60 393.83L713.40 417.63M689.60 408.16L713.40 431.96M689.60 422.49L713.40 446.29M689.60 436.82L713.40 460.62M689.60 451.15L713.40 474.95M689.60 465.48L713.40 489.28M689.60 479.81L713.40 503.61M689.60 494.14L713.40 517.94M689.60 508.47L713.40 532.27M689.60 522.80L713.40 546.60M689.60 537.13L713.40 560.93M689.60 551.46L713.40 575.26M689.60 565.79L713.40 589.59M689.60 580.12L713.40 603.92M689.60 594.45L713.40 618.25M689.60 608.78L713.40 632.58M689.60 623.11L713.40 646.91"/>
<g fill="#dc3a3a"><rect x="693.80" y="209.00" width="15.4" height="2.9"/><rect x="699.95" y="209.00" width="3.1" height="6.40"/></g>
<clipPath id="hc5"><rect x="734.55" y="221.30" width="26.20" height="397.80"/></clipPath><path fill="rgba(210,0,0,0.773)" d="M732.45 619.10V219.30H762.85V619.10H758.85V223.30H736.45V619.10Z"/><path clip-path="url(#hc5)" stroke="rgba(210,0,0,0.773)" stroke-width="4.9" stroke-linecap="round" fill="none" d="M735.75 193.21L759.55 217.01M735.75 207.54L759.55 231.34M735.75 221.87L759.55 245.67M735.75 236.20L759.55 260.00M735.75 250.53L759.55 274.33M735.75 264.86L759.55 288.66M735.75 279.19L759.55 302.99M735.75 293.52L759.55 317.32M735.75 307.85L759.55 331.65M735.75 322.18L759.55 345.98M735.75 336.51L759.55 360.31M735.75 350.84L759.55 374.64M735.75 365.17L759.55 388.97M735.75 379.50L759.55 403.30M735.75 393.83L759.55 417.63M735.75 408.16L759.55 431.96M735.75 422.49L759.55 446.29M735.75 436.82L759.55 460.62M735.75 451.15L759.55 474.95M735.75 465.48L759.55 489.28M735.75 479.81L759.55 503.61M735.75 494.14L759.55 517.94M735.75 508.47L759.55 532.27M735.75 522.80L759.55 546.60M735.75 537.13L759.55 560.93M735.75 551.46L759.55 575.26M735.75 565.79L759.55 589.59M735.75 580.12L759.55 603.92M735.75 594.45L759.55 618.25M735.75 608.78L759.55 632.58M735.75 623.11L759.55 646.91"/>
<g fill="#dc3a3a"><rect x="739.95" y="214.40" width="15.4" height="2.9"/><rect x="746.10" y="214.40" width="3.1" height="5.90"/></g>
<clipPath id="hc6"><rect x="780.70" y="260.15" width="26.20" height="358.95"/></clipPath><path fill="rgba(210,0,0,0.773)" d="M778.60 619.10V258.15H809.00V619.10H805.00V262.15H782.60V619.10Z"/><path clip-path="url(#hc6)" stroke="rgba(210,0,0,0.773)" stroke-width="4.9" stroke-linecap="round" fill="none" d="M781.90 236.20L805.70 260.00M781.90 250.53L805.70 274.33M781.90 264.86L805.70 288.66M781.90 279.19L805.70 302.99M781.90 293.52L805.70 317.32M781.90 307.85L805.70 331.65M781.90 322.18L805.70 345.98M781.90 336.51L805.70 360.31M781.90 350.84L805.70 374.64M781.90 365.17L805.70 388.97M781.90 379.50L805.70 403.30M781.90 393.83L805.70 417.63M781.90 408.16L805.70 431.96M781.90 422.49L805.70 446.29M781.90 436.82L805.70 460.62M781.90 451.15L805.70 474.95M781.90 465.48L805.70 489.28M781.90 479.81L805.70 503.61M781.90 494.14L805.70 517.94M781.90 508.47L805.70 532.27M781.90 522.80L805.70 546.60M781.90 537.13L805.70 560.93M781.90 551.46L805.70 575.26M781.90 565.79L805.70 589.59M781.90 580.12L805.70 603.92M781.90 594.45L805.70 618.25M781.90 608.78L805.70 632.58M781.90 623.11L805.70 646.91"/>
<g fill="#dc3a3a"><rect x="786.10" y="252.20" width="15.4" height="2.9"/><rect x="792.25" y="252.20" width="3.1" height="6.95"/></g>
<clipPath id="hc7"><rect x="826.85" y="276.70" width="26.20" height="342.40"/></clipPath><path fill="rgba(210,0,0,0.773)" d="M824.75 619.10V274.70H855.15V619.10H851.15V278.70H828.75V619.10Z"/><path clip-path="url(#hc7)" stroke="rgba(210,0,0,0.773)" stroke-width="4.9" stroke-linecap="round" fill="none" d="M828.05 250.53L851.85 274.33M828.05 264.86L851.85 288.66M828.05 279.19L851.85 302.99M828.05 293.52L851.85 317.32M828.05 307.85L851.85 331.65M828.05 322.18L851.85 345.98M828.05 336.51L851.85 360.31M828.05 350.84L851.85 374.64M828.05 365.17L851.85 388.97M828.05 379.50L851.85 403.30M828.05 393.83L851.85 417.63M828.05 408.16L851.85 431.96M828.05 422.49L851.85 446.29M828.05 436.82L851.85 460.62M828.05 451.15L851.85 474.95M828.05 465.48L851.85 489.28M828.05 479.81L851.85 503.61M828.05 494.14L851.85 517.94M828.05 508.47L851.85 532.27M828.05 522.80L851.85 546.60M828.05 537.13L851.85 560.93M828.05 551.46L851.85 575.26M828.05 565.79L851.85 589.59M828.05 580.12L851.85 603.92M828.05 594.45L851.85 618.25M828.05 608.78L851.85 632.58M828.05 623.11L851.85 646.91"/>
<g fill="#dc3a3a"><rect x="832.25" y="270.10" width="15.4" height="2.9"/><rect x="838.40" y="270.10" width="3.1" height="5.60"/></g>
<text class="b" x="301.50" y="214.30" font-size="20" text-anchor="middle">*</text>
<text class="b" x="347.80" y="219.20" font-size="20" text-anchor="middle">*</text>
<text class="b" x="394.15" y="260.85" font-size="20" text-anchor="middle">*</text>
<text class="b" x="439.70" y="279.25" font-size="20" text-anchor="middle">*</text>
<text class="b" x="702.60" y="206.80" font-size="20" text-anchor="middle">*</text>
<text class="b" x="747.40" y="214.65" font-size="20" text-anchor="middle">*</text>
<text class="b" x="793.70" y="246.65" font-size="20" text-anchor="middle">*</text>
<text class="b" x="840.00" y="268.70" font-size="20" text-anchor="middle">*</text>
<text class="b" font-size="21.5" text-anchor="end" stroke="#000" stroke-width="0.15" transform="translate(124.50,653.70) rotate(-45)">1μg/mL</text>
<text class="b" font-size="21.5" text-anchor="end" stroke="#000" stroke-width="0.15" transform="translate(170.65,653.70) rotate(-45)">5μg/mL</text>
<text class="b" font-size="21.5" text-anchor="end" stroke="#000" stroke-width="0.15" transform="translate(216.80,653.70) rotate(-45)">10μg/mL</text>
<text class="b" font-size="21.5" text-anchor="end" stroke="#000" stroke-width="0.15" transform="translate(262.95,653.70) rotate(-45)">25μg/mL</text>
<text class="b" font-size="21.5" text-anchor="end" stroke="#000" stroke-width="0.15" transform="translate(309.10,653.70) rotate(-45)">50μg/mL</text>
<text class="b" font-size="21.5" text-anchor="end" stroke="#000" stroke-width="0.15" transform="translate(355.25,653.70) rotate(-45)">100μg/mL</text>
<text class="b" font-size="21.5" text-anchor="end" stroke="#000" stroke-width="0.15" transform="translate(401.40,653.70) rotate(-45)">150μg/mL</text>
<text class="b" font-size="21.5" text-anchor="end" stroke="#000" stroke-width="0.15" transform="translate(447.55,653.70) rotate(-45)">200μg/mL</text>
<text class="b" font-size="21.5" text-anchor="end" stroke="#000" stroke-width="0.15" transform="translate(524.10,653.70) rotate(-45)">1μg/mL</text>
<text class="b" font-size="21.5" text-anchor="end" stroke="#000" stroke-width="0.15" transform="translate(570.25,653.70) rotate(-45)">5μg/mL</text>
<text class="b" font-size="21.5" text-anchor="end" stroke="#000" stroke-width="0.15" transform="translate(616.40,653.70) rotate(-45)">10μg/mL</text>
<text class="b" font-size="21.5" text-anchor="end" stroke="#000" stroke-width="0.15" transform="translate(662.55,653.70) rotate(-45)">25μg/mL</text>
<text class="b" font-size="21.5" text-anchor="end" stroke="#000" stroke-width="0.15" transform="translate(708.70,653.70) rotate(-45)">50μg/mL</text>
<text class="b" font-size="21.5" text-anchor="end" stroke="#000" stroke-width="0.15" transform="translate(754.85,653.70) rotate(-45)">100μg/mL</text>
<text class="b" font-size="21.5" text-anchor="end" stroke="#000" stroke-width="0.15" transform="translate(801.00,653.70) rotate(-45)">150μg/mL</text>
<text class="b" font-size="21.5" text-anchor="end" stroke="#000" stroke-width="0.15" transform="translate(847.15,653.70) rotate(-45)">200μg/mL</text>
<rect x="669" y="105.9" width="30.4" height="12.2" fill="#8a8af8"/>
<path d="M673 110.1h8.8v1.8h-8.8zM683.2 110.1h8.7v1.8h-8.7zM693.6 110.1h1.4v1.8h-1.4z" fill="#fff"/>
<path d="M673 112.9h4.2v1.2h-4.2zM679.2 112.9h8.1v1.2h-8.1zM689 112.9h5.9v1.2h-5.9z" fill="#fff" opacity="0.85"/>
<clipPath id="hcL"><rect x="671.10" y="146.50" width="26.20" height="8.00"/></clipPath><path fill="rgba(210,0,0,0.773)" fill-rule="evenodd" d="M669.00 144.30H699.40V156.70H669.00Z M673.00 148.30V152.70H695.40V148.30Z"/><path clip-path="url(#hcL)" stroke="rgba(210,0,0,0.773)" stroke-width="4.9" stroke-linecap="round" fill="none" d="M672.30 127.37L696.10 151.17M672.30 141.70L696.10 165.50M672.30 156.03L696.10 179.83"/>
<text class="s" font-size="24.6" transform="translate(0,120.6) scale(0.75,1)"><tspan x="953.54 972.10 987.25 1001.71" y="0">mPEG</tspan><tspan x="1016.42" y="-3.2" textLength="20.00" lengthAdjust="spacingAndGlyphs">-</tspan><tspan x="1035.41 1050.56 1065.02 1080.85" y="0">PLGA</tspan></text>
<text class="s" font-size="24.6" transform="translate(0,159.1) scale(0.75,1)"><tspan x="956.26 971.40" y="0">TC</tspan><tspan x="985.43" y="-3.2" textLength="20.00" lengthAdjust="spacingAndGlyphs">-</tspan><tspan x="1001.69 1020.25 1035.40 1049.86" y="0">mPEG</tspan><tspan x="1064.57" y="-3.2" textLength="20.00" lengthAdjust="spacingAndGlyphs">-</tspan><tspan x="1083.55 1098.70 1113.17 1128.99" y="0">PLGA</tspan></text>
<text class="s b" font-size="23.4" text-anchor="middle" transform="translate(1059.0,70) scale(1,1.08)">Free AS</text>
<text class="s b" font-size="23.4" text-anchor="middle" transform="translate(1363.6,70) scale(1,1.08)">mPEG-PLGA/AS</text>
<text class="s b" font-size="23.4" text-anchor="middle" transform="translate(1636.2,70) scale(1,1.08)">TC-mPEG-PLGA/AS</text>
<g transform="translate(946.2,89.0)">
<rect width="252.6" height="201.6" fill="#000014"/>
<clipPath id="cp00"><rect width="252.6" height="201.6"/></clipPath>
<g clip-path="url(#cp00)"><g>
<ellipse cx="179.4" cy="6.0" rx="5.0" ry="5.9" fill="url(#g000060)" transform="rotate(150 179.4 6.0)"/><ellipse cx="220.4" cy="7.7" rx="5.0" ry="5.9" fill="url(#g00009e)" transform="rotate(0 220.4 7.7)"/><ellipse cx="149.2" cy="13.1" rx="5.0" ry="5.9" fill="url(#g000060)" transform="rotate(90 149.2 13.1)"/><ellipse cx="224.5" cy="18.6" rx="5.0" ry="5.9" fill="url(#g00009e)" transform="rotate(120 224.5 18.6)"/><ellipse cx="123.2" cy="17.8" rx="5.0" ry="5.9" fill="url(#g000060)" transform="rotate(60 123.2 17.8)"/><ellipse cx="172.5" cy="22.5" rx="5.0" ry="5.9" fill="url(#g00009e)" transform="rotate(90 172.5 22.5)"/><ellipse cx="158.8" cy="28.2" rx="5.0" ry="5.9" fill="url(#g00009e)" transform="rotate(150 158.8 28.2)"/><ellipse cx="144.3" cy="26.0" rx="5.0" ry="5.9" fill="url(#g000060)" transform="rotate(40 144.3 26.0)"/><ellipse cx="216.3" cy="26.0" rx="5.0" ry="5.9" fill="url(#g000060)" transform="rotate(120 216.3 26.0)"/><ellipse cx="182.1" cy="35.0" rx="5.0" ry="5.9" fill="url(#g0404de)" transform="rotate(20 182.1 35.0)"/><ellipse cx="215.0" cy="32.9" rx="5.0" ry="5.9" fill="url(#g00009e)" transform="rotate(150 215.0 32.9)"/><ellipse cx="230.0" cy="39.7" rx="5.0" ry="5.9" fill="url(#g000060)" transform="rotate(90 230.0 39.7)"/><ellipse cx="127.3" cy="41.1" rx="5.0" ry="5.9" fill="url(#g000060)" transform="rotate(40 127.3 41.1)"/><ellipse cx="149.2" cy="41.1" rx="5.0" ry="5.9" fill="url(#g000060)" transform="rotate(40 149.2 41.1)"/><ellipse cx="95.8" cy="43.8" rx="5.0" ry="5.9" fill="url(#g00009e)" transform="rotate(120 95.8 43.8)"/><ellipse cx="202.6" cy="43.8" rx="5.0" ry="5.9" fill="url(#g000060)" transform="rotate(20 202.6 43.8)"/><ellipse cx="134.2" cy="47.1" rx="5.0" ry="5.9" fill="url(#g000060)" transform="rotate(150 134.2 47.1)"/><ellipse cx="144.6" cy="49.3" rx="5.0" ry="5.9" fill="url(#g000060)" transform="rotate(40 144.6 49.3)"/><ellipse cx="24.6" cy="50.7" rx="5.0" ry="5.9" fill="url(#g000060)" transform="rotate(40 24.6 50.7)"/><ellipse cx="32.9" cy="54.8" rx="5.0" ry="5.9" fill="url(#g000060)" transform="rotate(60 32.9 54.8)"/><ellipse cx="62.4" cy="54.2" rx="5.0" ry="5.9" fill="url(#g00009e)" transform="rotate(20 62.4 54.2)"/><ellipse cx="238.2" cy="54.8" rx="5.0" ry="5.9" fill="url(#g0404de)" transform="rotate(60 238.2 54.8)"/><ellipse cx="141.0" cy="57.0" rx="5.0" ry="5.9" fill="url(#g00009e)" transform="rotate(120 141.0 57.0)"/><ellipse cx="183.5" cy="56.1" rx="5.0" ry="5.9" fill="url(#g00009e)" transform="rotate(120 183.5 56.1)"/><ellipse cx="190.3" cy="60.8" rx="5.0" ry="5.9" fill="url(#g00009e)" transform="rotate(0 190.3 60.8)"/><ellipse cx="198.5" cy="63.0" rx="5.0" ry="5.9" fill="url(#g0404de)" transform="rotate(170 198.5 63.0)"/><ellipse cx="167.0" cy="59.7" rx="5.0" ry="5.9" fill="url(#g000060)" transform="rotate(120 167.0 59.7)"/><ellipse cx="105.4" cy="58.9" rx="5.0" ry="5.9" fill="url(#g000060)" transform="rotate(0 105.4 58.9)"/><ellipse cx="212.2" cy="56.1" rx="5.0" ry="5.9" fill="url(#g000060)" transform="rotate(150 212.2 56.1)"/><ellipse cx="7.7" cy="65.2" rx="5.0" ry="5.9" fill="url(#g000060)" transform="rotate(0 7.7 65.2)"/><ellipse cx="64.9" cy="65.7" rx="5.0" ry="5.9" fill="url(#g00009e)" transform="rotate(0 64.9 65.7)"/><ellipse cx="115.8" cy="65.7" rx="5.0" ry="5.9" fill="url(#g000060)" transform="rotate(40 115.8 65.7)"/><ellipse cx="32.3" cy="66.5" rx="5.0" ry="5.9" fill="url(#g000060)" transform="rotate(40 32.3 66.5)"/><ellipse cx="180.7" cy="66.5" rx="5.0" ry="5.9" fill="url(#g000060)" transform="rotate(90 180.7 66.5)"/><ellipse cx="238.2" cy="67.1" rx="5.0" ry="5.9" fill="url(#g000060)" transform="rotate(20 238.2 67.1)"/><ellipse cx="245.1" cy="65.7" rx="5.0" ry="5.9" fill="url(#g000060)" transform="rotate(150 245.1 65.7)"/><ellipse cx="43.8" cy="73.4" rx="5.0" ry="5.9" fill="url(#g000060)" transform="rotate(20 43.8 73.4)"/><ellipse cx="79.4" cy="71.7" rx="5.0" ry="5.9" fill="url(#g00009e)" transform="rotate(40 79.4 71.7)"/><ellipse cx="72.6" cy="73.9" rx="5.0" ry="5.9" fill="url(#g000060)" transform="rotate(150 72.6 73.9)"/><ellipse cx="215.0" cy="71.7" rx="5.0" ry="5.9" fill="url(#g000060)" transform="rotate(60 215.0 71.7)"/><ellipse cx="57.5" cy="80.8" rx="5.0" ry="5.9" fill="url(#g0404de)" transform="rotate(120 57.5 80.8)"/><ellipse cx="164.3" cy="74.5" rx="3.4" ry="3.4" fill="url(#g0404de)"/><ellipse cx="136.9" cy="76.7" rx="5.0" ry="5.9" fill="url(#g000060)" transform="rotate(60 136.9 76.7)"/><ellipse cx="118.6" cy="80.2" rx="5.0" ry="5.9" fill="url(#g00009e)" transform="rotate(20 118.6 80.2)"/><ellipse cx="175.2" cy="80.8" rx="5.0" ry="5.9" fill="url(#g000060)" transform="rotate(170 175.2 80.8)"/><ellipse cx="232.7" cy="80.8" rx="5.0" ry="5.9" fill="url(#g000060)" transform="rotate(60 232.7 80.8)"/><ellipse cx="50.1" cy="83.5" rx="5.0" ry="5.9" fill="url(#g000060)" transform="rotate(40 50.1 83.5)"/><ellipse cx="35.0" cy="83.0" rx="5.0" ry="5.9" fill="url(#g000060)" transform="rotate(90 35.0 83.0)"/><ellipse cx="91.7" cy="82.1" rx="5.0" ry="5.9" fill="url(#g000060)" transform="rotate(150 91.7 82.1)"/><ellipse cx="98.0" cy="84.3" rx="5.0" ry="5.9" fill="url(#g00009e)" transform="rotate(40 98.0 84.3)"/><ellipse cx="128.7" cy="87.1" rx="5.0" ry="5.9" fill="url(#g0404de)" transform="rotate(0 128.7 87.1)"/><ellipse cx="145.1" cy="86.3" rx="3.4" ry="3.4" fill="url(#g0404de)"/><ellipse cx="150.1" cy="86.3" rx="5.0" ry="5.9" fill="url(#g00009e)" transform="rotate(90 150.1 86.3)"/><ellipse cx="159.4" cy="86.3" rx="5.0" ry="5.9" fill="url(#g00009e)" transform="rotate(0 159.4 86.3)"/><ellipse cx="104.9" cy="89.8" rx="5.0" ry="5.9" fill="url(#g00009e)" transform="rotate(40 104.9 89.8)"/><ellipse cx="83.5" cy="90.4" rx="5.0" ry="5.9" fill="url(#g00009e)" transform="rotate(60 83.5 90.4)"/><ellipse cx="71.7" cy="89.8" rx="5.0" ry="5.9" fill="url(#g000060)" transform="rotate(120 71.7 89.8)"/><ellipse cx="211.4" cy="88.2" rx="5.0" ry="5.9" fill="url(#g000060)" transform="rotate(120 211.4 88.2)"/><ellipse cx="203.2" cy="96.4" rx="5.0" ry="5.9" fill="url(#g0404de)" transform="rotate(40 203.2 96.4)"/><ellipse cx="73.4" cy="99.1" rx="5.0" ry="5.9" fill="url(#g000060)" transform="rotate(150 73.4 99.1)"/><ellipse cx="111.4" cy="101.9" rx="5.0" ry="5.9" fill="url(#g00009e)" transform="rotate(120 111.4 101.9)"/><ellipse cx="20.5" cy="101.9" rx="5.0" ry="5.9" fill="url(#g000060)" transform="rotate(0 20.5 101.9)"/><ellipse cx="49.3" cy="101.9" rx="5.0" ry="5.9" fill="url(#g000060)" transform="rotate(0 49.3 101.9)"/><ellipse cx="230.0" cy="99.9" rx="5.0" ry="5.9" fill="url(#g000060)" transform="rotate(0 230.0 99.9)"/><ellipse cx="188.9" cy="101.3" rx="5.0" ry="5.9" fill="url(#g000060)" transform="rotate(170 188.9 101.3)"/><ellipse cx="215.0" cy="98.0" rx="5.0" ry="5.9" fill="url(#g000060)" transform="rotate(20 215.0 98.0)"/><ellipse cx="130.1" cy="110.1" rx="5.0" ry="5.9" fill="url(#g0404de)" transform="rotate(150 130.1 110.1)"/><ellipse cx="151.4" cy="111.7" rx="5.0" ry="5.9" fill="url(#g00009e)" transform="rotate(40 151.4 111.7)"/><ellipse cx="8.2" cy="110.9" rx="5.0" ry="5.9" fill="url(#g000060)" transform="rotate(0 8.2 110.9)"/><ellipse cx="45.2" cy="116.4" rx="5.0" ry="5.9" fill="url(#g0404de)" transform="rotate(120 45.2 116.4)"/><ellipse cx="54.8" cy="117.7" rx="5.0" ry="5.9" fill="url(#g00009e)" transform="rotate(60 54.8 117.7)"/><ellipse cx="60.2" cy="112.3" rx="5.0" ry="5.9" fill="url(#g000060)" transform="rotate(20 60.2 112.3)"/><ellipse cx="117.7" cy="114.5" rx="5.0" ry="5.9" fill="url(#g000060)" transform="rotate(170 117.7 114.5)"/><ellipse cx="139.1" cy="117.7" rx="5.0" ry="5.9" fill="url(#g000060)" transform="rotate(0 139.1 117.7)"/><ellipse cx="104.1" cy="120.5" rx="5.0" ry="5.9" fill="url(#g0404de)" transform="rotate(0 104.1 120.5)"/><ellipse cx="185.7" cy="121.3" rx="5.0" ry="5.9" fill="url(#g00009e)" transform="rotate(170 185.7 121.3)"/><ellipse cx="176.1" cy="124.0" rx="3.4" ry="3.4" fill="url(#g0404de)"/><ellipse cx="227.3" cy="116.4" rx="5.0" ry="5.9" fill="url(#g000060)" transform="rotate(150 227.3 116.4)"/><ellipse cx="110.4" cy="126.0" rx="5.0" ry="5.9" fill="url(#g00009e)" transform="rotate(60 110.4 126.0)"/><ellipse cx="72.6" cy="123.2" rx="2.8" ry="2.8" fill="url(#g00009e)"/><ellipse cx="79.4" cy="121.9" rx="2.8" ry="2.8" fill="url(#g00009e)"/><ellipse cx="30.1" cy="124.6" rx="5.0" ry="5.9" fill="url(#g000060)" transform="rotate(40 30.1 124.6)"/><ellipse cx="43.3" cy="128.7" rx="5.0" ry="5.9" fill="url(#g00009e)" transform="rotate(20 43.3 128.7)"/><ellipse cx="57.5" cy="128.7" rx="5.0" ry="5.9" fill="url(#g000060)" transform="rotate(170 57.5 128.7)"/><ellipse cx="147.9" cy="128.7" rx="5.0" ry="5.9" fill="url(#g000060)" transform="rotate(40 147.9 128.7)"/><ellipse cx="161.6" cy="132.8" rx="5.0" ry="5.9" fill="url(#g0404de)" transform="rotate(120 161.6 132.8)"/><ellipse cx="247.8" cy="123.2" rx="5.0" ry="5.9" fill="url(#g00009e)" transform="rotate(60 247.8 123.2)"/><ellipse cx="235.5" cy="124.6" rx="5.0" ry="5.9" fill="url(#g000060)" transform="rotate(60 235.5 124.6)"/><ellipse cx="108.2" cy="135.5" rx="5.0" ry="5.9" fill="url(#g00009e)" transform="rotate(40 108.2 135.5)"/><ellipse cx="65.7" cy="136.9" rx="5.0" ry="5.9" fill="url(#g000060)" transform="rotate(40 65.7 136.9)"/><ellipse cx="139.6" cy="140.2" rx="5.0" ry="5.9" fill="url(#g00009e)" transform="rotate(90 139.6 140.2)"/><ellipse cx="120.5" cy="142.4" rx="5.0" ry="5.9" fill="url(#g00009e)" transform="rotate(40 120.5 142.4)"/><ellipse cx="224.5" cy="136.9" rx="5.0" ry="5.9" fill="url(#g000060)" transform="rotate(20 224.5 136.9)"/><ellipse cx="193.0" cy="142.4" rx="5.0" ry="5.9" fill="url(#g00009e)" transform="rotate(0 193.0 142.4)"/><ellipse cx="50.7" cy="143.8" rx="5.0" ry="5.9" fill="url(#g000060)" transform="rotate(40 50.7 143.8)"/><ellipse cx="34.2" cy="147.9" rx="5.0" ry="5.9" fill="url(#g000060)" transform="rotate(0 34.2 147.9)"/><ellipse cx="72.0" cy="146.5" rx="5.0" ry="5.9" fill="url(#g00009e)" transform="rotate(170 72.0 146.5)"/><ellipse cx="66.5" cy="150.1" rx="3.4" ry="3.4" fill="url(#g0404de)"/><ellipse cx="23.3" cy="146.5" rx="5.0" ry="5.9" fill="url(#g000060)" transform="rotate(20 23.3 146.5)"/><ellipse cx="132.8" cy="150.1" rx="5.0" ry="5.9" fill="url(#g000060)" transform="rotate(90 132.8 150.1)"/><ellipse cx="208.1" cy="146.5" rx="5.0" ry="5.9" fill="url(#g000060)" transform="rotate(150 208.1 146.5)"/><ellipse cx="111.7" cy="153.3" rx="5.0" ry="5.9" fill="url(#g000060)" transform="rotate(20 111.7 153.3)"/><ellipse cx="144.3" cy="153.9" rx="5.0" ry="5.9" fill="url(#g00009e)" transform="rotate(170 144.3 153.9)"/><ellipse cx="156.9" cy="154.7" rx="5.0" ry="5.9" fill="url(#g000060)" transform="rotate(150 156.9 154.7)"/><ellipse cx="73.9" cy="154.7" rx="2.8" ry="2.8" fill="url(#g000060)"/><ellipse cx="8.2" cy="158.8" rx="5.0" ry="5.9" fill="url(#g000060)" transform="rotate(60 8.2 158.8)"/><ellipse cx="15.9" cy="153.3" rx="5.0" ry="5.9" fill="url(#g000060)" transform="rotate(40 15.9 153.3)"/><ellipse cx="90.9" cy="159.4" rx="5.0" ry="5.9" fill="url(#g0404de)" transform="rotate(0 90.9 159.4)"/><ellipse cx="201.3" cy="158.8" rx="5.0" ry="5.9" fill="url(#g0404de)" transform="rotate(120 201.3 158.8)"/><ellipse cx="211.7" cy="158.8" rx="5.0" ry="5.9" fill="url(#g00009e)" transform="rotate(120 211.7 158.8)"/><ellipse cx="234.9" cy="158.3" rx="5.0" ry="5.9" fill="url(#g000060)" transform="rotate(40 234.9 158.3)"/><ellipse cx="130.9" cy="164.3" rx="5.0" ry="5.9" fill="url(#g00009e)" transform="rotate(150 130.9 164.3)"/><ellipse cx="53.9" cy="162.1" rx="5.0" ry="5.9" fill="url(#g000060)" transform="rotate(40 53.9 162.1)"/><ellipse cx="37.8" cy="158.8" rx="5.0" ry="5.9" fill="url(#g000060)" transform="rotate(40 37.8 158.8)"/><ellipse cx="38.3" cy="167.0" rx="5.0" ry="5.9" fill="url(#g000060)" transform="rotate(60 38.3 167.0)"/><ellipse cx="68.5" cy="170.3" rx="5.0" ry="5.9" fill="url(#g00009e)" transform="rotate(150 68.5 170.3)"/><ellipse cx="94.5" cy="169.8" rx="5.0" ry="5.9" fill="url(#g000060)" transform="rotate(150 94.5 169.8)"/><ellipse cx="126.8" cy="171.1" rx="5.0" ry="5.9" fill="url(#g00009e)" transform="rotate(120 126.8 171.1)"/><ellipse cx="193.0" cy="170.3" rx="5.0" ry="5.9" fill="url(#g00009e)" transform="rotate(20 193.0 170.3)"/><ellipse cx="215.0" cy="171.1" rx="5.0" ry="5.9" fill="url(#g000060)" transform="rotate(20 215.0 171.1)"/><ellipse cx="156.1" cy="173.1" rx="5.0" ry="5.9" fill="url(#g000060)" transform="rotate(170 156.1 173.1)"/><ellipse cx="20.5" cy="173.9" rx="5.0" ry="5.9" fill="url(#g000060)" transform="rotate(60 20.5 173.9)"/><ellipse cx="44.6" cy="177.4" rx="5.0" ry="5.9" fill="url(#g000060)" transform="rotate(60 44.6 177.4)"/><ellipse cx="55.6" cy="176.6" rx="5.0" ry="5.9" fill="url(#g00009e)" transform="rotate(40 55.6 176.6)"/><ellipse cx="231.4" cy="179.4" rx="5.0" ry="5.9" fill="url(#g000060)" transform="rotate(60 231.4 179.4)"/><ellipse cx="199.9" cy="180.2" rx="5.0" ry="5.9" fill="url(#g00009e)" transform="rotate(120 199.9 180.2)"/><ellipse cx="75.3" cy="182.9" rx="5.0" ry="5.9" fill="url(#g000060)" transform="rotate(90 75.3 182.9)"/><ellipse cx="186.2" cy="182.1" rx="5.0" ry="5.9" fill="url(#g000060)" transform="rotate(40 186.2 182.1)"/><ellipse cx="182.9" cy="186.2" rx="5.0" ry="5.9" fill="url(#g000060)" transform="rotate(0 182.9 186.2)"/><ellipse cx="37.8" cy="184.8" rx="5.0" ry="5.9" fill="url(#g000060)" transform="rotate(90 37.8 184.8)"/><ellipse cx="95.0" cy="188.9" rx="5.0" ry="5.9" fill="url(#g000060)" transform="rotate(150 95.0 188.9)"/><ellipse cx="117.2" cy="187.6" rx="5.0" ry="5.9" fill="url(#g0404de)" transform="rotate(0 117.2 187.6)"/><ellipse cx="140.2" cy="188.9" rx="5.0" ry="5.9" fill="url(#g000060)" transform="rotate(120 140.2 188.9)"/><ellipse cx="161.6" cy="187.0" rx="5.0" ry="5.9" fill="url(#g000060)" transform="rotate(20 161.6 187.0)"/><ellipse cx="153.3" cy="193.0" rx="5.0" ry="5.9" fill="url(#g0404de)" transform="rotate(20 153.3 193.0)"/><ellipse cx="70.6" cy="197.2" rx="5.0" ry="5.9" fill="url(#g00009e)" transform="rotate(40 70.6 197.2)"/><ellipse cx="212.2" cy="191.7" rx="5.0" ry="5.9" fill="url(#g000060)" transform="rotate(120 212.2 191.7)"/><ellipse cx="225.9" cy="194.4" rx="5.0" ry="5.9" fill="url(#g000060)" transform="rotate(0 225.9 194.4)"/><ellipse cx="120.5" cy="198.5" rx="5.0" ry="5.9" fill="url(#g000060)" transform="rotate(90 120.5 198.5)"/><ellipse cx="27.4" cy="195.8" rx="5.0" ry="5.9" fill="url(#g000060)" transform="rotate(170 27.4 195.8)"/><ellipse cx="85.5" cy="40.4" rx="5.0" ry="5.9" fill="url(#g000060)" transform="rotate(120 85.5 40.4)"/><ellipse cx="11.6" cy="47.2" rx="5.0" ry="5.9" fill="url(#g000060)" transform="rotate(150 11.6 47.2)"/><ellipse cx="12.3" cy="40.4" rx="5.0" ry="5.9" fill="url(#g000060)" transform="rotate(90 12.3 40.4)"/><ellipse cx="2.7" cy="56.1" rx="5.0" ry="5.9" fill="url(#g000060)" transform="rotate(170 2.7 56.1)"/><ellipse cx="66.4" cy="71.4" rx="5.0" ry="5.9" fill="url(#g00009e)" transform="rotate(90 66.4 71.4)"/><ellipse cx="108.8" cy="72.5" rx="5.0" ry="5.9" fill="url(#g000060)" transform="rotate(90 108.8 72.5)"/><ellipse cx="4.1" cy="86.5" rx="5.0" ry="5.9" fill="url(#g000060)" transform="rotate(170 4.1 86.5)"/><ellipse cx="22.6" cy="40.4" rx="5.0" ry="5.9" fill="url(#g000060)" transform="rotate(170 22.6 40.4)"/><ellipse cx="182.2" cy="7.1" rx="5.0" ry="5.9" fill="url(#g000060)" transform="rotate(0 182.2 7.1)"/><ellipse cx="137.4" cy="10.9" rx="5.0" ry="5.9" fill="url(#g000060)" transform="rotate(90 137.4 10.9)"/><ellipse cx="143.6" cy="34.9" rx="5.0" ry="5.9" fill="url(#g000060)" transform="rotate(170 143.6 34.9)"/><ellipse cx="198.3" cy="52.7" rx="5.0" ry="5.9" fill="url(#g000060)" transform="rotate(0 198.3 52.7)"/><ellipse cx="193.5" cy="66.4" rx="5.0" ry="5.9" fill="url(#g000060)" transform="rotate(60 193.5 66.4)"/><ellipse cx="181.9" cy="77.3" rx="5.0" ry="5.9" fill="url(#g00009e)" transform="rotate(120 181.9 77.3)"/><ellipse cx="132.0" cy="71.2" rx="5.0" ry="5.9" fill="url(#g000060)" transform="rotate(40 132.0 71.2)"/><ellipse cx="136.1" cy="94.4" rx="5.0" ry="5.9" fill="url(#g000060)" transform="rotate(0 136.1 94.4)"/><ellipse cx="245.1" cy="6.2" rx="5.0" ry="5.9" fill="url(#g00009e)" transform="rotate(20 245.1 6.2)"/><ellipse cx="250.6" cy="15.7" rx="5.0" ry="5.9" fill="url(#g000060)" transform="rotate(0 250.6 15.7)"/><ellipse cx="252.0" cy="29.4" rx="5.0" ry="5.9" fill="url(#g000060)" transform="rotate(20 252.0 29.4)"/><ellipse cx="69.6" cy="114.0" rx="5.0" ry="5.9" fill="url(#g000060)" transform="rotate(60 69.6 114.0)"/><ellipse cx="2.5" cy="131.1" rx="5.0" ry="5.9" fill="url(#g000060)" transform="rotate(150 2.5 131.1)"/><ellipse cx="2.5" cy="140.7" rx="5.0" ry="5.9" fill="url(#g000060)" transform="rotate(170 2.5 140.7)"/><ellipse cx="32.6" cy="138.2" rx="5.0" ry="5.9" fill="url(#g000060)" transform="rotate(40 32.6 138.2)"/><ellipse cx="32.6" cy="172.2" rx="5.0" ry="5.9" fill="url(#g000060)" transform="rotate(90 32.6 172.2)"/><ellipse cx="21.7" cy="194.1" rx="5.0" ry="5.9" fill="url(#g000060)" transform="rotate(120 21.7 194.1)"/><ellipse cx="125.0" cy="129.7" rx="5.0" ry="5.9" fill="url(#g000060)" transform="rotate(60 125.0 129.7)"/><ellipse cx="43.6" cy="157.8" rx="5.0" ry="5.9" fill="url(#g000060)" transform="rotate(90 43.6 157.8)"/><ellipse cx="36.1" cy="155.7" rx="2.8" ry="2.8" fill="url(#g000060)"/><ellipse cx="37.4" cy="161.2" rx="2.8" ry="2.8" fill="url(#g000060)"/><ellipse cx="38.1" cy="192.0" rx="5.0" ry="5.9" fill="url(#g000060)" transform="rotate(20 38.1 192.0)"/><ellipse cx="174.4" cy="129.7" rx="5.0" ry="5.9" fill="url(#g000060)" transform="rotate(90 174.4 129.7)"/><ellipse cx="210.7" cy="111.3" rx="5.0" ry="5.9" fill="url(#g000060)" transform="rotate(120 210.7 111.3)"/><ellipse cx="139.5" cy="126.3" rx="5.0" ry="5.9" fill="url(#g000060)" transform="rotate(0 139.5 126.3)"/><ellipse cx="129.2" cy="156.4" rx="5.0" ry="5.9" fill="url(#g00009e)" transform="rotate(150 129.2 156.4)"/><ellipse cx="251.7" cy="151.0" rx="5.0" ry="5.9" fill="url(#g00009e)" transform="rotate(60 251.7 151.0)"/><ellipse cx="248.3" cy="160.5" rx="5.0" ry="5.9" fill="url(#g000060)" transform="rotate(40 248.3 160.5)"/><ellipse cx="246.9" cy="169.4" rx="5.0" ry="5.9" fill="url(#g000060)" transform="rotate(20 246.9 169.4)"/><ellipse cx="251.7" cy="181.1" rx="5.0" ry="5.9" fill="url(#g000060)" transform="rotate(40 251.7 181.1)"/><ellipse cx="139.5" cy="201.6" rx="5.0" ry="5.9" fill="url(#g000060)" transform="rotate(90 139.5 201.6)"/><ellipse cx="197.0" cy="200.2" rx="5.0" ry="5.9" fill="url(#g000060)" transform="rotate(60 197.0 200.2)"/>
</g></g>
<rect x="0.6" y="0.6" width="251.4" height="200.4" fill="none" stroke="#000" stroke-width="1.2"/>
<rect x="0.3" y="0.3" width="118.5" height="38.0" fill="#fff" stroke="#111" stroke-width="1.2"/>
<text class="s" font-size="23.4" transform="translate(9.9,28.2) scale(1.014,1.11)">0.1 μg/mL</text>
</g>
<g transform="translate(1234.3,89.0)">
<rect width="252.6" height="201.6" fill="#010016"/>
<clipPath id="cp01"><rect width="252.6" height="201.6"/></clipPath>
<g clip-path="url(#cp01)"><g>
<ellipse cx="135" cy="95" rx="60" ry="45" fill="url(#rg1)"/>
<ellipse cx="167.6" cy="4.1" rx="5.5" ry="6.5" fill="url(#g0000b2)" transform="rotate(150 167.6 4.1)"/><ellipse cx="160.2" cy="15.9" rx="4.6" ry="5.5" fill="url(#g0606ec)" transform="rotate(0 160.2 15.9)"/><ellipse cx="166.5" cy="15.1" rx="5.5" ry="6.5" fill="url(#g0000b2)" transform="rotate(90 166.5 15.1)"/><ellipse cx="179.9" cy="26.6" rx="5.5" ry="6.5" fill="url(#g4c10b4)" transform="rotate(120 179.9 26.6)"/><ellipse cx="126.0" cy="36.4" rx="5.5" ry="6.5" fill="url(#g78107c)" transform="rotate(60 126.0 36.4)"/><ellipse cx="12.3" cy="45.2" rx="5.5" ry="6.5" fill="url(#g000068)" transform="rotate(90 12.3 45.2)"/><ellipse cx="71.2" cy="41.1" rx="5.5" ry="6.5" fill="url(#g000068)" transform="rotate(150 71.2 41.1)"/><ellipse cx="75.3" cy="50.1" rx="5.5" ry="6.5" fill="url(#g0000b2)" transform="rotate(40 75.3 50.1)"/><ellipse cx="52.0" cy="55.6" rx="5.5" ry="6.5" fill="url(#g30006c)" transform="rotate(120 52.0 55.6)"/><ellipse cx="108.2" cy="56.1" rx="5.5" ry="6.5" fill="url(#g0000b2)" transform="rotate(20 108.2 56.1)"/><ellipse cx="134.2" cy="52.8" rx="5.5" ry="6.5" fill="url(#g4c10b4)" transform="rotate(150 134.2 52.8)"/><ellipse cx="170.3" cy="46.0" rx="6.6" ry="7.5" fill="url(#g6a24ee)" transform="rotate(90 170.3 46.0)"/><ellipse cx="182.9" cy="50.7" rx="5.5" ry="6.5" fill="url(#g78107c)" transform="rotate(40 182.9 50.7)"/><ellipse cx="197.2" cy="45.7" rx="5.5" ry="6.5" fill="url(#g0000b2)" transform="rotate(40 197.2 45.7)"/><ellipse cx="215.8" cy="52.0" rx="5.5" ry="6.5" fill="url(#g0000b2)" transform="rotate(120 215.8 52.0)"/><ellipse cx="4.1" cy="59.7" rx="5.5" ry="6.5" fill="url(#g000068)" transform="rotate(20 4.1 59.7)"/><ellipse cx="172.0" cy="65.2" rx="5.5" ry="6.5" fill="url(#g78107c)" transform="rotate(150 172.0 65.2)"/><ellipse cx="201.3" cy="69.3" rx="5.5" ry="6.5" fill="url(#g4c10b4)" transform="rotate(40 201.3 69.3)"/><ellipse cx="30.7" cy="69.8" rx="5.5" ry="6.5" fill="url(#g0000b2)" transform="rotate(40 30.7 69.8)"/><ellipse cx="23.3" cy="76.1" rx="5.5" ry="6.5" fill="url(#g0000b2)" transform="rotate(60 23.3 76.1)"/><ellipse cx="239.6" cy="72.0" rx="6.6" ry="7.5" fill="url(#g0606ec)" transform="rotate(20 239.6 72.0)"/><ellipse cx="222.3" cy="76.7" rx="5.5" ry="6.5" fill="url(#g0000b2)" transform="rotate(60 222.3 76.7)"/><ellipse cx="139.6" cy="74.5" rx="5.5" ry="6.5" fill="url(#g78107c)" transform="rotate(120 139.6 74.5)"/><ellipse cx="196.3" cy="80.8" rx="5.5" ry="6.5" fill="url(#g6a24ee)" transform="rotate(120 196.3 80.8)"/><ellipse cx="6.0" cy="88.2" rx="5.5" ry="6.5" fill="url(#g0000b2)" transform="rotate(0 6.0 88.2)"/><ellipse cx="26.6" cy="89.8" rx="5.5" ry="6.5" fill="url(#g0000b2)" transform="rotate(170 26.6 89.8)"/><ellipse cx="78.0" cy="85.7" rx="5.5" ry="6.5" fill="url(#g0000b2)" transform="rotate(120 78.0 85.7)"/><ellipse cx="88.4" cy="86.8" rx="6.6" ry="7.5" fill="url(#g0606ec)" transform="rotate(0 88.4 86.8)"/><ellipse cx="110.9" cy="86.3" rx="5.5" ry="6.5" fill="url(#g6a24ee)" transform="rotate(150 110.9 86.3)"/><ellipse cx="124.6" cy="85.7" rx="5.5" ry="6.5" fill="url(#g6a24ee)" transform="rotate(0 124.6 85.7)"/><ellipse cx="147.9" cy="87.6" rx="5.5" ry="6.5" fill="url(#g78107c)" transform="rotate(0 147.9 87.6)"/><ellipse cx="100.8" cy="93.9" rx="5.5" ry="6.5" fill="url(#g4c10b4)" transform="rotate(40 100.8 93.9)"/><ellipse cx="139.1" cy="94.5" rx="5.5" ry="6.5" fill="url(#g78107c)" transform="rotate(40 139.1 94.5)"/><ellipse cx="161.0" cy="95.0" rx="5.5" ry="6.5" fill="url(#g6a24ee)" transform="rotate(90 161.0 95.0)"/><ellipse cx="225.9" cy="95.0" rx="5.5" ry="6.5" fill="url(#g0000b2)" transform="rotate(20 225.9 95.0)"/><ellipse cx="137.7" cy="105.4" rx="5.5" ry="6.5" fill="url(#g6a24ee)" transform="rotate(150 137.7 105.4)"/><ellipse cx="3.3" cy="110.4" rx="5.5" ry="6.5" fill="url(#g0000b2)" transform="rotate(20 3.3 110.4)"/><ellipse cx="32.9" cy="109.5" rx="5.5" ry="6.5" fill="url(#g30006c)" transform="rotate(40 32.9 109.5)"/><ellipse cx="44.4" cy="113.1" rx="5.5" ry="6.5" fill="url(#g0000b2)" transform="rotate(150 44.4 113.1)"/><ellipse cx="95.8" cy="110.4" rx="5.5" ry="6.5" fill="url(#g4c10b4)" transform="rotate(60 95.8 110.4)"/><ellipse cx="105.4" cy="120.5" rx="5.5" ry="6.5" fill="url(#g4c10b4)" transform="rotate(120 105.4 120.5)"/><ellipse cx="122.4" cy="117.7" rx="5.5" ry="6.5" fill="url(#g4c10b4)" transform="rotate(0 122.4 117.7)"/><ellipse cx="152.0" cy="118.3" rx="5.5" ry="6.5" fill="url(#g78107c)" transform="rotate(60 152.0 118.3)"/><ellipse cx="239.0" cy="119.1" rx="6.6" ry="7.5" fill="url(#g0606ec)" transform="rotate(20 239.0 119.1)"/><ellipse cx="56.1" cy="131.4" rx="5.5" ry="6.5" fill="url(#g000068)" transform="rotate(170 56.1 131.4)"/><ellipse cx="40.3" cy="141.6" rx="5.5" ry="6.5" fill="url(#g0000b2)" transform="rotate(60 40.3 141.6)"/><ellipse cx="78.6" cy="142.9" rx="5.5" ry="6.5" fill="url(#g78107c)" transform="rotate(40 78.6 142.9)"/><ellipse cx="93.1" cy="150.6" rx="5.5" ry="6.5" fill="url(#g4c10b4)" transform="rotate(90 93.1 150.6)"/><ellipse cx="72.0" cy="156.6" rx="5.5" ry="6.5" fill="url(#g0000b2)" transform="rotate(150 72.0 156.6)"/><ellipse cx="109.0" cy="160.2" rx="5.5" ry="6.5" fill="url(#g78107c)" transform="rotate(40 109.0 160.2)"/><ellipse cx="34.2" cy="162.1" rx="5.5" ry="6.5" fill="url(#g0000b2)" transform="rotate(0 34.2 162.1)"/><ellipse cx="52.0" cy="164.3" rx="5.5" ry="6.5" fill="url(#g0000b2)" transform="rotate(40 52.0 164.3)"/><ellipse cx="134.2" cy="163.5" rx="5.5" ry="6.5" fill="url(#g4c10b4)" transform="rotate(90 134.2 163.5)"/><ellipse cx="213.0" cy="155.5" rx="5.5" ry="6.5" fill="url(#g0000b2)" transform="rotate(0 213.0 155.5)"/><ellipse cx="226.7" cy="162.1" rx="5.5" ry="6.5" fill="url(#g0000b2)" transform="rotate(40 226.7 162.1)"/><ellipse cx="97.2" cy="173.3" rx="5.5" ry="6.5" fill="url(#g4c10b4)" transform="rotate(60 97.2 173.3)"/><ellipse cx="126.8" cy="171.7" rx="5.5" ry="6.5" fill="url(#g0000b2)" transform="rotate(120 126.8 171.7)"/><ellipse cx="57.5" cy="174.4" rx="5.5" ry="6.5" fill="url(#g0000b2)" transform="rotate(120 57.5 174.4)"/><ellipse cx="115.0" cy="177.4" rx="5.5" ry="6.5" fill="url(#g0000b2)" transform="rotate(40 115.0 177.4)"/><ellipse cx="29.6" cy="178.5" rx="5.5" ry="6.5" fill="url(#g0000b2)" transform="rotate(150 29.6 178.5)"/><ellipse cx="103.5" cy="182.6" rx="5.5" ry="6.5" fill="url(#g0000b2)" transform="rotate(120 103.5 182.6)"/><ellipse cx="76.1" cy="185.4" rx="5.5" ry="6.5" fill="url(#g0000b2)" transform="rotate(0 76.1 185.4)"/><ellipse cx="41.6" cy="197.2" rx="5.5" ry="6.5" fill="url(#g0000b2)" transform="rotate(0 41.6 197.2)"/><ellipse cx="172.5" cy="200.4" rx="5.5" ry="6.5" fill="url(#g000068)" transform="rotate(0 172.5 200.4)"/>
</g></g>
<rect x="0.6" y="0.6" width="251.4" height="200.4" fill="none" stroke="#000" stroke-width="1.2"/>
<rect x="0.3" y="0.3" width="118.5" height="38.0" fill="#fff" stroke="#111" stroke-width="1.2"/>
<text class="s" font-size="23.4" transform="translate(9.9,28.2) scale(1.014,1.11)">0.1 μg/mL</text>
</g>
<g transform="translate(1516.3,89.0)">
<rect width="252.6" height="201.6" fill="#140012"/>
<clipPath id="cp02"><rect width="252.6" height="201.6"/></clipPath>
<g clip-path="url(#cp02)"><g>
<g filter="url(#bl)"><circle cx="173" cy="24" r="6.0" fill="#e8107e"/><circle cx="175" cy="21.5" r="2.6" fill="#9030d0" opacity="0.55"/><ellipse cx="77.3" cy="143" rx="4.4" ry="3.6" fill="#cc1850"/><ellipse cx="72.5" cy="145" rx="2.6" ry="2.2" fill="#8a1848"/></g><ellipse cx="130" cy="100" rx="150" ry="120" fill="url(#rg2)"/>
<ellipse cx="58.3" cy="43.8" rx="5.0" ry="5.9" fill="url(#g30088c)" transform="rotate(150 58.3 43.8)"/><ellipse cx="79.4" cy="41.6" rx="5.0" ry="5.9" fill="url(#g22005e)" transform="rotate(0 79.4 41.6)"/><ellipse cx="153.3" cy="51.5" rx="5.0" ry="5.9" fill="url(#g30088c)" transform="rotate(90 153.3 51.5)"/><ellipse cx="191.1" cy="62.4" rx="5.0" ry="5.9" fill="url(#g30088c)" transform="rotate(120 191.1 62.4)"/><ellipse cx="205.9" cy="63.5" rx="2.8" ry="2.8" fill="url(#g440022)"/><ellipse cx="167.6" cy="74.8" rx="5.0" ry="5.9" fill="url(#g30088c)" transform="rotate(90 167.6 74.8)"/><ellipse cx="195.0" cy="76.1" rx="5.0" ry="5.9" fill="url(#g22005e)" transform="rotate(150 195.0 76.1)"/><ellipse cx="124.6" cy="79.4" rx="5.0" ry="5.9" fill="url(#g30088c)" transform="rotate(40 124.6 79.4)"/><ellipse cx="143.2" cy="80.0" rx="5.0" ry="5.9" fill="url(#g560a96)" transform="rotate(120 143.2 80.0)"/><ellipse cx="71.7" cy="84.9" rx="5.0" ry="5.9" fill="url(#g22005e)" transform="rotate(20 71.7 84.9)"/><ellipse cx="15.1" cy="89.5" rx="5.0" ry="5.9" fill="url(#g22005e)" transform="rotate(150 15.1 89.5)"/><ellipse cx="113.6" cy="94.5" rx="5.0" ry="5.9" fill="url(#g22005e)" transform="rotate(90 113.6 94.5)"/><ellipse cx="75.3" cy="99.1" rx="5.0" ry="5.9" fill="url(#g30088c)" transform="rotate(40 75.3 99.1)"/><ellipse cx="90.9" cy="101.9" rx="5.0" ry="5.9" fill="url(#g30088c)" transform="rotate(40 90.9 101.9)"/><ellipse cx="38.3" cy="104.1" rx="5.0" ry="5.9" fill="url(#g22005e)" transform="rotate(120 38.3 104.1)"/><ellipse cx="32.3" cy="107.3" rx="2.8" ry="2.8" fill="url(#g74086a)"/><ellipse cx="19.7" cy="110.4" rx="2.8" ry="2.8" fill="url(#g74086a)"/><ellipse cx="130.6" cy="106.8" rx="5.0" ry="5.9" fill="url(#g560a96)" transform="rotate(40 130.6 106.8)"/><ellipse cx="136.1" cy="110.9" rx="5.0" ry="5.9" fill="url(#g30088c)" transform="rotate(40 136.1 110.9)"/><ellipse cx="110.9" cy="114.5" rx="3.4" ry="3.4" fill="url(#g0404de)"/><ellipse cx="107.6" cy="121.9" rx="3.4" ry="3.4" fill="url(#g0404de)"/><ellipse cx="85.4" cy="121.9" rx="5.0" ry="5.9" fill="url(#g22005e)" transform="rotate(60 85.4 121.9)"/><ellipse cx="76.1" cy="133.4" rx="5.0" ry="5.9" fill="url(#g560a96)" transform="rotate(120 76.1 133.4)"/><ellipse cx="137.7" cy="149.2" rx="5.0" ry="5.9" fill="url(#g480046)" transform="rotate(120 137.7 149.2)"/><ellipse cx="223.7" cy="152.5" rx="5.0" ry="5.9" fill="url(#g30088c)" transform="rotate(0 223.7 152.5)"/><ellipse cx="64.3" cy="156.1" rx="2.8" ry="2.8" fill="url(#g74086a)"/><ellipse cx="150.1" cy="158.0" rx="5.0" ry="5.9" fill="url(#g22005e)" transform="rotate(120 150.1 158.0)"/><ellipse cx="207.3" cy="160.2" rx="5.0" ry="5.9" fill="url(#g30088c)" transform="rotate(0 207.3 160.2)"/><ellipse cx="100.8" cy="161.6" rx="5.0" ry="5.9" fill="url(#g22005e)" transform="rotate(150 100.8 161.6)"/><ellipse cx="195.8" cy="167.0" rx="5.0" ry="5.9" fill="url(#g30088c)" transform="rotate(0 195.8 167.0)"/><ellipse cx="164.3" cy="169.2" rx="5.0" ry="5.9" fill="url(#g30088c)" transform="rotate(0 164.3 169.2)"/><ellipse cx="73.4" cy="170.3" rx="5.0" ry="5.9" fill="url(#g22005e)" transform="rotate(40 73.4 170.3)"/><ellipse cx="53.4" cy="176.6" rx="2.8" ry="2.8" fill="url(#g74086a)"/><ellipse cx="109.0" cy="178.8" rx="5.0" ry="5.9" fill="url(#g30088c)" transform="rotate(90 109.0 178.8)"/><ellipse cx="138.8" cy="180.2" rx="2.8" ry="2.8" fill="url(#g440022)"/><ellipse cx="199.1" cy="195.0" rx="5.0" ry="5.9" fill="url(#g22005e)" transform="rotate(150 199.1 195.0)"/><ellipse cx="241.0" cy="197.2" rx="5.0" ry="5.9" fill="url(#g22005e)" transform="rotate(20 241.0 197.2)"/><ellipse cx="250.5" cy="194.4" rx="5.0" ry="5.9" fill="url(#g22005e)" transform="rotate(40 250.5 194.4)"/>
</g></g>
<rect x="0.6" y="0.6" width="251.4" height="200.4" fill="none" stroke="#000" stroke-width="1.2"/>
<rect x="0.3" y="0.3" width="118.5" height="38.0" fill="#fff" stroke="#111" stroke-width="1.2"/>
<text class="s" font-size="23.4" transform="translate(9.9,28.2) scale(1.014,1.11)">0.1 μg/mL</text>
</g>
<g transform="translate(946.2,311.5)">
<rect width="252.6" height="201.6" fill="#000014"/>
<clipPath id="cp10"><rect width="252.6" height="201.6"/></clipPath>
<g clip-path="url(#cp10)"><g>
<ellipse cx="134.5" cy="3.6" rx="5.0" ry="5.9" fill="url(#g00009e)" transform="rotate(150 134.5 3.6)"/><ellipse cx="123.6" cy="9.1" rx="5.0" ry="5.9" fill="url(#g000060)" transform="rotate(0 123.6 9.1)"/><ellipse cx="152.6" cy="11.0" rx="5.0" ry="5.9" fill="url(#g000060)" transform="rotate(90 152.6 11.0)"/><ellipse cx="185.5" cy="8.5" rx="5.0" ry="5.9" fill="url(#g00009e)" transform="rotate(120 185.5 8.5)"/><ellipse cx="216.7" cy="3.6" rx="5.0" ry="5.9" fill="url(#g000060)" transform="rotate(60 216.7 3.6)"/><ellipse cx="212.0" cy="18.1" rx="5.0" ry="5.9" fill="url(#g00009e)" transform="rotate(90 212.0 18.1)"/><ellipse cx="244.9" cy="15.9" rx="5.0" ry="5.9" fill="url(#g000060)" transform="rotate(150 244.9 15.9)"/><ellipse cx="182.7" cy="28.3" rx="5.0" ry="5.9" fill="url(#g00009e)" transform="rotate(40 182.7 28.3)"/><ellipse cx="238.0" cy="30.2" rx="5.0" ry="5.9" fill="url(#g000060)" transform="rotate(120 238.0 30.2)"/><ellipse cx="127.1" cy="41.4" rx="5.0" ry="5.9" fill="url(#g00009e)" transform="rotate(20 127.1 41.4)"/><ellipse cx="154.0" cy="41.1" rx="5.0" ry="5.9" fill="url(#g00009e)" transform="rotate(150 154.0 41.1)"/><ellipse cx="160.8" cy="43.9" rx="5.0" ry="5.9" fill="url(#g00009e)" transform="rotate(90 160.8 43.9)"/><ellipse cx="175.6" cy="46.6" rx="5.0" ry="5.9" fill="url(#g0404de)" transform="rotate(40 175.6 46.6)"/><ellipse cx="202.4" cy="48.0" rx="5.0" ry="5.9" fill="url(#g00009e)" transform="rotate(40 202.4 48.0)"/><ellipse cx="227.9" cy="49.3" rx="5.0" ry="5.9" fill="url(#g000060)" transform="rotate(120 227.9 49.3)"/><ellipse cx="251.7" cy="52.9" rx="5.0" ry="5.9" fill="url(#g00009e)" transform="rotate(20 251.7 52.9)"/><ellipse cx="21.2" cy="48.0" rx="5.0" ry="5.9" fill="url(#g00009e)" transform="rotate(150 21.2 48.0)"/><ellipse cx="47.7" cy="45.2" rx="5.0" ry="5.9" fill="url(#g00009e)" transform="rotate(40 47.7 45.2)"/><ellipse cx="43.1" cy="53.4" rx="5.0" ry="5.9" fill="url(#g000060)" transform="rotate(40 43.1 53.4)"/><ellipse cx="90.2" cy="52.3" rx="5.0" ry="5.9" fill="url(#g000060)" transform="rotate(60 90.2 52.3)"/><ellipse cx="162.2" cy="55.6" rx="4.2" ry="5.0" fill="url(#g0404de)" transform="rotate(20 162.2 55.6)"/><ellipse cx="207.1" cy="58.4" rx="5.0" ry="5.9" fill="url(#g00009e)" transform="rotate(60 207.1 58.4)"/><ellipse cx="47.7" cy="67.4" rx="5.0" ry="5.9" fill="url(#g000060)" transform="rotate(120 47.7 67.4)"/><ellipse cx="118.1" cy="65.2" rx="5.0" ry="5.9" fill="url(#g00009e)" transform="rotate(120 118.1 65.2)"/><ellipse cx="110.7" cy="68.0" rx="5.0" ry="5.9" fill="url(#g00009e)" transform="rotate(0 110.7 68.0)"/><ellipse cx="129.0" cy="66.0" rx="5.0" ry="5.9" fill="url(#g00009e)" transform="rotate(170 129.0 66.0)"/><ellipse cx="3.1" cy="71.2" rx="5.0" ry="5.9" fill="url(#g00009e)" transform="rotate(120 3.1 71.2)"/><ellipse cx="16.8" cy="77.5" rx="5.0" ry="5.9" fill="url(#g00009e)" transform="rotate(0 16.8 77.5)"/><ellipse cx="66.1" cy="74.8" rx="5.0" ry="5.9" fill="url(#g00009e)" transform="rotate(150 66.1 74.8)"/><ellipse cx="86.1" cy="77.0" rx="5.0" ry="5.9" fill="url(#g00009e)" transform="rotate(0 86.1 77.0)"/><ellipse cx="100.6" cy="78.4" rx="5.0" ry="5.9" fill="url(#g00009e)" transform="rotate(0 100.6 78.4)"/><ellipse cx="229.3" cy="76.7" rx="6.0" ry="6.8" fill="url(#g0404de)" transform="rotate(40 229.3 76.7)"/><ellipse cx="247.6" cy="72.1" rx="5.0" ry="5.9" fill="url(#g00009e)" transform="rotate(40 247.6 72.1)"/><ellipse cx="221.6" cy="68.0" rx="5.0" ry="5.9" fill="url(#g000060)" transform="rotate(90 221.6 68.0)"/><ellipse cx="156.7" cy="82.5" rx="5.0" ry="5.9" fill="url(#g00009e)" transform="rotate(20 156.7 82.5)"/><ellipse cx="166.0" cy="86.3" rx="5.0" ry="5.9" fill="url(#g00009e)" transform="rotate(150 166.0 86.3)"/><ellipse cx="37.3" cy="85.8" rx="5.0" ry="5.9" fill="url(#g0404de)" transform="rotate(20 37.3 85.8)"/><ellipse cx="184.1" cy="88.5" rx="5.0" ry="5.9" fill="url(#g00009e)" transform="rotate(40 184.1 88.5)"/><ellipse cx="219.7" cy="87.7" rx="5.0" ry="5.9" fill="url(#g00009e)" transform="rotate(150 219.7 87.7)"/><ellipse cx="4.7" cy="92.1" rx="5.0" ry="5.9" fill="url(#g00009e)" transform="rotate(60 4.7 92.1)"/><ellipse cx="34.0" cy="95.9" rx="5.0" ry="5.9" fill="url(#g00009e)" transform="rotate(120 34.0 95.9)"/><ellipse cx="90.7" cy="96.7" rx="5.0" ry="5.9" fill="url(#g0404de)" transform="rotate(0 90.7 96.7)"/><ellipse cx="149.9" cy="95.3" rx="5.0" ry="5.9" fill="url(#g00009e)" transform="rotate(60 149.9 95.3)"/><ellipse cx="161.4" cy="99.4" rx="5.0" ry="5.9" fill="url(#g000060)" transform="rotate(20 161.4 99.4)"/><ellipse cx="210.1" cy="99.4" rx="5.0" ry="5.9" fill="url(#g00009e)" transform="rotate(170 210.1 99.4)"/><ellipse cx="58.7" cy="102.7" rx="5.0" ry="5.9" fill="url(#g00009e)" transform="rotate(60 58.7 102.7)"/><ellipse cx="160.0" cy="106.8" rx="5.0" ry="5.9" fill="url(#g00009e)" transform="rotate(40 160.0 106.8)"/><ellipse cx="241.3" cy="105.7" rx="5.0" ry="5.9" fill="url(#g00009e)" transform="rotate(90 241.3 105.7)"/><ellipse cx="34.6" cy="109.6" rx="5.0" ry="5.9" fill="url(#g00009e)" transform="rotate(150 34.6 109.6)"/><ellipse cx="75.1" cy="111.8" rx="5.0" ry="5.9" fill="url(#g0404de)" transform="rotate(40 75.1 111.8)"/><ellipse cx="234.7" cy="113.1" rx="5.0" ry="5.9" fill="url(#g000060)" transform="rotate(0 234.7 113.1)"/><ellipse cx="80.0" cy="119.4" rx="5.0" ry="5.9" fill="url(#g00009e)" transform="rotate(40 80.0 119.4)"/><ellipse cx="161.4" cy="120.0" rx="5.0" ry="5.9" fill="url(#g00009e)" transform="rotate(90 161.4 120.0)"/><ellipse cx="181.1" cy="123.5" rx="5.0" ry="5.9" fill="url(#g00009e)" transform="rotate(0 181.1 123.5)"/><ellipse cx="191.5" cy="124.1" rx="5.0" ry="5.9" fill="url(#g000060)" transform="rotate(40 191.5 124.1)"/><ellipse cx="221.0" cy="124.1" rx="5.0" ry="5.9" fill="url(#g00009e)" transform="rotate(60 221.0 124.1)"/><ellipse cx="29.4" cy="127.6" rx="5.0" ry="5.9" fill="url(#g000060)" transform="rotate(120 29.4 127.6)"/><ellipse cx="44.4" cy="129.6" rx="5.0" ry="5.9" fill="url(#g00009e)" transform="rotate(120 44.4 129.6)"/><ellipse cx="108.0" cy="129.6" rx="6.0" ry="6.8" fill="url(#g0404de)" transform="rotate(40 108.0 129.6)"/><ellipse cx="73.7" cy="131.8" rx="5.0" ry="5.9" fill="url(#g00009e)" transform="rotate(150 73.7 131.8)"/><ellipse cx="4.7" cy="134.5" rx="5.0" ry="5.9" fill="url(#g00009e)" transform="rotate(120 4.7 134.5)"/><ellipse cx="177.0" cy="134.5" rx="6.0" ry="6.8" fill="url(#g0404de)" transform="rotate(0 177.0 134.5)"/><ellipse cx="207.4" cy="134.5" rx="5.0" ry="5.9" fill="url(#g0404de)" transform="rotate(0 207.4 134.5)"/><ellipse cx="75.6" cy="141.3" rx="5.0" ry="5.9" fill="url(#g00009e)" transform="rotate(0 75.6 141.3)"/><ellipse cx="166.8" cy="141.9" rx="5.0" ry="5.9" fill="url(#g00009e)" transform="rotate(170 166.8 141.9)"/><ellipse cx="186.8" cy="142.4" rx="5.0" ry="5.9" fill="url(#g00009e)" transform="rotate(20 186.8 142.4)"/><ellipse cx="141.6" cy="144.6" rx="5.0" ry="5.9" fill="url(#g00009e)" transform="rotate(150 141.6 144.6)"/><ellipse cx="218.9" cy="143.8" rx="5.0" ry="5.9" fill="url(#g00009e)" transform="rotate(40 218.9 143.8)"/><ellipse cx="120.8" cy="146.5" rx="6.0" ry="6.8" fill="url(#g0404de)" transform="rotate(0 120.8 146.5)"/><ellipse cx="41.7" cy="156.1" rx="5.0" ry="5.9" fill="url(#g00009e)" transform="rotate(120 41.7 156.1)"/><ellipse cx="77.3" cy="156.1" rx="5.0" ry="5.9" fill="url(#g0404de)" transform="rotate(60 77.3 156.1)"/><ellipse cx="160.5" cy="156.4" rx="5.0" ry="5.9" fill="url(#g000060)" transform="rotate(20 160.5 156.4)"/><ellipse cx="241.3" cy="157.8" rx="5.0" ry="5.9" fill="url(#g00009e)" transform="rotate(170 241.3 157.8)"/><ellipse cx="100.6" cy="163.0" rx="5.0" ry="5.9" fill="url(#g0404de)" transform="rotate(0 100.6 163.0)"/><ellipse cx="14.0" cy="164.6" rx="5.0" ry="5.9" fill="url(#g00009e)" transform="rotate(0 14.0 164.6)"/><ellipse cx="112.1" cy="167.1" rx="5.0" ry="5.9" fill="url(#g00009e)" transform="rotate(170 112.1 167.1)"/><ellipse cx="218.3" cy="164.3" rx="5.0" ry="5.9" fill="url(#g00009e)" transform="rotate(120 218.3 164.3)"/><ellipse cx="230.4" cy="163.0" rx="5.0" ry="5.9" fill="url(#g00009e)" transform="rotate(150 230.4 163.0)"/><ellipse cx="9.4" cy="171.2" rx="5.0" ry="5.9" fill="url(#g000060)" transform="rotate(60 9.4 171.2)"/><ellipse cx="42.2" cy="173.4" rx="5.0" ry="5.9" fill="url(#g00009e)" transform="rotate(120 42.2 173.4)"/><ellipse cx="58.7" cy="172.0" rx="5.0" ry="5.9" fill="url(#g000060)" transform="rotate(20 58.7 172.0)"/><ellipse cx="238.6" cy="172.6" rx="5.0" ry="5.9" fill="url(#g00009e)" transform="rotate(40 238.6 172.6)"/><ellipse cx="72.4" cy="180.8" rx="5.0" ry="5.9" fill="url(#g0404de)" transform="rotate(20 72.4 180.8)"/><ellipse cx="183.8" cy="178.0" rx="5.0" ry="5.9" fill="url(#g000060)" transform="rotate(170 183.8 178.0)"/><ellipse cx="51.8" cy="187.6" rx="5.0" ry="5.9" fill="url(#g00009e)" transform="rotate(40 51.8 187.6)"/><ellipse cx="142.7" cy="187.1" rx="5.0" ry="5.9" fill="url(#g00009e)" transform="rotate(120 142.7 187.1)"/><ellipse cx="154.5" cy="185.7" rx="5.0" ry="5.9" fill="url(#g000060)" transform="rotate(60 154.5 185.7)"/><ellipse cx="199.7" cy="192.0" rx="5.0" ry="5.9" fill="url(#g00009e)" transform="rotate(60 199.7 192.0)"/><ellipse cx="12.1" cy="198.0" rx="5.0" ry="5.9" fill="url(#g0404de)" transform="rotate(40 12.1 198.0)"/><ellipse cx="25.0" cy="198.8" rx="5.0" ry="5.9" fill="url(#g000060)" transform="rotate(40 25.0 198.8)"/><ellipse cx="94.3" cy="198.0" rx="5.0" ry="5.9" fill="url(#g000060)" transform="rotate(90 94.3 198.0)"/><ellipse cx="251.7" cy="195.3" rx="5.0" ry="5.9" fill="url(#g000060)" transform="rotate(40 251.7 195.3)"/>
</g></g>
<rect x="0.6" y="0.6" width="251.4" height="200.4" fill="none" stroke="#000" stroke-width="1.2"/>
<rect x="0.3" y="0.3" width="118.5" height="38.0" fill="#fff" stroke="#111" stroke-width="1.2"/>
<text class="s" font-size="23.4" transform="translate(9.9,28.2) scale(1.014,1.11)">1 μg/mL</text>
</g>
<g transform="translate(1234.3,311.5)">
<rect width="252.6" height="201.6" fill="#0f0019"/>
<clipPath id="cp11"><rect width="252.6" height="201.6"/></clipPath>
<g clip-path="url(#cp11)"><g>
<g fill="url(#hv)"><circle cx="160.5" cy="9.1" r="13"/><circle cx="176.9" cy="11.8" r="13"/><circle cx="197.5" cy="9.9" r="13"/><circle cx="222.1" cy="12.6" r="13"/><circle cx="124.9" cy="12.6" r="13"/><circle cx="233.6" cy="5.0" r="13"/><circle cx="167.3" cy="19.2" r="13"/><circle cx="189.2" cy="16.5" r="13"/><circle cx="212.5" cy="18.1" r="13"/><circle cx="150.1" cy="31.0" r="13"/><circle cx="137.2" cy="33.7" r="13"/><circle cx="161.3" cy="40.6" r="13"/><circle cx="169.2" cy="40.6" r="13"/><circle cx="201.6" cy="37.3" r="13"/><circle cx="241.3" cy="31.8" r="13"/><circle cx="17.3" cy="43.3" r="13"/><circle cx="40.0" cy="40.6" r="13"/><circle cx="51.0" cy="45.5" r="13"/><circle cx="133.9" cy="50.7" r="13"/><circle cx="116.7" cy="53.4" r="13"/><circle cx="95.6" cy="54.3" r="13"/><circle cx="61.9" cy="53.4" r="13"/><circle cx="163.8" cy="58.4" r="13"/><circle cx="217.2" cy="59.2" r="13"/><circle cx="5.2" cy="65.2" r="13"/><circle cx="78.3" cy="66.0" r="13"/><circle cx="96.7" cy="64.7" r="13"/><circle cx="149.0" cy="65.2" r="13"/><circle cx="211.7" cy="70.1" r="13"/><circle cx="222.6" cy="72.1" r="13"/><circle cx="23.6" cy="75.3" r="13"/><circle cx="47.4" cy="69.9" r="13"/><circle cx="135.8" cy="74.8" r="13"/><circle cx="184.3" cy="72.1" r="13"/><circle cx="173.4" cy="77.0" r="13"/><circle cx="174.7" cy="87.7" r="13"/><circle cx="168.2" cy="92.1" r="13"/><circle cx="217.2" cy="87.7" r="13"/><circle cx="52.3" cy="87.7" r="13"/><circle cx="44.1" cy="95.3" r="13"/><circle cx="57.8" cy="93.1" r="13"/><circle cx="68.8" cy="96.7" r="13"/><circle cx="80.5" cy="93.4" r="13"/><circle cx="118.0" cy="96.2" r="13"/><circle cx="147.3" cy="95.9" r="13"/><circle cx="180.5" cy="97.5" r="13"/><circle cx="133.7" cy="102.2" r="13"/><circle cx="26.3" cy="99.4" r="13"/><circle cx="10.7" cy="106.3" r="13"/><circle cx="245.4" cy="104.9" r="13"/><circle cx="225.4" cy="106.3" r="13"/><circle cx="211.1" cy="111.2" r="13"/><circle cx="73.4" cy="112.3" r="13"/><circle cx="187.9" cy="114.0" r="13"/><circle cx="31.0" cy="122.7" r="13"/><circle cx="46.3" cy="125.5" r="13"/><circle cx="233.0" cy="126.8" r="13"/><circle cx="136.4" cy="129.0" r="13"/><circle cx="143.5" cy="129.6" r="13"/><circle cx="120.8" cy="133.1" r="13"/><circle cx="163.2" cy="130.9" r="13"/><circle cx="179.7" cy="129.6" r="13"/><circle cx="20.8" cy="143.3" r="13"/><circle cx="44.7" cy="141.3" r="13"/><circle cx="70.9" cy="144.6" r="13"/><circle cx="112.0" cy="145.4" r="13"/><circle cx="171.4" cy="148.7" r="13"/><circle cx="59.2" cy="153.4" r="13"/><circle cx="48.2" cy="157.8" r="13"/><circle cx="194.2" cy="156.4" r="13"/><circle cx="164.0" cy="159.1" r="13"/><circle cx="71.5" cy="163.8" r="13"/><circle cx="101.1" cy="162.4" r="13"/><circle cx="33.2" cy="167.1" r="13"/><circle cx="216.6" cy="171.5" r="13"/><circle cx="126.8" cy="173.4" r="13"/><circle cx="161.9" cy="173.4" r="13"/><circle cx="93.4" cy="176.1" r="13"/><circle cx="237.2" cy="174.2" r="13"/><circle cx="39.5" cy="180.2" r="13"/><circle cx="186.5" cy="179.4" r="13"/><circle cx="250.8" cy="180.2" r="13"/><circle cx="128.2" cy="185.2" r="13"/><circle cx="244.0" cy="187.1" r="13"/><circle cx="89.3" cy="189.0" r="13"/><circle cx="199.6" cy="190.4" r="13"/><circle cx="215.8" cy="193.1" r="13"/><circle cx="130.9" cy="192.5" r="13"/><circle cx="8.5" cy="198.0" r="13"/><circle cx="167.3" cy="196.7" r="13"/><circle cx="196.9" cy="198.8" r="13"/></g><ellipse cx="160.5" cy="9.1" rx="5.4" ry="6.4" fill="url(#g22005c)" transform="rotate(150 160.5 9.1)"/><ellipse cx="176.9" cy="11.8" rx="5.4" ry="6.4" fill="url(#g22005c)" transform="rotate(0 176.9 11.8)"/><ellipse cx="197.5" cy="9.9" rx="5.4" ry="6.4" fill="url(#g300050)" transform="rotate(90 197.5 9.9)"/><ellipse cx="222.1" cy="12.6" rx="5.4" ry="6.4" fill="url(#g22005c)" transform="rotate(120 222.1 12.6)"/><ellipse cx="124.9" cy="12.6" rx="5.4" ry="6.4" fill="url(#g3c0038)" transform="rotate(60 124.9 12.6)"/><ellipse cx="233.6" cy="5.0" rx="5.4" ry="6.4" fill="url(#g22005c)" transform="rotate(90 233.6 5.0)"/><ellipse cx="167.3" cy="19.2" rx="5.4" ry="6.4" fill="url(#g22005c)" transform="rotate(150 167.3 19.2)"/><ellipse cx="189.2" cy="16.5" rx="5.4" ry="6.4" fill="url(#g300050)" transform="rotate(40 189.2 16.5)"/><ellipse cx="212.5" cy="18.1" rx="5.4" ry="6.4" fill="url(#g22005c)" transform="rotate(120 212.5 18.1)"/><ellipse cx="150.1" cy="31.0" rx="5.4" ry="6.4" fill="url(#g300882)" transform="rotate(20 150.1 31.0)"/><ellipse cx="137.2" cy="33.7" rx="5.4" ry="6.4" fill="url(#g22005c)" transform="rotate(150 137.2 33.7)"/><ellipse cx="161.3" cy="40.6" rx="5.4" ry="6.4" fill="url(#g300882)" transform="rotate(90 161.3 40.6)"/><ellipse cx="169.2" cy="40.6" rx="5.4" ry="6.4" fill="url(#g22005c)" transform="rotate(40 169.2 40.6)"/><ellipse cx="201.6" cy="37.3" rx="5.4" ry="6.4" fill="url(#g300882)" transform="rotate(40 201.6 37.3)"/><ellipse cx="241.3" cy="31.8" rx="5.4" ry="6.4" fill="url(#g22005c)" transform="rotate(120 241.3 31.8)"/><ellipse cx="17.3" cy="43.3" rx="5.4" ry="6.4" fill="url(#g22005c)" transform="rotate(20 17.3 43.3)"/><ellipse cx="40.0" cy="40.6" rx="5.4" ry="6.4" fill="url(#g22005c)" transform="rotate(150 40.0 40.6)"/><ellipse cx="51.0" cy="45.5" rx="5.4" ry="6.4" fill="url(#g300050)" transform="rotate(40 51.0 45.5)"/><ellipse cx="133.9" cy="50.7" rx="5.4" ry="6.4" fill="url(#g22005c)" transform="rotate(40 133.9 50.7)"/><ellipse cx="116.7" cy="53.4" rx="5.4" ry="6.4" fill="url(#g300882)" transform="rotate(60 116.7 53.4)"/><ellipse cx="95.6" cy="54.3" rx="5.4" ry="6.4" fill="url(#g22005c)" transform="rotate(20 95.6 54.3)"/><ellipse cx="61.9" cy="53.4" rx="5.4" ry="6.4" fill="url(#g300050)" transform="rotate(60 61.9 53.4)"/><ellipse cx="163.8" cy="58.4" rx="5.4" ry="6.4" fill="url(#g22005c)" transform="rotate(120 163.8 58.4)"/><ellipse cx="217.2" cy="59.2" rx="5.4" ry="6.4" fill="url(#g22005c)" transform="rotate(120 217.2 59.2)"/><ellipse cx="5.2" cy="65.2" rx="5.4" ry="6.4" fill="url(#g300050)" transform="rotate(0 5.2 65.2)"/><ellipse cx="78.3" cy="66.0" rx="5.4" ry="6.4" fill="url(#g300882)" transform="rotate(170 78.3 66.0)"/><ellipse cx="96.7" cy="64.7" rx="5.4" ry="6.4" fill="url(#g22005c)" transform="rotate(120 96.7 64.7)"/><ellipse cx="149.0" cy="65.2" rx="5.4" ry="6.4" fill="url(#g22005c)" transform="rotate(0 149.0 65.2)"/><ellipse cx="211.7" cy="70.1" rx="4.5" ry="5.4" fill="url(#g48087e)" transform="rotate(150 211.7 70.1)"/><ellipse cx="222.6" cy="72.1" rx="5.4" ry="6.4" fill="url(#g22005c)" transform="rotate(0 222.6 72.1)"/><ellipse cx="23.6" cy="75.3" rx="5.4" ry="6.4" fill="url(#g300050)" transform="rotate(0 23.6 75.3)"/><ellipse cx="47.4" cy="69.9" rx="5.4" ry="6.4" fill="url(#g300050)" transform="rotate(40 47.4 69.9)"/><ellipse cx="135.8" cy="74.8" rx="5.4" ry="6.4" fill="url(#g3c0038)" transform="rotate(40 135.8 74.8)"/><ellipse cx="184.3" cy="72.1" rx="5.4" ry="6.4" fill="url(#g22005c)" transform="rotate(90 184.3 72.1)"/><ellipse cx="173.4" cy="77.0" rx="5.4" ry="6.4" fill="url(#g300882)" transform="rotate(20 173.4 77.0)"/><ellipse cx="159.9" cy="69.9" rx="2.8" ry="2.8" fill="url(#g340018)"/><ellipse cx="174.7" cy="87.7" rx="4.5" ry="5.4" fill="url(#g2000aa)" transform="rotate(20 174.7 87.7)"/><ellipse cx="168.2" cy="92.1" rx="5.4" ry="6.4" fill="url(#g340018)" transform="rotate(40 168.2 92.1)"/><ellipse cx="217.2" cy="87.7" rx="5.4" ry="6.4" fill="url(#g300050)" transform="rotate(150 217.2 87.7)"/><ellipse cx="52.3" cy="87.7" rx="5.4" ry="6.4" fill="url(#g22005c)" transform="rotate(60 52.3 87.7)"/><ellipse cx="44.1" cy="95.3" rx="5.4" ry="6.4" fill="url(#g22005c)" transform="rotate(120 44.1 95.3)"/><ellipse cx="57.8" cy="93.1" rx="5.4" ry="6.4" fill="url(#g3c0038)" transform="rotate(0 57.8 93.1)"/><ellipse cx="68.8" cy="96.7" rx="5.4" ry="6.4" fill="url(#g3c0038)" transform="rotate(60 68.8 96.7)"/><ellipse cx="80.5" cy="93.4" rx="5.4" ry="6.4" fill="url(#g48087e)" transform="rotate(20 80.5 93.4)"/><ellipse cx="118.0" cy="96.2" rx="5.4" ry="6.4" fill="url(#g300050)" transform="rotate(170 118.0 96.2)"/><ellipse cx="147.3" cy="95.9" rx="5.4" ry="6.4" fill="url(#g300882)" transform="rotate(60 147.3 95.9)"/><ellipse cx="180.5" cy="97.5" rx="5.4" ry="6.4" fill="url(#g300050)" transform="rotate(40 180.5 97.5)"/><ellipse cx="133.7" cy="102.2" rx="6.5" ry="7.3" fill="url(#g0404de)" transform="rotate(90 133.7 102.2)"/><ellipse cx="26.3" cy="99.4" rx="5.4" ry="6.4" fill="url(#g300050)" transform="rotate(150 26.3 99.4)"/><ellipse cx="10.7" cy="106.3" rx="5.4" ry="6.4" fill="url(#g300050)" transform="rotate(40 10.7 106.3)"/><ellipse cx="208.4" cy="102.7" rx="3.4" ry="3.4" fill="url(#gff1460)"/><ellipse cx="245.4" cy="104.9" rx="5.4" ry="6.4" fill="url(#g300050)" transform="rotate(40 245.4 104.9)"/><ellipse cx="225.4" cy="106.3" rx="5.4" ry="6.4" fill="url(#g22005c)" transform="rotate(90 225.4 106.3)"/><ellipse cx="211.1" cy="111.2" rx="5.4" ry="6.4" fill="url(#g300050)" transform="rotate(0 211.1 111.2)"/><ellipse cx="73.4" cy="112.3" rx="5.4" ry="6.4" fill="url(#g300050)" transform="rotate(40 73.4 112.3)"/><ellipse cx="187.9" cy="114.0" rx="5.4" ry="6.4" fill="url(#g300050)" transform="rotate(60 187.9 114.0)"/><ellipse cx="31.0" cy="122.7" rx="5.4" ry="6.4" fill="url(#g22005c)" transform="rotate(120 31.0 122.7)"/><ellipse cx="43.3" cy="127.4" rx="3.4" ry="3.4" fill="url(#gff1460)"/><ellipse cx="46.3" cy="125.5" rx="5.4" ry="6.4" fill="url(#g300050)" transform="rotate(40 46.3 125.5)"/><ellipse cx="233.0" cy="126.8" rx="5.4" ry="6.4" fill="url(#g300050)" transform="rotate(150 233.0 126.8)"/><ellipse cx="136.4" cy="129.0" rx="5.4" ry="6.4" fill="url(#g300882)" transform="rotate(120 136.4 129.0)"/><ellipse cx="143.5" cy="129.6" rx="5.4" ry="6.4" fill="url(#g22005c)" transform="rotate(0 143.5 129.6)"/><ellipse cx="120.8" cy="133.1" rx="5.4" ry="6.4" fill="url(#g300882)" transform="rotate(0 120.8 133.1)"/><ellipse cx="163.2" cy="130.9" rx="5.4" ry="6.4" fill="url(#g3c0038)" transform="rotate(0 163.2 130.9)"/><ellipse cx="179.7" cy="129.6" rx="5.4" ry="6.4" fill="url(#g300882)" transform="rotate(170 179.7 129.6)"/><ellipse cx="116.7" cy="140.0" rx="3.4" ry="3.4" fill="url(#gff1460)"/><ellipse cx="20.8" cy="143.3" rx="5.4" ry="6.4" fill="url(#g3c0038)" transform="rotate(150 20.8 143.3)"/><ellipse cx="44.7" cy="141.3" rx="5.4" ry="6.4" fill="url(#g300882)" transform="rotate(40 44.7 141.3)"/><ellipse cx="70.9" cy="144.6" rx="5.4" ry="6.4" fill="url(#g22005c)" transform="rotate(0 70.9 144.6)"/><ellipse cx="112.0" cy="145.4" rx="5.4" ry="6.4" fill="url(#g22005c)" transform="rotate(120 112.0 145.4)"/><ellipse cx="171.4" cy="148.7" rx="5.4" ry="6.4" fill="url(#g22005c)" transform="rotate(60 171.4 148.7)"/><ellipse cx="59.2" cy="153.4" rx="4.5" ry="5.4" fill="url(#g300882)" transform="rotate(20 59.2 153.4)"/><ellipse cx="48.2" cy="157.8" rx="5.4" ry="6.4" fill="url(#g22005c)" transform="rotate(170 48.2 157.8)"/><ellipse cx="194.2" cy="156.4" rx="5.4" ry="6.4" fill="url(#g22005c)" transform="rotate(0 194.2 156.4)"/><ellipse cx="164.0" cy="159.1" rx="5.4" ry="6.4" fill="url(#g300050)" transform="rotate(0 164.0 159.1)"/><ellipse cx="71.5" cy="163.8" rx="5.4" ry="6.4" fill="url(#g22005c)" transform="rotate(170 71.5 163.8)"/><ellipse cx="101.1" cy="162.4" rx="5.4" ry="6.4" fill="url(#g300050)" transform="rotate(120 101.1 162.4)"/><ellipse cx="33.2" cy="167.1" rx="5.4" ry="6.4" fill="url(#g22005c)" transform="rotate(150 33.2 167.1)"/><ellipse cx="216.6" cy="171.5" rx="5.4" ry="6.4" fill="url(#g22005c)" transform="rotate(60 216.6 171.5)"/><ellipse cx="126.8" cy="173.4" rx="5.4" ry="6.4" fill="url(#g300050)" transform="rotate(120 126.8 173.4)"/><ellipse cx="161.9" cy="173.4" rx="5.4" ry="6.4" fill="url(#g300050)" transform="rotate(20 161.9 173.4)"/><ellipse cx="93.4" cy="176.1" rx="5.4" ry="6.4" fill="url(#g22005c)" transform="rotate(40 93.4 176.1)"/><ellipse cx="237.2" cy="174.2" rx="5.4" ry="6.4" fill="url(#g22005c)" transform="rotate(20 237.2 174.2)"/><ellipse cx="39.5" cy="180.2" rx="5.4" ry="6.4" fill="url(#g22005c)" transform="rotate(170 39.5 180.2)"/><ellipse cx="186.5" cy="179.4" rx="5.4" ry="6.4" fill="url(#g22005c)" transform="rotate(40 186.5 179.4)"/><ellipse cx="250.8" cy="180.2" rx="5.4" ry="6.4" fill="url(#g22005c)" transform="rotate(120 250.8 180.2)"/><ellipse cx="128.2" cy="185.2" rx="5.4" ry="6.4" fill="url(#g5a0622)" transform="rotate(60 128.2 185.2)"/><ellipse cx="112.0" cy="187.1" rx="3.4" ry="3.4" fill="url(#gff1460)"/><ellipse cx="110.7" cy="175.6" rx="2.8" ry="2.8" fill="url(#g3c0038)"/><ellipse cx="244.0" cy="187.1" rx="5.4" ry="6.4" fill="url(#g300882)" transform="rotate(40 244.0 187.1)"/><ellipse cx="89.3" cy="189.0" rx="5.4" ry="6.4" fill="url(#g22005c)" transform="rotate(90 89.3 189.0)"/><ellipse cx="199.6" cy="190.4" rx="5.4" ry="6.4" fill="url(#g22005c)" transform="rotate(40 199.6 190.4)"/><ellipse cx="215.8" cy="193.1" rx="5.4" ry="6.4" fill="url(#g22005c)" transform="rotate(20 215.8 193.1)"/><ellipse cx="130.9" cy="192.5" rx="5.4" ry="6.4" fill="url(#g22005c)" transform="rotate(0 130.9 192.5)"/><ellipse cx="8.5" cy="198.0" rx="5.4" ry="6.4" fill="url(#g22005c)" transform="rotate(40 8.5 198.0)"/><ellipse cx="167.3" cy="196.7" rx="5.4" ry="6.4" fill="url(#g22005c)" transform="rotate(0 167.3 196.7)"/><ellipse cx="196.9" cy="198.8" rx="5.4" ry="6.4" fill="url(#g22005c)" transform="rotate(170 196.9 198.8)"/>
</g></g>
<rect x="0.6" y="0.6" width="251.4" height="200.4" fill="none" stroke="#000" stroke-width="1.2"/>
<rect x="0.3" y="0.3" width="118.5" height="38.0" fill="#fff" stroke="#111" stroke-width="1.2"/>
<text class="s" font-size="23.4" transform="translate(9.9,28.2) scale(1.014,1.11)">1 μg/mL</text>
</g>
<g transform="translate(1517.0,313.7)">
<rect width="252.6" height="201.6" fill="#10001a"/>
<clipPath id="cp12"><rect width="252.6" height="201.6"/></clipPath>
<g clip-path="url(#cp12)"><g>
<g fill="url(#hv)"><circle cx="146.9" cy="8.9" r="13"/><circle cx="167.4" cy="5.3" r="13"/><circle cx="201.1" cy="5.3" r="13"/><circle cx="216.7" cy="3.4" r="13"/><circle cx="230.4" cy="17.9" r="13"/><circle cx="177.5" cy="21.8" r="13"/><circle cx="148.2" cy="30.0" r="13"/><circle cx="246.8" cy="34.9" r="13"/><circle cx="173.4" cy="42.6" r="13"/><circle cx="125.5" cy="44.5" r="13"/><circle cx="205.7" cy="45.3" r="13"/><circle cx="66.1" cy="47.2" r="13"/><circle cx="88.8" cy="51.3" r="13"/><circle cx="144.1" cy="54.1" r="13"/><circle cx="123.0" cy="58.2" r="13"/><circle cx="221.3" cy="57.6" r="13"/><circle cx="20.9" cy="57.6" r="13"/><circle cx="14.1" cy="58.2" r="13"/><circle cx="37.3" cy="63.1" r="13"/><circle cx="96.8" cy="64.5" r="13"/><circle cx="108.5" cy="62.3" r="13"/><circle cx="157.8" cy="66.4" r="13"/><circle cx="248.7" cy="65.0" r="13"/><circle cx="3.1" cy="74.6" r="13"/><circle cx="103.1" cy="80.6" r="13"/><circle cx="214.5" cy="77.3" r="13"/><circle cx="237.2" cy="80.1" r="13"/><circle cx="219.4" cy="82.8" r="13"/><circle cx="79.8" cy="77.3" r="13"/><circle cx="41.4" cy="84.7" r="13"/><circle cx="75.7" cy="86.9" r="13"/><circle cx="192.6" cy="90.2" r="13"/><circle cx="92.1" cy="95.1" r="13"/><circle cx="108.5" cy="95.1" r="13"/><circle cx="167.9" cy="95.1" r="13"/><circle cx="219.4" cy="97.1" r="13"/><circle cx="59.2" cy="97.3" r="13"/><circle cx="28.6" cy="102.8" r="13"/><circle cx="144.1" cy="102.8" r="13"/><circle cx="237.2" cy="97.9" r="13"/><circle cx="228.5" cy="110.7" r="13"/><circle cx="44.2" cy="112.9" r="13"/><circle cx="167.4" cy="112.1" r="13"/><circle cx="176.4" cy="112.9" r="13"/><circle cx="70.7" cy="118.4" r="13"/><circle cx="122.2" cy="118.4" r="13"/><circle cx="205.7" cy="117.9" r="13"/><circle cx="188.8" cy="120.6" r="13"/><circle cx="246.3" cy="119.8" r="13"/><circle cx="71.6" cy="127.4" r="13"/><circle cx="209.3" cy="127.4" r="13"/><circle cx="230.4" cy="127.4" r="13"/><circle cx="116.2" cy="129.4" r="13"/><circle cx="131.3" cy="130.7" r="13"/><circle cx="4.5" cy="132.1" r="13"/><circle cx="14.1" cy="128.0" r="13"/><circle cx="141.9" cy="135.4" r="13"/><circle cx="177.0" cy="135.4" r="13"/><circle cx="28.6" cy="137.0" r="13"/><circle cx="158.6" cy="138.1" r="13"/><circle cx="226.8" cy="137.0" r="13"/><circle cx="123.6" cy="143.1" r="13"/><circle cx="208.5" cy="142.5" r="13"/><circle cx="58.4" cy="147.2" r="13"/><circle cx="11.3" cy="147.2" r="13"/><circle cx="36.5" cy="151.3" r="13"/><circle cx="202.2" cy="155.4" r="13"/><circle cx="160.6" cy="155.9" r="13"/><circle cx="27.8" cy="158.1" r="13"/><circle cx="103.6" cy="160.9" r="13"/><circle cx="194.8" cy="158.9" r="13"/><circle cx="215.3" cy="162.2" r="13"/><circle cx="151.8" cy="165.0" r="13"/><circle cx="175.6" cy="165.0" r="13"/><circle cx="86.6" cy="166.9" r="13"/><circle cx="178.9" cy="174.5" r="13"/><circle cx="141.4" cy="178.7" r="13"/><circle cx="220.8" cy="178.7" r="13"/><circle cx="246.8" cy="177.8" r="13"/><circle cx="70.2" cy="180.0" r="13"/><circle cx="88.8" cy="178.7" r="13"/><circle cx="31.3" cy="181.4" r="13"/><circle cx="126.9" cy="182.8" r="13"/><circle cx="186.6" cy="186.9" r="13"/><circle cx="175.6" cy="186.3" r="13"/><circle cx="209.0" cy="188.2" r="13"/><circle cx="153.7" cy="192.3" r="13"/><circle cx="96.2" cy="194.3" r="13"/><circle cx="40.6" cy="196.5" r="13"/><circle cx="220.8" cy="195.1" r="13"/><circle cx="237.8" cy="191.0" r="13"/></g><ellipse cx="146.9" cy="8.9" rx="5.4" ry="6.4" fill="url(#g40003c)" transform="rotate(150 146.9 8.9)"/><ellipse cx="167.4" cy="5.3" rx="5.4" ry="6.4" fill="url(#g240062)" transform="rotate(0 167.4 5.3)"/><ellipse cx="201.1" cy="5.3" rx="5.4" ry="6.4" fill="url(#g320054)" transform="rotate(90 201.1 5.3)"/><ellipse cx="216.7" cy="3.4" rx="5.4" ry="6.4" fill="url(#g00009e)" transform="rotate(120 216.7 3.4)"/><ellipse cx="230.4" cy="17.9" rx="5.4" ry="6.4" fill="url(#g40003c)" transform="rotate(60 230.4 17.9)"/><ellipse cx="177.5" cy="21.8" rx="5.4" ry="6.4" fill="url(#g320054)" transform="rotate(90 177.5 21.8)"/><ellipse cx="148.2" cy="30.0" rx="5.4" ry="6.4" fill="url(#g40003c)" transform="rotate(150 148.2 30.0)"/><ellipse cx="246.8" cy="34.9" rx="5.4" ry="6.4" fill="url(#g40003c)" transform="rotate(40 246.8 34.9)"/><ellipse cx="173.4" cy="42.6" rx="5.4" ry="6.4" fill="url(#g680860)" transform="rotate(120 173.4 42.6)"/><ellipse cx="125.5" cy="44.5" rx="5.4" ry="6.4" fill="url(#g320054)" transform="rotate(20 125.5 44.5)"/><ellipse cx="205.7" cy="45.3" rx="5.4" ry="6.4" fill="url(#g240062)" transform="rotate(150 205.7 45.3)"/><ellipse cx="66.1" cy="47.2" rx="5.4" ry="6.4" fill="url(#g240062)" transform="rotate(90 66.1 47.2)"/><ellipse cx="88.8" cy="51.3" rx="5.4" ry="6.4" fill="url(#g240062)" transform="rotate(40 88.8 51.3)"/><ellipse cx="144.1" cy="54.1" rx="5.4" ry="6.4" fill="url(#g4c0a82)" transform="rotate(40 144.1 54.1)"/><ellipse cx="123.0" cy="58.2" rx="5.4" ry="6.4" fill="url(#g320054)" transform="rotate(120 123.0 58.2)"/><ellipse cx="221.3" cy="57.6" rx="5.4" ry="6.4" fill="url(#g40003c)" transform="rotate(20 221.3 57.6)"/><ellipse cx="20.9" cy="57.6" rx="5.4" ry="6.4" fill="url(#g40003c)" transform="rotate(150 20.9 57.6)"/><ellipse cx="14.1" cy="58.2" rx="5.4" ry="6.4" fill="url(#g320054)" transform="rotate(40 14.1 58.2)"/><ellipse cx="37.3" cy="63.1" rx="5.4" ry="6.4" fill="url(#g40003c)" transform="rotate(40 37.3 63.1)"/><ellipse cx="96.8" cy="64.5" rx="5.4" ry="6.4" fill="url(#g40003c)" transform="rotate(60 96.8 64.5)"/><ellipse cx="108.5" cy="62.3" rx="5.4" ry="6.4" fill="url(#g320054)" transform="rotate(20 108.5 62.3)"/><ellipse cx="157.8" cy="66.4" rx="5.4" ry="6.4" fill="url(#g4c0a82)" transform="rotate(60 157.8 66.4)"/><ellipse cx="201.6" cy="62.3" rx="3.4" ry="3.4" fill="url(#gac1494)"/><ellipse cx="248.7" cy="65.0" rx="5.4" ry="6.4" fill="url(#g320054)" transform="rotate(120 248.7 65.0)"/><ellipse cx="3.1" cy="74.6" rx="5.4" ry="6.4" fill="url(#g40003c)" transform="rotate(0 3.1 74.6)"/><ellipse cx="103.1" cy="80.6" rx="5.4" ry="6.4" fill="url(#g680860)" transform="rotate(170 103.1 80.6)"/><ellipse cx="214.5" cy="77.3" rx="5.4" ry="6.4" fill="url(#g4c0a82)" transform="rotate(120 214.5 77.3)"/><ellipse cx="237.2" cy="80.1" rx="5.4" ry="6.4" fill="url(#g320054)" transform="rotate(0 237.2 80.1)"/><ellipse cx="219.4" cy="82.8" rx="5.4" ry="6.4" fill="url(#g320054)" transform="rotate(150 219.4 82.8)"/><ellipse cx="79.8" cy="77.3" rx="5.4" ry="6.4" fill="url(#g240062)" transform="rotate(0 79.8 77.3)"/><ellipse cx="41.4" cy="84.7" rx="5.4" ry="6.4" fill="url(#g320054)" transform="rotate(0 41.4 84.7)"/><ellipse cx="75.7" cy="86.9" rx="5.4" ry="6.4" fill="url(#g4c0a82)" transform="rotate(40 75.7 86.9)"/><ellipse cx="192.6" cy="90.2" rx="5.4" ry="6.4" fill="url(#g40003c)" transform="rotate(40 192.6 90.2)"/><ellipse cx="92.1" cy="95.1" rx="5.4" ry="6.4" fill="url(#g320054)" transform="rotate(90 92.1 95.1)"/><ellipse cx="108.5" cy="95.1" rx="5.4" ry="6.4" fill="url(#g680860)" transform="rotate(20 108.5 95.1)"/><ellipse cx="29.7" cy="94.3" rx="3.4" ry="3.4" fill="url(#g0404de)"/><ellipse cx="167.9" cy="95.1" rx="5.4" ry="6.4" fill="url(#g34088a)" transform="rotate(20 167.9 95.1)"/><ellipse cx="219.4" cy="97.1" rx="5.4" ry="6.4" fill="url(#g40003c)" transform="rotate(40 219.4 97.1)"/><ellipse cx="59.2" cy="97.3" rx="5.4" ry="6.4" fill="url(#g240062)" transform="rotate(150 59.2 97.3)"/><ellipse cx="28.6" cy="102.8" rx="5.4" ry="6.4" fill="url(#g4c0a82)" transform="rotate(60 28.6 102.8)"/><ellipse cx="144.1" cy="102.8" rx="5.4" ry="6.4" fill="url(#g4c0a82)" transform="rotate(120 144.1 102.8)"/><ellipse cx="237.2" cy="103.4" rx="3.4" ry="3.4" fill="url(#gff1460)"/><ellipse cx="237.2" cy="97.9" rx="5.4" ry="6.4" fill="url(#g40003c)" transform="rotate(60 237.2 97.9)"/><ellipse cx="228.5" cy="110.7" rx="5.4" ry="6.4" fill="url(#g320054)" transform="rotate(20 228.5 110.7)"/><ellipse cx="44.2" cy="112.9" rx="5.4" ry="6.4" fill="url(#g320054)" transform="rotate(170 44.2 112.9)"/><ellipse cx="167.4" cy="112.1" rx="5.4" ry="6.4" fill="url(#g320054)" transform="rotate(60 167.4 112.1)"/><ellipse cx="176.4" cy="112.9" rx="5.4" ry="6.4" fill="url(#g4c0a82)" transform="rotate(40 176.4 112.9)"/><ellipse cx="70.7" cy="118.4" rx="5.4" ry="6.4" fill="url(#g40003c)" transform="rotate(90 70.7 118.4)"/><ellipse cx="122.2" cy="118.4" rx="5.4" ry="6.4" fill="url(#g34088a)" transform="rotate(150 122.2 118.4)"/><ellipse cx="46.1" cy="121.2" rx="3.4" ry="3.4" fill="url(#g7418e0)"/><ellipse cx="205.7" cy="117.9" rx="5.4" ry="6.4" fill="url(#g40003c)" transform="rotate(0 205.7 117.9)"/><ellipse cx="188.8" cy="120.6" rx="5.4" ry="6.4" fill="url(#g34088a)" transform="rotate(40 188.8 120.6)"/><ellipse cx="246.3" cy="119.8" rx="5.4" ry="6.4" fill="url(#g320054)" transform="rotate(90 246.3 119.8)"/><ellipse cx="71.6" cy="127.4" rx="5.4" ry="6.4" fill="url(#g440022)" transform="rotate(0 71.6 127.4)"/><ellipse cx="209.3" cy="127.4" rx="5.4" ry="6.4" fill="url(#g40003c)" transform="rotate(40 209.3 127.4)"/><ellipse cx="230.4" cy="127.4" rx="5.4" ry="6.4" fill="url(#g240062)" transform="rotate(60 230.4 127.4)"/><ellipse cx="116.2" cy="129.4" rx="5.4" ry="6.4" fill="url(#g320054)" transform="rotate(120 116.2 129.4)"/><ellipse cx="131.3" cy="130.7" rx="5.4" ry="6.4" fill="url(#g320054)" transform="rotate(120 131.3 130.7)"/><ellipse cx="4.5" cy="132.1" rx="5.4" ry="6.4" fill="url(#g34088a)" transform="rotate(40 4.5 132.1)"/><ellipse cx="14.1" cy="128.0" rx="5.4" ry="6.4" fill="url(#g240062)" transform="rotate(150 14.1 128.0)"/><ellipse cx="141.9" cy="135.4" rx="5.4" ry="6.4" fill="url(#g320054)" transform="rotate(120 141.9 135.4)"/><ellipse cx="177.0" cy="135.4" rx="5.4" ry="6.4" fill="url(#g240062)" transform="rotate(0 177.0 135.4)"/><ellipse cx="28.6" cy="137.0" rx="5.4" ry="6.4" fill="url(#g320054)" transform="rotate(0 28.6 137.0)"/><ellipse cx="158.6" cy="138.1" rx="5.4" ry="6.4" fill="url(#g40003c)" transform="rotate(0 158.6 138.1)"/><ellipse cx="226.8" cy="137.0" rx="5.4" ry="6.4" fill="url(#g34088a)" transform="rotate(170 226.8 137.0)"/><ellipse cx="123.6" cy="143.1" rx="5.4" ry="6.4" fill="url(#g4c0a82)" transform="rotate(20 123.6 143.1)"/><ellipse cx="208.5" cy="142.5" rx="5.4" ry="6.4" fill="url(#g240062)" transform="rotate(150 208.5 142.5)"/><ellipse cx="58.4" cy="147.2" rx="5.4" ry="6.4" fill="url(#g40003c)" transform="rotate(40 58.4 147.2)"/><ellipse cx="11.3" cy="147.2" rx="5.4" ry="6.4" fill="url(#g320054)" transform="rotate(0 11.3 147.2)"/><ellipse cx="36.5" cy="151.3" rx="5.4" ry="6.4" fill="url(#g320054)" transform="rotate(120 36.5 151.3)"/><ellipse cx="202.2" cy="155.4" rx="5.4" ry="6.4" fill="url(#g40003c)" transform="rotate(60 202.2 155.4)"/><ellipse cx="160.6" cy="155.9" rx="5.4" ry="6.4" fill="url(#g320054)" transform="rotate(20 160.6 155.9)"/><ellipse cx="27.8" cy="158.1" rx="5.4" ry="6.4" fill="url(#g320054)" transform="rotate(170 27.8 158.1)"/><ellipse cx="103.6" cy="160.9" rx="5.4" ry="6.4" fill="url(#g680860)" transform="rotate(0 103.6 160.9)"/><ellipse cx="194.8" cy="158.9" rx="5.4" ry="6.4" fill="url(#g40003c)" transform="rotate(0 194.8 158.9)"/><ellipse cx="215.3" cy="162.2" rx="5.4" ry="6.4" fill="url(#g320054)" transform="rotate(170 215.3 162.2)"/><ellipse cx="151.8" cy="165.0" rx="5.4" ry="6.4" fill="url(#g320054)" transform="rotate(120 151.8 165.0)"/><ellipse cx="175.6" cy="165.0" rx="5.4" ry="6.4" fill="url(#g40003c)" transform="rotate(150 175.6 165.0)"/><ellipse cx="86.6" cy="166.9" rx="5.4" ry="6.4" fill="url(#g440022)" transform="rotate(60 86.6 166.9)"/><ellipse cx="178.9" cy="174.5" rx="5.4" ry="6.4" fill="url(#g320054)" transform="rotate(120 178.9 174.5)"/><ellipse cx="141.4" cy="178.7" rx="5.4" ry="6.4" fill="url(#g320054)" transform="rotate(20 141.4 178.7)"/><ellipse cx="220.8" cy="178.7" rx="5.4" ry="6.4" fill="url(#g240062)" transform="rotate(40 220.8 178.7)"/><ellipse cx="246.8" cy="177.8" rx="5.4" ry="6.4" fill="url(#g240062)" transform="rotate(20 246.8 177.8)"/><ellipse cx="70.2" cy="180.0" rx="5.4" ry="6.4" fill="url(#g40003c)" transform="rotate(170 70.2 180.0)"/><ellipse cx="88.8" cy="178.7" rx="5.4" ry="6.4" fill="url(#g240062)" transform="rotate(40 88.8 178.7)"/><ellipse cx="31.3" cy="181.4" rx="5.4" ry="6.4" fill="url(#g40003c)" transform="rotate(120 31.3 181.4)"/><ellipse cx="126.9" cy="182.8" rx="5.4" ry="6.4" fill="url(#g680860)" transform="rotate(60 126.9 182.8)"/><ellipse cx="186.6" cy="186.9" rx="5.4" ry="6.4" fill="url(#g240062)" transform="rotate(60 186.6 186.9)"/><ellipse cx="175.6" cy="186.3" rx="4.5" ry="5.4" fill="url(#g0404de)" transform="rotate(40 175.6 186.3)"/><ellipse cx="209.0" cy="188.2" rx="5.4" ry="6.4" fill="url(#g240062)" transform="rotate(40 209.0 188.2)"/><ellipse cx="153.7" cy="192.3" rx="5.4" ry="6.4" fill="url(#g40003c)" transform="rotate(90 153.7 192.3)"/><ellipse cx="96.2" cy="194.3" rx="5.4" ry="6.4" fill="url(#g40003c)" transform="rotate(40 96.2 194.3)"/><ellipse cx="40.6" cy="196.5" rx="5.4" ry="6.4" fill="url(#g320054)" transform="rotate(20 40.6 196.5)"/><ellipse cx="220.8" cy="195.1" rx="5.4" ry="6.4" fill="url(#g240062)" transform="rotate(0 220.8 195.1)"/><ellipse cx="237.8" cy="191.0" rx="5.4" ry="6.4" fill="url(#g240062)" transform="rotate(40 237.8 191.0)"/>
</g></g>
<rect x="0.6" y="0.6" width="251.4" height="200.4" fill="none" stroke="#000" stroke-width="1.2"/>
<rect x="0.3" y="0.3" width="118.5" height="38.0" fill="#fff" stroke="#111" stroke-width="1.2"/>
<text class="s" font-size="23.4" transform="translate(11.3,28.2) scale(1.014,1.11)">1 μg/mL</text>
</g>
<g transform="translate(946.2,533.1)">
<rect width="252.6" height="201.6" fill="#000014"/>
<clipPath id="cp20"><rect width="252.6" height="201.6"/></clipPath>
<g clip-path="url(#cp20)"><g>
<ellipse cx="197.8" cy="7.6" rx="5.0" ry="5.9" fill="url(#g00009e)" transform="rotate(150 197.8 7.6)"/><ellipse cx="228.4" cy="19.6" rx="5.0" ry="5.9" fill="url(#g00009e)" transform="rotate(0 228.4 19.6)"/><ellipse cx="243.5" cy="25.9" rx="5.0" ry="5.9" fill="url(#g00009e)" transform="rotate(90 243.5 25.9)"/><ellipse cx="90.2" cy="41.0" rx="5.0" ry="5.9" fill="url(#g00009e)" transform="rotate(120 90.2 41.0)"/><ellipse cx="102.5" cy="41.8" rx="5.0" ry="5.9" fill="url(#g00009e)" transform="rotate(60 102.5 41.8)"/><ellipse cx="171.8" cy="40.4" rx="5.0" ry="5.9" fill="url(#g000060)" transform="rotate(90 171.8 40.4)"/><ellipse cx="182.7" cy="44.3" rx="5.0" ry="5.9" fill="url(#g0404de)" transform="rotate(150 182.7 44.3)"/><ellipse cx="72.4" cy="49.7" rx="5.0" ry="5.9" fill="url(#g0404de)" transform="rotate(40 72.4 49.7)"/><ellipse cx="159.4" cy="54.7" rx="5.0" ry="5.9" fill="url(#g000060)" transform="rotate(120 159.4 54.7)"/><ellipse cx="235.3" cy="55.2" rx="5.0" ry="5.9" fill="url(#g000060)" transform="rotate(20 235.3 55.2)"/><ellipse cx="71.5" cy="59.3" rx="5.0" ry="5.9" fill="url(#g00009e)" transform="rotate(150 71.5 59.3)"/><ellipse cx="14.0" cy="63.4" rx="5.0" ry="5.9" fill="url(#g000060)" transform="rotate(90 14.0 63.4)"/><ellipse cx="147.7" cy="64.2" rx="3.4" ry="3.4" fill="url(#g0404de)"/><ellipse cx="158.1" cy="68.4" rx="3.4" ry="3.4" fill="url(#g0404de)"/><ellipse cx="194.8" cy="69.7" rx="5.0" ry="5.9" fill="url(#g00009e)" transform="rotate(120 194.8 69.7)"/><ellipse cx="115.6" cy="71.9" rx="3.4" ry="3.4" fill="url(#g0404de)"/><ellipse cx="83.3" cy="74.4" rx="5.0" ry="5.9" fill="url(#g00009e)" transform="rotate(150 83.3 74.4)"/><ellipse cx="53.2" cy="74.4" rx="5.0" ry="5.9" fill="url(#g000060)" transform="rotate(40 53.2 74.4)"/><ellipse cx="44.4" cy="82.0" rx="5.0" ry="5.9" fill="url(#g00009e)" transform="rotate(40 44.4 82.0)"/><ellipse cx="52.4" cy="84.8" rx="5.0" ry="5.9" fill="url(#g00009e)" transform="rotate(60 52.4 84.8)"/><ellipse cx="15.4" cy="85.6" rx="5.0" ry="5.9" fill="url(#g0404de)" transform="rotate(20 15.4 85.6)"/><ellipse cx="80.6" cy="88.9" rx="5.0" ry="5.9" fill="url(#g0404de)" transform="rotate(60 80.6 88.9)"/><ellipse cx="109.3" cy="93.8" rx="5.0" ry="5.9" fill="url(#g0404de)" transform="rotate(120 109.3 93.8)"/><ellipse cx="179.2" cy="93.0" rx="5.0" ry="5.9" fill="url(#g0404de)" transform="rotate(120 179.2 93.0)"/><ellipse cx="168.7" cy="95.2" rx="5.0" ry="5.9" fill="url(#g00009e)" transform="rotate(0 168.7 95.2)"/><ellipse cx="229.0" cy="93.0" rx="5.0" ry="5.9" fill="url(#g00009e)" transform="rotate(170 229.0 93.0)"/><ellipse cx="137.5" cy="97.1" rx="5.0" ry="5.9" fill="url(#g00009e)" transform="rotate(120 137.5 97.1)"/><ellipse cx="32.1" cy="95.7" rx="5.0" ry="5.9" fill="url(#g000060)" transform="rotate(0 32.1 95.7)"/><ellipse cx="40.3" cy="99.8" rx="5.0" ry="5.9" fill="url(#g00009e)" transform="rotate(150 40.3 99.8)"/><ellipse cx="67.4" cy="108.9" rx="5.0" ry="5.9" fill="url(#g00009e)" transform="rotate(0 67.4 108.9)"/><ellipse cx="116.2" cy="116.3" rx="5.0" ry="5.9" fill="url(#g000060)" transform="rotate(0 116.2 116.3)"/><ellipse cx="173.1" cy="117.6" rx="5.0" ry="5.9" fill="url(#g00009e)" transform="rotate(40 173.1 117.6)"/><ellipse cx="224.9" cy="123.1" rx="5.0" ry="5.9" fill="url(#g0404de)" transform="rotate(40 224.9 123.1)"/><ellipse cx="22.5" cy="126.7" rx="5.0" ry="5.9" fill="url(#g0404de)" transform="rotate(90 22.5 126.7)"/><ellipse cx="62.2" cy="129.4" rx="5.0" ry="5.9" fill="url(#g0404de)" transform="rotate(20 62.2 129.4)"/><ellipse cx="76.5" cy="129.4" rx="5.0" ry="5.9" fill="url(#g00009e)" transform="rotate(150 76.5 129.4)"/><ellipse cx="87.4" cy="139.5" rx="5.0" ry="5.9" fill="url(#g00009e)" transform="rotate(20 87.4 139.5)"/><ellipse cx="150.4" cy="143.1" rx="5.0" ry="5.9" fill="url(#g00009e)" transform="rotate(40 150.4 143.1)"/><ellipse cx="238.6" cy="145.6" rx="5.0" ry="5.9" fill="url(#g00009e)" transform="rotate(150 238.6 145.6)"/><ellipse cx="22.3" cy="149.7" rx="5.0" ry="5.9" fill="url(#g000060)" transform="rotate(60 22.3 149.7)"/><ellipse cx="193.4" cy="150.5" rx="5.0" ry="5.9" fill="url(#g00009e)" transform="rotate(120 193.4 150.5)"/><ellipse cx="160.5" cy="155.2" rx="5.0" ry="5.9" fill="url(#g0404de)" transform="rotate(0 160.5 155.2)"/><ellipse cx="222.4" cy="155.2" rx="5.0" ry="5.9" fill="url(#g000060)" transform="rotate(60 222.4 155.2)"/><ellipse cx="29.9" cy="159.3" rx="5.0" ry="5.9" fill="url(#g00009e)" transform="rotate(20 29.9 159.3)"/><ellipse cx="89.3" cy="163.6" rx="5.0" ry="5.9" fill="url(#g00009e)" transform="rotate(170 89.3 163.6)"/><ellipse cx="101.9" cy="164.7" rx="5.0" ry="5.9" fill="url(#g00009e)" transform="rotate(60 101.9 164.7)"/><ellipse cx="3.1" cy="168.3" rx="5.0" ry="5.9" fill="url(#g00009e)" transform="rotate(40 3.1 168.3)"/><ellipse cx="39.5" cy="167.5" rx="5.0" ry="5.9" fill="url(#g000060)" transform="rotate(90 39.5 167.5)"/><ellipse cx="238.6" cy="166.9" rx="5.0" ry="5.9" fill="url(#g000060)" transform="rotate(150 238.6 166.9)"/><ellipse cx="27.7" cy="179.8" rx="5.0" ry="5.9" fill="url(#g00009e)" transform="rotate(40 27.7 179.8)"/><ellipse cx="77.8" cy="181.4" rx="5.0" ry="5.9" fill="url(#g00009e)" transform="rotate(0 77.8 181.4)"/><ellipse cx="144.1" cy="180.6" rx="5.0" ry="5.9" fill="url(#g00009e)" transform="rotate(40 144.1 180.6)"/><ellipse cx="239.9" cy="182.5" rx="5.0" ry="5.9" fill="url(#g00009e)" transform="rotate(90 239.9 182.5)"/><ellipse cx="96.2" cy="186.1" rx="5.0" ry="5.9" fill="url(#g0404de)" transform="rotate(0 96.2 186.1)"/><ellipse cx="6.6" cy="197.6" rx="5.0" ry="5.9" fill="url(#g000060)" transform="rotate(40 6.6 197.6)"/><ellipse cx="219.7" cy="199.2" rx="5.0" ry="5.9" fill="url(#g000060)" transform="rotate(60 219.7 199.2)"/><ellipse cx="127.9" cy="199.8" rx="5.0" ry="5.9" fill="url(#g000060)" transform="rotate(120 127.9 199.8)"/><ellipse cx="1.2" cy="105.3" rx="5.0" ry="5.9" fill="url(#g000060)" transform="rotate(120 1.2 105.3)"/><ellipse cx="1.2" cy="127.2" rx="5.0" ry="5.9" fill="url(#g000060)" transform="rotate(40 1.2 127.2)"/><ellipse cx="2.0" cy="142.3" rx="5.0" ry="5.9" fill="url(#g000060)" transform="rotate(150 2.0 142.3)"/>
</g></g>
<rect x="0.6" y="0.6" width="251.4" height="200.4" fill="none" stroke="#000" stroke-width="1.2"/>
<rect x="0.3" y="0.3" width="118.5" height="38.0" fill="#fff" stroke="#111" stroke-width="1.2"/>
<text class="s" font-size="23.4" transform="translate(9.9,28.2) scale(1.014,1.11)">5 μg/mL</text>
</g>
<g transform="translate(1234.3,533.1)">
<rect width="252.6" height="201.6" fill="#0f001b"/>
<clipPath id="cp21"><rect width="252.6" height="201.6"/></clipPath>
<g clip-path="url(#cp21)"><g>
<g fill="url(#hv)"><circle cx="144.1" cy="12.2" r="13"/><circle cx="159.7" cy="17.7" r="13"/><circle cx="189.8" cy="12.8" r="13"/><circle cx="218.8" cy="5.9" r="13"/><circle cx="248.1" cy="19.6" r="13"/><circle cx="198.0" cy="25.9" r="13"/><circle cx="149.5" cy="25.4" r="13"/><circle cx="132.3" cy="31.4" r="13"/><circle cx="172.8" cy="23.2" r="13"/><circle cx="241.3" cy="30.0" r="13"/><circle cx="228.9" cy="32.8" r="13"/><circle cx="178.8" cy="32.2" r="13"/><circle cx="186.5" cy="34.9" r="13"/><circle cx="210.6" cy="34.9" r="13"/><circle cx="48.2" cy="41.0" r="13"/><circle cx="83.8" cy="43.7" r="13"/><circle cx="133.7" cy="47.0" r="13"/><circle cx="143.2" cy="51.4" r="13"/><circle cx="205.1" cy="45.1" r="13"/><circle cx="38.6" cy="54.1" r="13"/><circle cx="74.8" cy="55.2" r="13"/><circle cx="95.3" cy="52.7" r="13"/><circle cx="218.5" cy="54.7" r="13"/><circle cx="206.2" cy="54.7" r="13"/><circle cx="9.9" cy="53.3" r="13"/><circle cx="17.3" cy="58.8" r="13"/><circle cx="163.8" cy="59.6" r="13"/><circle cx="32.3" cy="67.0" r="13"/><circle cx="129.5" cy="67.8" r="13"/><circle cx="113.9" cy="68.9" r="13"/><circle cx="195.3" cy="65.6" r="13"/><circle cx="228.9" cy="67.0" r="13"/><circle cx="70.1" cy="73.3" r="13"/><circle cx="102.4" cy="73.3" r="13"/><circle cx="161.3" cy="72.5" r="13"/><circle cx="178.3" cy="73.8" r="13"/><circle cx="83.0" cy="80.1" r="13"/><circle cx="27.7" cy="81.2" r="13"/><circle cx="139.9" cy="82.6" r="13"/><circle cx="203.5" cy="80.1" r="13"/><circle cx="219.4" cy="81.5" r="13"/><circle cx="57.8" cy="84.8" r="13"/><circle cx="92.0" cy="87.0" r="13"/><circle cx="211.1" cy="85.6" r="13"/><circle cx="45.5" cy="91.6" r="13"/><circle cx="150.4" cy="93.0" r="13"/><circle cx="157.7" cy="94.4" r="13"/><circle cx="228.1" cy="95.2" r="13"/><circle cx="137.2" cy="97.9" r="13"/><circle cx="23.6" cy="95.7" r="13"/><circle cx="186.5" cy="93.0" r="13"/><circle cx="194.7" cy="96.3" r="13"/><circle cx="106.3" cy="102.6" r="13"/><circle cx="70.1" cy="103.4" r="13"/><circle cx="89.8" cy="105.3" r="13"/><circle cx="180.5" cy="100.7" r="13"/><circle cx="201.0" cy="101.2" r="13"/><circle cx="11.3" cy="106.7" r="13"/><circle cx="241.3" cy="105.3" r="13"/><circle cx="171.4" cy="108.9" r="13"/><circle cx="161.9" cy="109.4" r="13"/><circle cx="29.1" cy="112.7" r="13"/><circle cx="53.7" cy="114.9" r="13"/><circle cx="85.2" cy="116.3" r="13"/><circle cx="77.0" cy="116.3" r="13"/><circle cx="219.4" cy="113.5" r="13"/><circle cx="196.1" cy="118.2" r="13"/><circle cx="150.9" cy="114.9" r="13"/><circle cx="164.6" cy="120.4" r="13"/><circle cx="72.9" cy="123.1" r="13"/><circle cx="36.7" cy="124.5" r="13"/><circle cx="179.1" cy="124.5" r="13"/><circle cx="244.8" cy="126.4" r="13"/><circle cx="138.6" cy="128.0" r="13"/><circle cx="194.2" cy="128.6" r="13"/><circle cx="98.3" cy="132.2" r="13"/><circle cx="120.0" cy="133.3" r="13"/><circle cx="144.6" cy="134.1" r="13"/><circle cx="66.8" cy="134.1" r="13"/><circle cx="35.3" cy="134.9" r="13"/><circle cx="209.2" cy="132.2" r="13"/><circle cx="170.6" cy="135.4" r="13"/><circle cx="228.4" cy="138.7" r="13"/><circle cx="5.2" cy="142.3" r="13"/><circle cx="53.7" cy="143.7" r="13"/><circle cx="94.8" cy="142.3" r="13"/><circle cx="202.9" cy="143.7" r="13"/><circle cx="244.0" cy="142.3" r="13"/><circle cx="183.2" cy="147.8" r="13"/><circle cx="133.1" cy="154.1" r="13"/><circle cx="6.3" cy="156.0" r="13"/><circle cx="87.9" cy="156.0" r="13"/><circle cx="72.9" cy="160.1" r="13"/><circle cx="196.1" cy="161.5" r="13"/><circle cx="208.4" cy="157.3" r="13"/><circle cx="235.0" cy="159.3" r="13"/><circle cx="244.8" cy="158.7" r="13"/><circle cx="53.7" cy="161.5" r="13"/><circle cx="162.4" cy="162.0" r="13"/><circle cx="34.5" cy="164.2" r="13"/><circle cx="125.7" cy="165.6" r="13"/><circle cx="93.9" cy="167.5" r="13"/><circle cx="5.2" cy="168.3" r="13"/><circle cx="233.0" cy="169.7" r="13"/><circle cx="54.2" cy="173.8" r="13"/><circle cx="68.8" cy="173.8" r="13"/><circle cx="186.5" cy="175.1" r="13"/><circle cx="215.3" cy="175.1" r="13"/><circle cx="175.5" cy="179.3" r="13"/><circle cx="231.1" cy="179.3" r="13"/><circle cx="29.6" cy="181.2" r="13"/><circle cx="72.3" cy="182.0" r="13"/><circle cx="158.3" cy="182.8" r="13"/><circle cx="195.3" cy="181.2" r="13"/><circle cx="247.6" cy="179.3" r="13"/><circle cx="44.7" cy="188.0" r="13"/><circle cx="196.9" cy="188.3" r="13"/><circle cx="215.3" cy="188.8" r="13"/><circle cx="90.7" cy="194.3" r="13"/><circle cx="69.3" cy="190.2" r="13"/><circle cx="181.0" cy="191.6" r="13"/><circle cx="22.8" cy="195.7" r="13"/><circle cx="166.8" cy="195.7" r="13"/><circle cx="196.9" cy="196.5" r="13"/><circle cx="9.9" cy="188.8" r="13"/></g><ellipse cx="144.1" cy="12.2" rx="5.4" ry="6.4" fill="url(#g2a0072)" transform="rotate(150 144.1 12.2)"/><ellipse cx="159.7" cy="17.7" rx="5.4" ry="6.4" fill="url(#g2a0072)" transform="rotate(0 159.7 17.7)"/><ellipse cx="189.8" cy="12.8" rx="5.4" ry="6.4" fill="url(#g380a9c)" transform="rotate(90 189.8 12.8)"/><ellipse cx="218.8" cy="5.9" rx="5.4" ry="6.4" fill="url(#g3a0062)" transform="rotate(120 218.8 5.9)"/><ellipse cx="248.1" cy="19.6" rx="5.4" ry="6.4" fill="url(#g2a0072)" transform="rotate(60 248.1 19.6)"/><ellipse cx="198.0" cy="25.9" rx="5.4" ry="6.4" fill="url(#g480046)" transform="rotate(90 198.0 25.9)"/><ellipse cx="149.5" cy="25.4" rx="5.4" ry="6.4" fill="url(#g2a0072)" transform="rotate(150 149.5 25.4)"/><ellipse cx="132.3" cy="31.4" rx="5.4" ry="6.4" fill="url(#g380a9c)" transform="rotate(40 132.3 31.4)"/><ellipse cx="172.8" cy="23.2" rx="5.4" ry="6.4" fill="url(#g2a0072)" transform="rotate(120 172.8 23.2)"/><ellipse cx="241.3" cy="30.0" rx="5.4" ry="6.4" fill="url(#g00009e)" transform="rotate(20 241.3 30.0)"/><ellipse cx="228.9" cy="32.8" rx="5.4" ry="6.4" fill="url(#g2a0072)" transform="rotate(150 228.9 32.8)"/><ellipse cx="178.8" cy="32.2" rx="5.4" ry="6.4" fill="url(#g3a0062)" transform="rotate(90 178.8 32.2)"/><ellipse cx="186.5" cy="34.9" rx="5.4" ry="6.4" fill="url(#g3a0062)" transform="rotate(40 186.5 34.9)"/><ellipse cx="210.6" cy="34.9" rx="5.4" ry="6.4" fill="url(#g2a0072)" transform="rotate(40 210.6 34.9)"/><ellipse cx="48.2" cy="41.0" rx="5.4" ry="6.4" fill="url(#g3a0062)" transform="rotate(120 48.2 41.0)"/><ellipse cx="83.8" cy="43.7" rx="5.4" ry="6.4" fill="url(#g2a0072)" transform="rotate(20 83.8 43.7)"/><ellipse cx="133.7" cy="47.0" rx="5.4" ry="6.4" fill="url(#g2a0072)" transform="rotate(150 133.7 47.0)"/><ellipse cx="143.2" cy="51.4" rx="5.4" ry="6.4" fill="url(#g00009e)" transform="rotate(40 143.2 51.4)"/><ellipse cx="116.7" cy="47.8" rx="2.8" ry="2.8" fill="url(#g440022)"/><ellipse cx="205.1" cy="45.1" rx="5.4" ry="6.4" fill="url(#g2a0072)" transform="rotate(60 205.1 45.1)"/><ellipse cx="38.6" cy="54.1" rx="5.4" ry="6.4" fill="url(#g2a0072)" transform="rotate(20 38.6 54.1)"/><ellipse cx="74.8" cy="55.2" rx="5.4" ry="6.4" fill="url(#g2a0072)" transform="rotate(60 74.8 55.2)"/><ellipse cx="95.3" cy="52.7" rx="5.4" ry="6.4" fill="url(#g3a0062)" transform="rotate(120 95.3 52.7)"/><ellipse cx="218.5" cy="54.7" rx="5.4" ry="6.4" fill="url(#g480046)" transform="rotate(120 218.5 54.7)"/><ellipse cx="250.0" cy="56.0" rx="2.8" ry="2.8" fill="url(#g780830)"/><ellipse cx="206.2" cy="54.7" rx="5.4" ry="6.4" fill="url(#g2a0072)" transform="rotate(170 206.2 54.7)"/><ellipse cx="9.9" cy="53.3" rx="5.4" ry="6.4" fill="url(#g3a0062)" transform="rotate(120 9.9 53.3)"/><ellipse cx="17.3" cy="58.8" rx="5.4" ry="6.4" fill="url(#g3a0062)" transform="rotate(0 17.3 58.8)"/><ellipse cx="163.8" cy="59.6" rx="5.4" ry="6.4" fill="url(#g3a0062)" transform="rotate(150 163.8 59.6)"/><ellipse cx="32.3" cy="67.0" rx="5.4" ry="6.4" fill="url(#g3a0062)" transform="rotate(0 32.3 67.0)"/><ellipse cx="129.5" cy="67.8" rx="5.4" ry="6.4" fill="url(#g74086a)" transform="rotate(0 129.5 67.8)"/><ellipse cx="113.9" cy="68.9" rx="5.4" ry="6.4" fill="url(#g3a0062)" transform="rotate(40 113.9 68.9)"/><ellipse cx="195.3" cy="65.6" rx="5.4" ry="6.4" fill="url(#g3a0062)" transform="rotate(40 195.3 65.6)"/><ellipse cx="228.9" cy="67.0" rx="5.4" ry="6.4" fill="url(#g2a0072)" transform="rotate(90 228.9 67.0)"/><ellipse cx="70.1" cy="73.3" rx="5.4" ry="6.4" fill="url(#g2a0072)" transform="rotate(20 70.1 73.3)"/><ellipse cx="102.4" cy="73.3" rx="5.4" ry="6.4" fill="url(#g3a0062)" transform="rotate(150 102.4 73.3)"/><ellipse cx="161.3" cy="72.5" rx="5.4" ry="6.4" fill="url(#g3a0062)" transform="rotate(20 161.3 72.5)"/><ellipse cx="178.3" cy="73.8" rx="5.4" ry="6.4" fill="url(#g480046)" transform="rotate(40 178.3 73.8)"/><ellipse cx="83.0" cy="80.1" rx="5.4" ry="6.4" fill="url(#g380a9c)" transform="rotate(150 83.0 80.1)"/><ellipse cx="27.7" cy="81.2" rx="5.4" ry="6.4" fill="url(#g2a0072)" transform="rotate(60 27.7 81.2)"/><ellipse cx="139.9" cy="82.6" rx="5.4" ry="6.4" fill="url(#g00009e)" transform="rotate(120 139.9 82.6)"/><ellipse cx="203.5" cy="80.1" rx="5.4" ry="6.4" fill="url(#g2a0072)" transform="rotate(0 203.5 80.1)"/><ellipse cx="219.4" cy="81.5" rx="5.4" ry="6.4" fill="url(#g2a0072)" transform="rotate(60 219.4 81.5)"/><ellipse cx="57.8" cy="84.8" rx="5.4" ry="6.4" fill="url(#g3a0062)" transform="rotate(20 57.8 84.8)"/><ellipse cx="92.0" cy="87.0" rx="5.4" ry="6.4" fill="url(#g560a96)" transform="rotate(170 92.0 87.0)"/><ellipse cx="211.1" cy="85.6" rx="5.4" ry="6.4" fill="url(#g2a0072)" transform="rotate(60 211.1 85.6)"/><ellipse cx="45.5" cy="91.6" rx="5.4" ry="6.4" fill="url(#g3a0062)" transform="rotate(40 45.5 91.6)"/><ellipse cx="233.6" cy="86.2" rx="2.8" ry="2.8" fill="url(#g440022)"/><ellipse cx="150.4" cy="93.0" rx="5.4" ry="6.4" fill="url(#g2a0072)" transform="rotate(150 150.4 93.0)"/><ellipse cx="157.7" cy="94.4" rx="5.4" ry="6.4" fill="url(#g2a0072)" transform="rotate(40 157.7 94.4)"/><ellipse cx="228.1" cy="95.2" rx="5.4" ry="6.4" fill="url(#g3a0062)" transform="rotate(0 228.1 95.2)"/><ellipse cx="137.2" cy="97.9" rx="5.4" ry="6.4" fill="url(#g380a9c)" transform="rotate(40 137.2 97.9)"/><ellipse cx="170.6" cy="96.3" rx="2.8" ry="2.8" fill="url(#g780830)"/><ellipse cx="23.6" cy="95.7" rx="5.4" ry="6.4" fill="url(#g2a0072)" transform="rotate(0 23.6 95.7)"/><ellipse cx="186.5" cy="93.0" rx="5.4" ry="6.4" fill="url(#g3a0062)" transform="rotate(40 186.5 93.0)"/><ellipse cx="194.7" cy="96.3" rx="5.4" ry="6.4" fill="url(#g3a0062)" transform="rotate(60 194.7 96.3)"/><ellipse cx="106.3" cy="102.6" rx="4.5" ry="5.4" fill="url(#g0404de)" transform="rotate(120 106.3 102.6)"/><ellipse cx="70.1" cy="103.4" rx="5.4" ry="6.4" fill="url(#g480046)" transform="rotate(120 70.1 103.4)"/><ellipse cx="89.8" cy="105.3" rx="5.4" ry="6.4" fill="url(#g3a0062)" transform="rotate(40 89.8 105.3)"/><ellipse cx="180.5" cy="100.7" rx="5.4" ry="6.4" fill="url(#g3a0062)" transform="rotate(150 180.5 100.7)"/><ellipse cx="201.0" cy="101.2" rx="5.4" ry="6.4" fill="url(#g3a0062)" transform="rotate(120 201.0 101.2)"/><ellipse cx="11.3" cy="106.7" rx="5.4" ry="6.4" fill="url(#g3a0062)" transform="rotate(0 11.3 106.7)"/><ellipse cx="241.3" cy="105.3" rx="5.4" ry="6.4" fill="url(#g2a0072)" transform="rotate(0 241.3 105.3)"/><ellipse cx="171.4" cy="108.9" rx="5.4" ry="6.4" fill="url(#g380a9c)" transform="rotate(0 171.4 108.9)"/><ellipse cx="161.9" cy="109.4" rx="5.4" ry="6.4" fill="url(#g2a0072)" transform="rotate(170 161.9 109.4)"/><ellipse cx="29.1" cy="112.7" rx="5.4" ry="6.4" fill="url(#g2a0072)" transform="rotate(20 29.1 112.7)"/><ellipse cx="53.7" cy="114.9" rx="5.4" ry="6.4" fill="url(#g440022)" transform="rotate(150 53.7 114.9)"/><ellipse cx="85.2" cy="116.3" rx="5.4" ry="6.4" fill="url(#g2a0072)" transform="rotate(40 85.2 116.3)"/><ellipse cx="77.0" cy="116.3" rx="5.4" ry="6.4" fill="url(#g2a0072)" transform="rotate(0 77.0 116.3)"/><ellipse cx="219.4" cy="113.5" rx="5.4" ry="6.4" fill="url(#g2a0072)" transform="rotate(120 219.4 113.5)"/><ellipse cx="224.3" cy="116.3" rx="3.4" ry="3.4" fill="url(#gff1460)"/><ellipse cx="196.1" cy="118.2" rx="5.4" ry="6.4" fill="url(#g2a0072)" transform="rotate(20 196.1 118.2)"/><ellipse cx="150.9" cy="114.9" rx="5.4" ry="6.4" fill="url(#g3a0062)" transform="rotate(170 150.9 114.9)"/><ellipse cx="164.6" cy="120.4" rx="5.4" ry="6.4" fill="url(#g2a0072)" transform="rotate(0 164.6 120.4)"/><ellipse cx="72.9" cy="123.1" rx="5.4" ry="6.4" fill="url(#g3a0062)" transform="rotate(0 72.9 123.1)"/><ellipse cx="36.7" cy="124.5" rx="5.4" ry="6.4" fill="url(#g2a0072)" transform="rotate(170 36.7 124.5)"/><ellipse cx="179.1" cy="124.5" rx="5.4" ry="6.4" fill="url(#g3a0062)" transform="rotate(120 179.1 124.5)"/><ellipse cx="244.8" cy="126.4" rx="5.4" ry="6.4" fill="url(#g380a9c)" transform="rotate(150 244.8 126.4)"/><ellipse cx="138.6" cy="128.0" rx="5.4" ry="6.4" fill="url(#g480046)" transform="rotate(60 138.6 128.0)"/><ellipse cx="194.2" cy="128.6" rx="5.4" ry="6.4" fill="url(#g3a0062)" transform="rotate(120 194.2 128.6)"/><ellipse cx="98.3" cy="132.2" rx="5.4" ry="6.4" fill="url(#g480046)" transform="rotate(20 98.3 132.2)"/><ellipse cx="120.0" cy="133.3" rx="5.4" ry="6.4" fill="url(#g2a0072)" transform="rotate(40 120.0 133.3)"/><ellipse cx="144.6" cy="134.1" rx="5.4" ry="6.4" fill="url(#g3a0062)" transform="rotate(20 144.6 134.1)"/><ellipse cx="66.8" cy="134.1" rx="5.4" ry="6.4" fill="url(#g3a0062)" transform="rotate(170 66.8 134.1)"/><ellipse cx="35.3" cy="134.9" rx="5.4" ry="6.4" fill="url(#g2a0072)" transform="rotate(40 35.3 134.9)"/><ellipse cx="209.2" cy="132.2" rx="5.4" ry="6.4" fill="url(#g3a0062)" transform="rotate(120 209.2 132.2)"/><ellipse cx="170.6" cy="135.4" rx="5.4" ry="6.4" fill="url(#g2a0072)" transform="rotate(60 170.6 135.4)"/><ellipse cx="228.4" cy="138.7" rx="5.4" ry="6.4" fill="url(#g3a0062)" transform="rotate(60 228.4 138.7)"/><ellipse cx="5.2" cy="142.3" rx="5.4" ry="6.4" fill="url(#g2a0072)" transform="rotate(40 5.2 142.3)"/><ellipse cx="53.7" cy="143.7" rx="5.4" ry="6.4" fill="url(#g00009e)" transform="rotate(40 53.7 143.7)"/><ellipse cx="94.8" cy="142.3" rx="5.4" ry="6.4" fill="url(#g3a0062)" transform="rotate(90 94.8 142.3)"/><ellipse cx="202.9" cy="143.7" rx="5.4" ry="6.4" fill="url(#g3a0062)" transform="rotate(40 202.9 143.7)"/><ellipse cx="244.0" cy="142.3" rx="5.4" ry="6.4" fill="url(#g3a0062)" transform="rotate(20 244.0 142.3)"/><ellipse cx="165.1" cy="147.2" rx="3.4" ry="3.4" fill="url(#gff1460)"/><ellipse cx="183.2" cy="147.8" rx="5.4" ry="6.4" fill="url(#g3a0062)" transform="rotate(40 183.2 147.8)"/><ellipse cx="133.1" cy="154.1" rx="5.4" ry="6.4" fill="url(#g480046)" transform="rotate(0 133.1 154.1)"/><ellipse cx="6.3" cy="156.0" rx="5.4" ry="6.4" fill="url(#g2a0072)" transform="rotate(170 6.3 156.0)"/><ellipse cx="87.9" cy="156.0" rx="5.4" ry="6.4" fill="url(#g3a0062)" transform="rotate(40 87.9 156.0)"/><ellipse cx="72.9" cy="160.1" rx="5.4" ry="6.4" fill="url(#g380a9c)" transform="rotate(20 72.9 160.1)"/><ellipse cx="196.1" cy="161.5" rx="5.4" ry="6.4" fill="url(#g2a0072)" transform="rotate(90 196.1 161.5)"/><ellipse cx="208.4" cy="157.3" rx="5.4" ry="6.4" fill="url(#g2a0072)" transform="rotate(150 208.4 157.3)"/><ellipse cx="235.0" cy="159.3" rx="5.4" ry="6.4" fill="url(#g2a0072)" transform="rotate(20 235.0 159.3)"/><ellipse cx="244.8" cy="158.7" rx="5.4" ry="6.4" fill="url(#g2a0072)" transform="rotate(170 244.8 158.7)"/><ellipse cx="53.7" cy="161.5" rx="5.4" ry="6.4" fill="url(#g3a0062)" transform="rotate(150 53.7 161.5)"/><ellipse cx="162.4" cy="162.0" rx="5.4" ry="6.4" fill="url(#g3a0062)" transform="rotate(40 162.4 162.0)"/><ellipse cx="34.5" cy="164.2" rx="5.4" ry="6.4" fill="url(#g480046)" transform="rotate(60 34.5 164.2)"/><ellipse cx="125.7" cy="165.6" rx="5.4" ry="6.4" fill="url(#g3a0062)" transform="rotate(40 125.7 165.6)"/><ellipse cx="93.9" cy="167.5" rx="5.4" ry="6.4" fill="url(#g3a0062)" transform="rotate(0 93.9 167.5)"/><ellipse cx="5.2" cy="168.3" rx="5.4" ry="6.4" fill="url(#g2a0072)" transform="rotate(120 5.2 168.3)"/><ellipse cx="233.0" cy="169.7" rx="4.5" ry="5.4" fill="url(#g0404de)" transform="rotate(120 233.0 169.7)"/><ellipse cx="54.2" cy="173.8" rx="5.4" ry="6.4" fill="url(#g3a0062)" transform="rotate(40 54.2 173.8)"/><ellipse cx="68.8" cy="173.8" rx="5.4" ry="6.4" fill="url(#g2a0072)" transform="rotate(150 68.8 173.8)"/><ellipse cx="186.5" cy="175.1" rx="5.4" ry="6.4" fill="url(#g2a0072)" transform="rotate(40 186.5 175.1)"/><ellipse cx="215.3" cy="175.1" rx="5.4" ry="6.4" fill="url(#g2a0072)" transform="rotate(40 215.3 175.1)"/><ellipse cx="175.5" cy="179.3" rx="5.4" ry="6.4" fill="url(#g3a0062)" transform="rotate(60 175.5 179.3)"/><ellipse cx="231.1" cy="179.3" rx="5.4" ry="6.4" fill="url(#g3a0062)" transform="rotate(150 231.1 179.3)"/><ellipse cx="29.6" cy="181.2" rx="5.4" ry="6.4" fill="url(#g3a0062)" transform="rotate(150 29.6 181.2)"/><ellipse cx="72.3" cy="182.0" rx="5.4" ry="6.4" fill="url(#g3a0062)" transform="rotate(120 72.3 182.0)"/><ellipse cx="158.3" cy="182.8" rx="5.4" ry="6.4" fill="url(#g3a0062)" transform="rotate(20 158.3 182.8)"/><ellipse cx="195.3" cy="181.2" rx="5.4" ry="6.4" fill="url(#g380a9c)" transform="rotate(20 195.3 181.2)"/><ellipse cx="247.6" cy="179.3" rx="5.4" ry="6.4" fill="url(#g2a0072)" transform="rotate(170 247.6 179.3)"/><ellipse cx="44.7" cy="188.0" rx="5.4" ry="6.4" fill="url(#g2a0072)" transform="rotate(60 44.7 188.0)"/><ellipse cx="196.9" cy="188.3" rx="4.5" ry="5.4" fill="url(#g0404de)" transform="rotate(60 196.9 188.3)"/><ellipse cx="135.8" cy="180.6" rx="2.8" ry="2.8" fill="url(#g440022)"/><ellipse cx="241.3" cy="188.3" rx="2.8" ry="2.8" fill="url(#g560a96)"/><ellipse cx="215.3" cy="188.8" rx="5.4" ry="6.4" fill="url(#g2a0072)" transform="rotate(120 215.3 188.8)"/><ellipse cx="90.7" cy="194.3" rx="5.4" ry="6.4" fill="url(#g3a0062)" transform="rotate(90 90.7 194.3)"/><ellipse cx="69.3" cy="190.2" rx="5.4" ry="6.4" fill="url(#g3a0062)" transform="rotate(40 69.3 190.2)"/><ellipse cx="181.0" cy="191.6" rx="5.4" ry="6.4" fill="url(#g3a0062)" transform="rotate(0 181.0 191.6)"/><ellipse cx="22.8" cy="195.7" rx="5.4" ry="6.4" fill="url(#g3a0062)" transform="rotate(90 22.8 195.7)"/><ellipse cx="37.3" cy="193.8" rx="2.8" ry="2.8" fill="url(#g560a96)"/><ellipse cx="166.8" cy="195.7" rx="5.4" ry="6.4" fill="url(#g3a0062)" transform="rotate(0 166.8 195.7)"/><ellipse cx="196.9" cy="196.5" rx="5.4" ry="6.4" fill="url(#g3a0062)" transform="rotate(120 196.9 196.5)"/><ellipse cx="9.9" cy="188.8" rx="5.4" ry="6.4" fill="url(#g2a0072)" transform="rotate(20 9.9 188.8)"/>
</g></g>
<rect x="0.6" y="0.6" width="251.4" height="200.4" fill="none" stroke="#000" stroke-width="1.2"/>
<rect x="0.3" y="0.3" width="118.5" height="38.0" fill="#fff" stroke="#111" stroke-width="1.2"/>
<text class="s" font-size="23.4" transform="translate(9.9,28.2) scale(1.014,1.11)">5 μg/mL</text>
</g>
<g transform="translate(1516.3,533.1)">
<rect width="252.6" height="201.6" fill="#120016"/>
<clipPath id="cp22"><rect width="252.6" height="201.6"/></clipPath>
<g clip-path="url(#cp22)"><g>
<g fill="url(#hr)"><circle cx="205.6" cy="5.4" r="12"/><circle cx="146.2" cy="10.3" r="12"/><circle cx="171.7" cy="17.7" r="12"/><circle cx="224.2" cy="26.5" r="12"/><circle cx="242.9" cy="32.2" r="12"/><circle cx="140.7" cy="37.7" r="12"/><circle cx="163.2" cy="42.3" r="12"/><circle cx="187.3" cy="39.1" r="12"/><circle cx="193.3" cy="51.9" r="12"/><circle cx="205.1" cy="49.2" r="12"/><circle cx="225.6" cy="53.3" r="12"/><circle cx="7.9" cy="51.4" r="12"/><circle cx="18.3" cy="47.8" r="12"/><circle cx="26.5" cy="57.4" r="12"/><circle cx="196.9" cy="61.5" r="12"/><circle cx="118.0" cy="63.4" r="12"/><circle cx="137.2" cy="61.0" r="12"/><circle cx="181.8" cy="65.6" r="12"/><circle cx="12.0" cy="68.4" r="12"/><circle cx="79.7" cy="74.4" r="12"/><circle cx="86.8" cy="74.4" r="12"/><circle cx="110.6" cy="79.3" r="12"/><circle cx="28.5" cy="80.1" r="12"/><circle cx="133.1" cy="84.2" r="12"/><circle cx="35.8" cy="86.7" r="12"/><circle cx="16.1" cy="91.1" r="12"/><circle cx="27.1" cy="94.9" r="12"/><circle cx="125.1" cy="97.1" r="12"/><circle cx="246.1" cy="92.2" r="12"/><circle cx="168.9" cy="100.7" r="12"/><circle cx="216.0" cy="115.7" r="12"/><circle cx="188.1" cy="121.2" r="12"/><circle cx="63.2" cy="125.0" r="12"/><circle cx="240.7" cy="126.7" r="12"/><circle cx="178.2" cy="130.8" r="12"/><circle cx="28.5" cy="134.1" r="12"/><circle cx="79.1" cy="136.8" r="12"/><circle cx="141.3" cy="140.1" r="12"/><circle cx="224.2" cy="139.5" r="12"/><circle cx="248.9" cy="144.2" r="12"/><circle cx="114.7" cy="144.2" r="12"/><circle cx="102.4" cy="150.5" r="12"/><circle cx="58.0" cy="151.9" r="12"/><circle cx="75.0" cy="155.4" r="12"/><circle cx="237.4" cy="153.2" r="12"/><circle cx="178.2" cy="159.3" r="12"/><circle cx="207.0" cy="161.5" r="12"/><circle cx="154.4" cy="165.0" r="12"/><circle cx="224.2" cy="168.3" r="12"/><circle cx="103.8" cy="177.9" r="12"/><circle cx="139.3" cy="181.4" r="12"/><circle cx="218.2" cy="182.0" r="12"/><circle cx="120.2" cy="187.5" r="12"/><circle cx="143.5" cy="195.7" r="12"/><circle cx="100.5" cy="197.1" r="12"/><circle cx="48.4" cy="197.1" r="12"/><circle cx="18.9" cy="197.6" r="12"/><circle cx="244.8" cy="194.9" r="12"/><circle cx="213.3" cy="198.4" r="12"/></g><ellipse cx="205.6" cy="5.4" rx="5.4" ry="6.4" fill="url(#g46001c)" transform="rotate(150 205.6 5.4)"/><ellipse cx="146.2" cy="10.3" rx="5.4" ry="6.4" fill="url(#g46001c)" transform="rotate(0 146.2 10.3)"/><ellipse cx="171.7" cy="17.7" rx="5.4" ry="6.4" fill="url(#g66004c)" transform="rotate(90 171.7 17.7)"/><ellipse cx="224.2" cy="26.5" rx="5.4" ry="6.4" fill="url(#g46001c)" transform="rotate(120 224.2 26.5)"/><ellipse cx="242.9" cy="32.2" rx="5.4" ry="6.4" fill="url(#g46001c)" transform="rotate(60 242.9 32.2)"/><ellipse cx="140.7" cy="37.7" rx="5.4" ry="6.4" fill="url(#g72002a)" transform="rotate(90 140.7 37.7)"/><ellipse cx="163.2" cy="42.3" rx="5.4" ry="6.4" fill="url(#g72002a)" transform="rotate(150 163.2 42.3)"/><ellipse cx="187.3" cy="39.1" rx="5.4" ry="6.4" fill="url(#g400034)" transform="rotate(40 187.3 39.1)"/><ellipse cx="146.7" cy="50.0" rx="3.4" ry="3.4" fill="url(#gff1460)"/><ellipse cx="193.3" cy="51.9" rx="5.4" ry="6.4" fill="url(#g46001c)" transform="rotate(20 193.3 51.9)"/><ellipse cx="205.1" cy="49.2" rx="5.4" ry="6.4" fill="url(#g46001c)" transform="rotate(150 205.1 49.2)"/><ellipse cx="225.6" cy="53.3" rx="5.4" ry="6.4" fill="url(#g46001c)" transform="rotate(90 225.6 53.3)"/><ellipse cx="7.9" cy="51.4" rx="5.4" ry="6.4" fill="url(#g46001c)" transform="rotate(40 7.9 51.4)"/><ellipse cx="18.3" cy="47.8" rx="5.4" ry="6.4" fill="url(#g3a0062)" transform="rotate(40 18.3 47.8)"/><ellipse cx="26.5" cy="57.4" rx="5.4" ry="6.4" fill="url(#g2a0072)" transform="rotate(120 26.5 57.4)"/><ellipse cx="196.9" cy="61.5" rx="5.4" ry="6.4" fill="url(#g72002a)" transform="rotate(20 196.9 61.5)"/><ellipse cx="118.0" cy="63.4" rx="5.4" ry="6.4" fill="url(#g400034)" transform="rotate(150 118.0 63.4)"/><ellipse cx="137.2" cy="61.0" rx="5.4" ry="6.4" fill="url(#g400034)" transform="rotate(40 137.2 61.0)"/><ellipse cx="181.8" cy="65.6" rx="5.4" ry="6.4" fill="url(#g66004c)" transform="rotate(40 181.8 65.6)"/><ellipse cx="12.0" cy="68.4" rx="5.4" ry="6.4" fill="url(#g46001c)" transform="rotate(60 12.0 68.4)"/><ellipse cx="79.7" cy="74.4" rx="5.4" ry="6.4" fill="url(#g400034)" transform="rotate(20 79.7 74.4)"/><ellipse cx="86.8" cy="74.4" rx="5.4" ry="6.4" fill="url(#g560a96)" transform="rotate(60 86.8 74.4)"/><ellipse cx="174.9" cy="76.0" rx="2.8" ry="2.8" fill="url(#g560a96)"/><ellipse cx="110.6" cy="79.3" rx="5.4" ry="6.4" fill="url(#g2a0072)" transform="rotate(120 110.6 79.3)"/><ellipse cx="28.5" cy="80.1" rx="5.4" ry="6.4" fill="url(#g46001c)" transform="rotate(0 28.5 80.1)"/><ellipse cx="133.1" cy="84.2" rx="5.4" ry="6.4" fill="url(#g46001c)" transform="rotate(170 133.1 84.2)"/><ellipse cx="173.6" cy="84.8" rx="2.8" ry="2.8" fill="url(#g560a96)"/><ellipse cx="35.8" cy="86.7" rx="5.4" ry="6.4" fill="url(#g46001c)" transform="rotate(0 35.8 86.7)"/><ellipse cx="16.1" cy="91.1" rx="4.5" ry="5.4" fill="url(#g7418e0)" transform="rotate(150 16.1 91.1)"/><ellipse cx="27.1" cy="94.9" rx="5.4" ry="6.4" fill="url(#g46001c)" transform="rotate(0 27.1 94.9)"/><ellipse cx="125.1" cy="97.1" rx="5.4" ry="6.4" fill="url(#g72002a)" transform="rotate(0 125.1 97.1)"/><ellipse cx="246.1" cy="92.2" rx="5.4" ry="6.4" fill="url(#g46001c)" transform="rotate(40 246.1 92.2)"/><ellipse cx="168.9" cy="100.7" rx="5.4" ry="6.4" fill="url(#g46001c)" transform="rotate(40 168.9 100.7)"/><ellipse cx="216.0" cy="115.7" rx="5.4" ry="6.4" fill="url(#g72002a)" transform="rotate(90 216.0 115.7)"/><ellipse cx="188.1" cy="121.2" rx="5.4" ry="6.4" fill="url(#g3a0062)" transform="rotate(20 188.1 121.2)"/><ellipse cx="63.2" cy="125.0" rx="5.4" ry="6.4" fill="url(#g2a0072)" transform="rotate(150 63.2 125.0)"/><ellipse cx="240.7" cy="126.7" rx="5.4" ry="6.4" fill="url(#g3a0062)" transform="rotate(20 240.7 126.7)"/><ellipse cx="178.2" cy="130.8" rx="5.4" ry="6.4" fill="url(#g3a0062)" transform="rotate(40 178.2 130.8)"/><ellipse cx="28.5" cy="134.1" rx="5.4" ry="6.4" fill="url(#g72002a)" transform="rotate(150 28.5 134.1)"/><ellipse cx="79.1" cy="136.8" rx="5.4" ry="6.4" fill="url(#g46001c)" transform="rotate(60 79.1 136.8)"/><ellipse cx="141.3" cy="140.1" rx="5.4" ry="6.4" fill="url(#g46001c)" transform="rotate(120 141.3 140.1)"/><ellipse cx="148.9" cy="138.2" rx="2.8" ry="2.8" fill="url(#g2a0072)"/><ellipse cx="224.2" cy="139.5" rx="5.4" ry="6.4" fill="url(#g46001c)" transform="rotate(60 224.2 139.5)"/><ellipse cx="248.9" cy="144.2" rx="5.4" ry="6.4" fill="url(#g46001c)" transform="rotate(20 248.9 144.2)"/><ellipse cx="114.7" cy="144.2" rx="5.4" ry="6.4" fill="url(#g400034)" transform="rotate(170 114.7 144.2)"/><ellipse cx="102.4" cy="150.5" rx="5.4" ry="6.4" fill="url(#g46001c)" transform="rotate(60 102.4 150.5)"/><ellipse cx="58.0" cy="151.9" rx="5.4" ry="6.4" fill="url(#g3a0062)" transform="rotate(40 58.0 151.9)"/><ellipse cx="75.0" cy="155.4" rx="5.4" ry="6.4" fill="url(#g72002a)" transform="rotate(90 75.0 155.4)"/><ellipse cx="237.4" cy="153.2" rx="5.4" ry="6.4" fill="url(#g46001c)" transform="rotate(150 237.4 153.2)"/><ellipse cx="178.2" cy="159.3" rx="4.5" ry="5.4" fill="url(#g7418e0)" transform="rotate(40 178.2 159.3)"/><ellipse cx="207.0" cy="161.5" rx="5.4" ry="6.4" fill="url(#g46001c)" transform="rotate(0 207.0 161.5)"/><ellipse cx="154.4" cy="165.0" rx="5.4" ry="6.4" fill="url(#g72002a)" transform="rotate(40 154.4 165.0)"/><ellipse cx="224.2" cy="168.3" rx="5.4" ry="6.4" fill="url(#g46001c)" transform="rotate(90 224.2 168.3)"/><ellipse cx="103.8" cy="177.9" rx="4.5" ry="5.4" fill="url(#g66004c)" transform="rotate(0 103.8 177.9)"/><ellipse cx="139.3" cy="181.4" rx="5.4" ry="6.4" fill="url(#g46001c)" transform="rotate(40 139.3 181.4)"/><ellipse cx="218.2" cy="182.0" rx="5.4" ry="6.4" fill="url(#g46001c)" transform="rotate(60 218.2 182.0)"/><ellipse cx="120.2" cy="187.5" rx="5.4" ry="6.4" fill="url(#g46001c)" transform="rotate(120 120.2 187.5)"/><ellipse cx="143.5" cy="195.7" rx="5.4" ry="6.4" fill="url(#g3a0062)" transform="rotate(120 143.5 195.7)"/><ellipse cx="100.5" cy="197.1" rx="5.4" ry="6.4" fill="url(#g46001c)" transform="rotate(40 100.5 197.1)"/><ellipse cx="48.4" cy="197.1" rx="5.4" ry="6.4" fill="url(#g46001c)" transform="rotate(150 48.4 197.1)"/><ellipse cx="18.9" cy="197.6" rx="5.4" ry="6.4" fill="url(#g46001c)" transform="rotate(120 18.9 197.6)"/><ellipse cx="244.8" cy="194.9" rx="5.4" ry="6.4" fill="url(#g3a0062)" transform="rotate(0 244.8 194.9)"/><ellipse cx="213.3" cy="198.4" rx="5.4" ry="6.4" fill="url(#g3a0062)" transform="rotate(0 213.3 198.4)"/>
</g></g>
<rect x="0.6" y="0.6" width="251.4" height="200.4" fill="none" stroke="#000" stroke-width="1.2"/>
<rect x="0.3" y="0.3" width="118.5" height="38.0" fill="#fff" stroke="#111" stroke-width="1.2"/>
<text class="s" font-size="23.4" transform="translate(9.9,28.2) scale(1.014,1.11)">5 μg/mL</text>
</g>
</svg></body></html>
